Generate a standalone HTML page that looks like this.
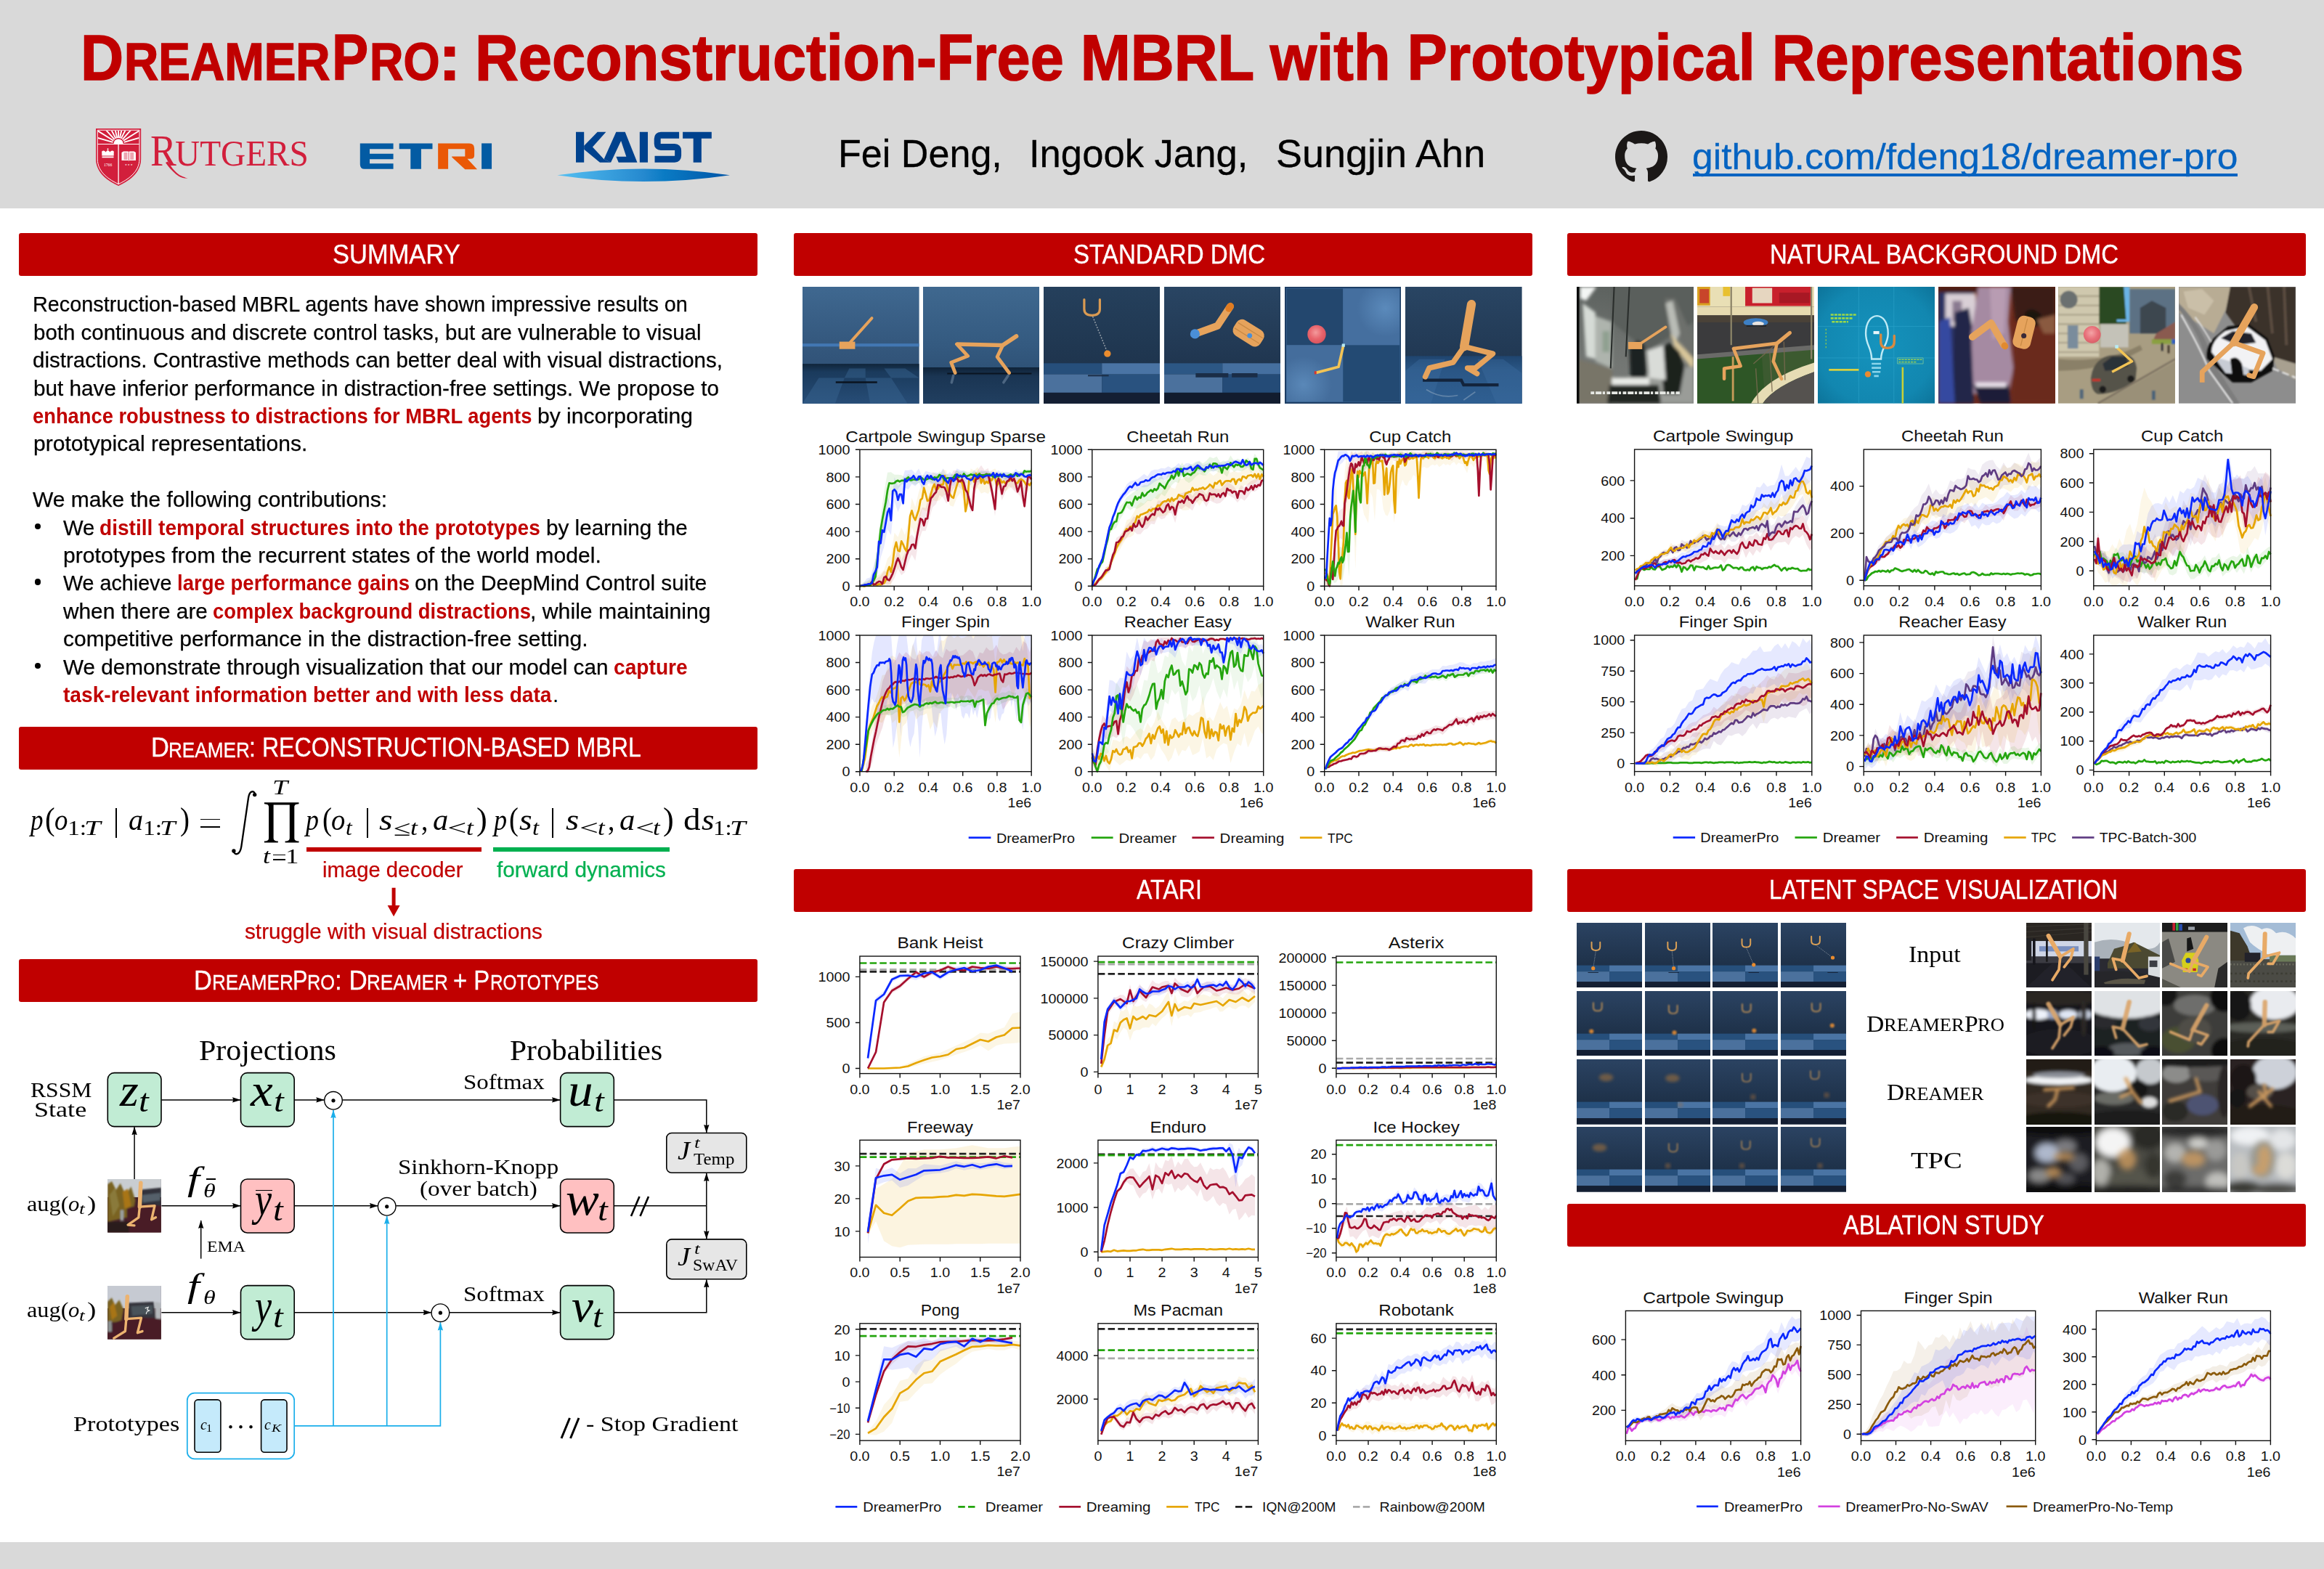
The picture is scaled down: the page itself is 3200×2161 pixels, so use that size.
<!DOCTYPE html>
<html><head><meta charset="utf-8"><title>DreamerPro poster</title><style>
html,body{margin:0;padding:0;background:#fff}
body{width:3200px;height:2161px;position:relative;overflow:hidden;font-family:"Liberation Sans",sans-serif;color:#000}
.t{position:absolute;white-space:pre;line-height:1;transform-origin:0 50%;margin:0;padding:0}
.bar{position:absolute;background:#c00000;border-radius:3px;height:59.2px;width:1017px}
.abs{position:absolute}
svg{position:absolute;overflow:visible}
svg text{font-family:"Liberation Sans",sans-serif}
.ser{font-family:"Liberation Serif",serif}
svg polyline{vector-effect:non-scaling-stroke;fill:none;stroke-linejoin:round}
</style></head><body>
<div class="abs" style="left:0;top:0;width:3200px;height:287px;background:#d9d9d9"></div>
<div class="abs" style="left:0;top:2124px;width:3200px;height:37px;background:#d9d9d9"></div>
<div class="t" style="left:111.22px;top:35.92px;font-size:88.20px;font-weight:700;color:#c00000;transform:scaleX(0.9281);-webkit-text-stroke:1.5px #c00000;">D</div>
<div class="t" style="left:171.22px;top:49.39px;font-size:72.30px;font-weight:700;color:#c00000;transform:scaleX(0.9052);-webkit-text-stroke:1.5px #c00000;">REAMER</div>
<div class="t" style="left:457.18px;top:35.92px;font-size:88.20px;font-weight:700;color:#c00000;transform:scaleX(0.8515);-webkit-text-stroke:1.5px #c00000;">P</div>
<div class="t" style="left:509.00px;top:49.39px;font-size:72.30px;font-weight:700;color:#c00000;transform:scaleX(0.8899);-webkit-text-stroke:1.5px #c00000;">RO</div>
<div class="t" style="left:604.44px;top:35.92px;font-size:88.20px;font-weight:700;color:#c00000;transform:scaleX(1.0319);-webkit-text-stroke:1.5px #c00000;">:</div>
<div class="t" style="left:654.15px;top:35.92px;font-size:88.20px;font-weight:700;color:#c00000;transform:scaleX(0.9401);-webkit-text-stroke:1.5px #c00000;">Reconstruction-Free MBRL with Prototypical Representations</div>
<div class="t" style="left:1154.33px;top:185.33px;font-size:54.30px;transform:scaleX(0.9594);-webkit-text-stroke:0.3px #000;">Fei Deng,</div>
<div class="t" style="left:1417.44px;top:185.33px;font-size:54.30px;transform:scaleX(0.9689);-webkit-text-stroke:0.3px #000;">Ingook Jang,</div>
<div class="t" style="left:1757.15px;top:185.33px;font-size:54.30px;transform:scaleX(0.9942);-webkit-text-stroke:0.3px #000;">Sungjin Ahn</div>
<svg style="left:2223.8px;top:179.5px" width="72" height="72" viewBox="0 0 16 16"><path fill="#1b1817" d="M8 0C3.58 0 0 3.58 0 8c0 3.54 2.29 6.53 5.47 7.59.4.07.55-.17.55-.38 0-.19-.01-.82-.01-1.49-2.01.37-2.53-.49-2.69-.94-.09-.23-.48-.94-.82-1.13-.28-.15-.68-.52-.01-.53.63-.01 1.08.58 1.23.82.72 1.21 1.87.87 2.33.66.07-.52.28-.87.51-1.07-1.78-.2-3.64-.89-3.64-3.95 0-.87.31-1.59.82-2.15-.08-.2-.36-1.02.08-2.12 0 0 .67-.21 2.2.82.64-.18 1.32-.27 2-.27.68 0 1.36.09 2 .27 1.53-1.04 2.2-.82 2.2-.82.44 1.1.16 1.92.08 2.12.51.56.82 1.27.82 2.15 0 3.07-1.87 3.75-3.65 3.95.29.25.54.73.54 1.48 0 1.07-.01 1.93-.01 2.2 0 .21.15.46.55.38A8.013 8.013 0 0016 8c0-4.42-3.58-8-8-8z"/></svg>
<div class="t" style="left:2330.43px;top:191.29px;font-size:49.50px;color:#0563c1;transform:scaleX(1.0423);-webkit-text-stroke:0.3px #0563c1;">github.com/fdeng18/dreamer-pro</div>
<div class="abs" style="left:2331px;top:239px;width:750px;height:3.5px;background:#0563c1"></div>
<svg style="left:480px;top:170px" width="540" height="90" viewBox="0 0 2324 387.3"><g fill="#035ba3"><path d="M68,118H265V152H125V180H265V212H125V238H265V270H95Q68,270 68,243Z"/><path d="M300,118H497V152H430V270H367V152H300Z"/><rect x="788" y="118" width="60" height="152"/></g><g fill="#ea5806"><path d="M530,118H715Q745,118 745,148V190Q745,210 722,210H704L762,272H690L612,200V196H690V152H590V270H530Z"/></g></svg>
<svg style="left:760px;top:170px" width="260" height="90" viewBox="0 0 2324 804.4"><defs><linearGradient id="kg" x1="0" x2="1" y1="0" y2="0"><stop offset="0" stop-color="#55c0f2"/><stop offset="0.5" stop-color="#2589cf"/><stop offset="0.62" stop-color="#0a7bc4"/><stop offset="1" stop-color="#0054a6"/></linearGradient></defs><g fill="#00428e"><rect x="295" y="105" width="100" height="375"/><path d="M395,275L560,105H665L500,290L640,440L725,480H590L395,320Z"/><path d="M790,105H900L1050,480H820L790,410H915L850,215L725,480L640,440Z"/><rect x="1080" y="105" width="100" height="375"/><path d="M1610,105H1965V185H1840V480H1740V185H1610Z"/></g><path d="M1565,145H1340Q1298,145 1298,190V250Q1298,290 1340,290H1510Q1552,290 1552,335V395Q1552,440 1510,440H1265" fill="none" stroke="#00428e" stroke-width="80"/><path d="M65,637Q1130,480 2190,637Q1130,795 65,637Z" fill="url(#kg)"/></svg>
<svg style="left:132px;top:177px" width="62.2" height="79" viewBox="0 0 62.2 79"><path d="M0,0H62.2V42C62.2,62 44,73 31.1,79C18,73 0,62 0,42Z" fill="#d21f3c"/><path d="M2.2,2.2H60V42C60,60.5 43,70.8 31.1,76.6C19,70.8 2.2,60.5 2.2,42Z" fill="none" stroke="#fff" stroke-width="1"/><path d="M2.5,21.5H59.7" stroke="#fff" stroke-width="1.2"/><path d="M31.1,21V77" stroke="#fff" stroke-width="1.3"/><path d="M24.5,21A6.6,6.6 0 0 1 37.7,21Z" fill="#fff"/><clipPath id="rc"><rect x="3" y="3" width="56.2" height="18"/></clipPath><path d="M23.4,18.8L-7.4,10.0M24.3,16.8L-2.8,-0.2M25.7,15.1L4.3,-8.7M27.5,13.9L12.9,-14.6M29.3,13.2L22.1,-18.0M31.1,13.0L31.1,-19.0M32.9,13.2L40.1,-18.0M34.7,13.9L49.3,-14.6M36.5,15.1L57.9,-8.7M37.9,16.8L65.0,-0.2M38.8,18.8L69.6,10.0" stroke="#fff" stroke-width="1.9" clip-path="url(#rc)"/><path d="M8.3,37.5V33.5Q7.5,31 10,30.5Q12.5,30.3 13.5,32.5Q15,30 16.5,30Q18,30 19.5,32.5Q20.5,30.3 23,30.5Q25.5,31 24.7,33.5V37.5ZM8.5,38.6H24.5V40.2H8.5Z" fill="#fff"/><path d="M16.5,27.2V30M15.3,28.3H17.7" stroke="#fff" stroke-width="0.8"/><path d="M35.5,33L38,31.5H44.5L45.3,32.2L46.1,31.5H52.6L55,33V44H46.3L45.3,44.8L44.3,44H35.5Z" fill="#fff"/><path d="M45.3,32.5V44M38.5,34H43.5M38.5,36H43.5M38.5,38H43.5M38.5,40H43.5M38.5,42H43.5M47.2,34H52.2M47.2,36H52.2M47.2,38H52.2M47.2,40H52.2M47.2,42H52.2" stroke="#d21f3c" stroke-width="0.8"/><text x="16.6" y="52.5" font-size="5.6" fill="#fff" text-anchor="middle" class="ser">1766</text><text x="45.3" y="53.5" font-size="6" fill="#fff" text-anchor="middle">* * *</text></svg>
<div class="t" style="left:207.25px;top:177.18px;font-size:61.40px;font-family:'Liberation Serif',serif;color:#d21f3c;transform:scaleX(0.8748);">R</div>
<div class="t" style="left:240.51px;top:186.39px;font-size:50.40px;font-family:'Liberation Serif',serif;color:#d21f3c;transform:scaleX(0.9383);">UTGERS</div>
<svg style="left:228px;top:222px" width="40" height="30" viewBox="0 0 40 30"><path d="M3,0.5C9,9 15,20.5 30.5,23.3C24,24.8 13.5,21 0,2Z" fill="#d21f3c"/></svg>
<div class="bar" style="left:26px;top:321px"></div>
<div class="t" style="left:457.77px;top:331.92px;font-size:37.42px;color:#fff;transform:scaleX(0.9219);-webkit-text-stroke:0.35px #fff;">SUMMARY</div>
<div class="bar" style="left:1092.5px;top:321px"></div>
<div class="t" style="left:1478.33px;top:331.92px;font-size:37.42px;color:#fff;transform:scaleX(0.8852);-webkit-text-stroke:0.35px #fff;">STANDARD DMC</div>
<div class="bar" style="left:2158px;top:321px"></div>
<div class="t" style="left:2436.68px;top:331.92px;font-size:37.42px;color:#fff;transform:scaleX(0.8817);-webkit-text-stroke:0.35px #fff;">NATURAL BACKGROUND DMC</div>
<div class="bar" style="left:26px;top:1000.5px"></div>
<div class="t" style="left:207.82px;top:1011.42px;font-size:37.42px;color:#fff;transform:scaleX(0.9186);-webkit-text-stroke:0.35px #fff;">D</div>
<div class="t" style="left:232.46px;top:1017.58px;font-size:30.15px;color:#fff;transform:scaleX(0.8667);-webkit-text-stroke:0.35px #fff;">REAMER</div>
<div class="t" style="left:343.32px;top:1011.42px;font-size:37.42px;color:#fff;transform:scaleX(0.8602);-webkit-text-stroke:0.35px #fff;">: RECONSTRUCTION-BASED MBRL</div>
<div class="bar" style="left:26px;top:1321px"></div>
<div class="t" style="left:266.87px;top:1331.92px;font-size:37.42px;color:#fff;transform:scaleX(0.9186);-webkit-text-stroke:0.35px #fff;">D</div>
<div class="t" style="left:291.52px;top:1338.08px;font-size:30.15px;color:#fff;transform:scaleX(0.8667);-webkit-text-stroke:0.35px #fff;">REAMER</div>
<div class="t" style="left:402.87px;top:1331.92px;font-size:37.42px;color:#fff;transform:scaleX(0.8223);-webkit-text-stroke:0.35px #fff;">P</div>
<div class="t" style="left:423.22px;top:1338.08px;font-size:30.15px;color:#fff;transform:scaleX(0.8406);-webkit-text-stroke:0.35px #fff;">RO</div>
<div class="t" style="left:460.71px;top:1331.92px;font-size:37.42px;color:#fff;transform:scaleX(0.9348);-webkit-text-stroke:0.35px #fff;">: D</div>
<div class="t" style="left:505.20px;top:1338.08px;font-size:30.15px;color:#fff;transform:scaleX(0.8667);-webkit-text-stroke:0.35px #fff;">REAMER</div>
<div class="t" style="left:624.47px;top:1331.92px;font-size:37.42px;color:#fff;transform:scaleX(0.8801);-webkit-text-stroke:0.35px #fff;">+ P</div>
<div class="t" style="left:674.62px;top:1338.08px;font-size:30.15px;color:#fff;transform:scaleX(0.8057);-webkit-text-stroke:0.35px #fff;">ROTOTYPES</div>
<div class="bar" style="left:1092.5px;top:1196.5px"></div>
<div class="t" style="left:1565.38px;top:1207.42px;font-size:37.42px;color:#fff;transform:scaleX(0.8607);-webkit-text-stroke:0.35px #fff;">ATARI</div>
<div class="bar" style="left:2158px;top:1196.5px"></div>
<div class="t" style="left:2436.25px;top:1207.42px;font-size:37.42px;color:#fff;transform:scaleX(0.8533);-webkit-text-stroke:0.35px #fff;">LATENT SPACE VISUALIZATION</div>
<div class="bar" style="left:2158px;top:1658px"></div>
<div class="t" style="left:2538.36px;top:1668.92px;font-size:37.42px;color:#fff;transform:scaleX(0.8672);-webkit-text-stroke:0.35px #fff;">ABLATION STUDY</div>
<div class="t" style="left:45.34px;top:404.49px;font-size:29.31px;transform:scaleX(0.9831);-webkit-text-stroke:0.25px #000;">Reconstruction-based MBRL agents have shown impressive results on</div>
<div class="t" style="left:45.75px;top:442.89px;font-size:29.31px;transform:scaleX(1.0064);-webkit-text-stroke:0.25px #000;">both continuous and discrete control tasks, but are vulnerable to visual</div>
<div class="t" style="left:45.32px;top:481.29px;font-size:29.31px;transform:scaleX(1.0076);-webkit-text-stroke:0.25px #000;">distractions. Contrastive methods can better deal with visual distractions,</div>
<div class="t" style="left:45.74px;top:519.69px;font-size:29.31px;transform:scaleX(1.0140);-webkit-text-stroke:0.25px #000;">but have inferior performance in distraction-free settings. We propose to</div>
<div class="t" style="left:45.32px;top:558.09px;font-size:29.31px;font-weight:700;color:#c00000;transform:scaleX(0.9328);">enhance robustness to distractions for MBRL agents</div>
<div class="t" style="left:740.16px;top:558.09px;font-size:29.31px;transform:scaleX(1.0263);-webkit-text-stroke:0.25px #000;">by incorporating</div>
<div class="t" style="left:45.67px;top:596.49px;font-size:29.31px;transform:scaleX(1.0250);-webkit-text-stroke:0.25px #000;">prototypical representations.</div>
<div class="t" style="left:45.46px;top:673.29px;font-size:29.31px;transform:scaleX(1.0242);-webkit-text-stroke:0.25px #000;">We make the following contributions:</div>
<div class="t" style="left:87.06px;top:711.69px;font-size:29.31px;transform:scaleX(0.9979);-webkit-text-stroke:0.25px #000;">We</div>
<div class="t" style="left:137.33px;top:711.69px;font-size:29.31px;font-weight:700;color:#c00000;transform:scaleX(0.9583);">distill temporal structures into the prototypes</div>
<div class="t" style="left:751.59px;top:711.69px;font-size:29.31px;transform:scaleX(1.0135);-webkit-text-stroke:0.25px #000;">by learning the</div>
<div class="t" style="left:87.26px;top:750.09px;font-size:29.31px;transform:scaleX(1.0294);-webkit-text-stroke:0.25px #000;">prototypes from the recurrent states of the world model.</div>
<div class="t" style="left:87.06px;top:788.49px;font-size:29.31px;transform:scaleX(0.9797);-webkit-text-stroke:0.25px #000;">We achieve</div>
<div class="t" style="left:243.71px;top:788.49px;font-size:29.31px;font-weight:700;color:#c00000;transform:scaleX(0.9408);">large performance gains</div>
<div class="t" style="left:570.80px;top:788.49px;font-size:29.31px;transform:scaleX(1.0164);-webkit-text-stroke:0.25px #000;">on the DeepMind Control suite</div>
<div class="t" style="left:87.37px;top:826.89px;font-size:29.31px;transform:scaleX(1.0177);-webkit-text-stroke:0.25px #000;">when there are</div>
<div class="t" style="left:293.20px;top:826.89px;font-size:29.31px;font-weight:700;color:#c00000;transform:scaleX(0.9340);">complex background distractions</div>
<div class="t" style="left:730.44px;top:826.89px;font-size:29.31px;transform:scaleX(1.0314);-webkit-text-stroke:0.25px #000;">, while maintaining</div>
<div class="t" style="left:86.80px;top:865.29px;font-size:29.31px;transform:scaleX(1.0248);-webkit-text-stroke:0.25px #000;">competitive performance in the distraction-free setting.</div>
<div class="t" style="left:87.06px;top:903.69px;font-size:29.31px;transform:scaleX(1.0136);-webkit-text-stroke:0.25px #000;">We demonstrate through visualization that our model can</div>
<div class="t" style="left:844.83px;top:903.69px;font-size:29.31px;font-weight:700;color:#c00000;transform:scaleX(0.9613);">capture</div>
<div class="t" style="left:86.95px;top:942.09px;font-size:29.31px;font-weight:700;color:#c00000;transform:scaleX(0.9607);">task-relevant information better and with less data</div>
<div class="t" style="left:760.98px;top:942.09px;font-size:29.31px;">.</div>
<div class="abs" style="left:47.5px;top:720.5px;width:8.6px;height:8.6px;border-radius:50%;background:#000"></div>
<div class="abs" style="left:47.5px;top:797.3px;width:8.6px;height:8.6px;border-radius:50%;background:#000"></div>
<div class="abs" style="left:47.5px;top:912.5px;width:8.6px;height:8.6px;border-radius:50%;background:#000"></div>
<svg style="left:0;top:0" width="3200" height="2161" viewBox="0 0 3200 2161"><polygon transform="translate(1183.9,619.3) scale(2.3869,0.5)" points="0,374 2,369 4,365 6,359 8,352 10,347 12,342 14,331 16,300 18,289 20,229 22,241 24,214 26,235 28,203 30,133 32,158 34,117 36,89 38,87 40,103 42,61 44,67 46,74 48,54 50,58 52,93 54,103 56,67 58,63 60,76 62,123 64,52 66,58 68,48 70,69 72,66 74,68 76,57 78,52 80,65 82,71 84,78 86,69 88,64 90,73 92,66 94,67 96,82 98,80 99,71 99,107 98,111 96,116 94,100 92,97 90,112 88,102 86,108 84,115 82,111 80,112 78,95 76,109 74,122 72,117 70,121 68,106 66,112 64,103 62,171 60,141 58,119 56,132 54,157 52,154 50,122 48,127 46,140 44,142 42,139 40,174 38,169 36,164 34,204 32,238 30,214 28,271 26,313 24,298 22,333 20,309 18,376 16,369 14,376 12,376 10,376 8,376 6,376 4,376 2,376 0,376" fill="#e6a500" fill-opacity="0.1"/><polygon transform="translate(1183.9,619.3) scale(2.3869,0.5)" points="0,374 2,370 4,368 6,362 8,359 10,354 12,348 14,334 16,338 18,333 20,304 22,272 24,303 26,284 28,243 30,234 32,245 34,181 36,159 38,161 40,121 42,105 44,84 46,69 48,80 50,97 52,78 54,57 56,58 58,67 60,67 62,96 64,136 66,82 68,57 70,43 72,57 74,51 76,83 78,139 80,60 82,98 84,75 86,69 88,65 90,77 92,81 94,106 96,90 98,58 99,61 99,97 98,89 96,132 94,145 92,125 90,119 88,108 86,100 84,117 82,140 80,104 78,183 76,129 74,91 72,96 70,90 68,99 66,126 64,176 62,139 60,114 58,107 56,98 54,108 52,126 50,149 48,132 46,125 44,150 42,159 40,193 38,224 36,224 34,252 32,306 30,289 28,310 26,338 24,346 22,328 20,354 18,369 16,374 14,367 12,376 10,376 8,376 6,376 4,376 2,376 0,376" fill="#a50f2d" fill-opacity="0.1"/><polygon transform="translate(1183.9,619.3) scale(2.3869,0.5)" points="0,374 2,366 4,363 6,356 8,331 10,269 12,186 14,116 16,63 18,62 20,69 22,69 24,70 26,76 28,67 30,74 32,73 34,71 36,70 38,72 40,67 42,73 44,69 46,60 48,67 50,68 52,68 54,69 56,57 58,61 60,58 62,61 64,61 66,61 68,61 70,61 72,60 74,61 76,65 78,63 80,65 82,60 84,64 86,64 88,63 90,61 92,59 94,61 96,54 98,53 99,51 99,68 98,69 96,69 94,75 92,75 90,76 88,81 86,78 84,81 82,78 80,80 78,78 76,81 74,78 72,80 70,79 68,80 66,79 64,78 62,80 60,75 58,79 56,78 54,89 52,91 50,88 48,87 46,78 44,89 42,93 40,88 38,92 36,89 34,92 32,97 30,93 28,88 26,96 24,96 22,109 20,123 18,125 16,154 14,214 12,260 10,345 8,376 6,376 4,376 2,376 0,376" fill="#23a50d" fill-opacity="0.1"/><polygon transform="translate(1183.9,619.3) scale(2.3869,0.5)" points="0,374 2,368 4,355 6,352 8,320 10,287 12,222 14,188 16,128 18,154 20,76 22,100 24,91 26,57 28,57 30,55 32,66 34,52 36,74 38,59 40,62 42,64 44,63 46,68 48,52 50,69 52,62 54,70 56,52 58,57 60,58 62,65 64,69 66,56 68,66 70,57 72,59 74,59 76,60 78,63 80,57 82,64 84,61 86,62 88,66 90,53 92,63 94,58 96,65 98,61 99,63 99,81 98,81 96,86 94,80 92,83 90,75 88,87 86,89 84,86 82,87 80,82 78,89 76,81 74,85 72,88 70,85 68,91 66,82 64,98 62,93 60,85 58,90 56,84 54,100 52,97 50,103 48,88 46,98 44,98 42,95 40,93 38,99 36,108 34,90 32,101 30,95 28,110 26,105 24,149 22,172 20,143 18,235 16,219 14,268 12,298 10,350 8,365 6,376 4,376 2,376 0,376" fill="#0a28ff" fill-opacity="0.1"/><g><polyline transform="translate(1183.9,619.3) scale(2.3869,0.5)" points="0,376 1,375 2,376 3,376 4,375 5,373 6,374 7,370 8,371 9,371 10,374 11,370 12,372 13,369 14,368 15,359 16,336 17,323 18,337 19,312 20,273 21,255 22,278 23,280 24,252 25,261 26,273 27,280 28,237 29,183 30,168 31,185 32,194 33,180 34,166 35,139 36,134 37,105 38,122 39,141 40,140 41,123 42,105 43,95 44,111 45,108 46,101 47,96 48,96 49,72 50,95 51,113 52,123 53,130 54,133 55,114 56,98 57,84 58,88 59,91 60,112 61,170 62,147 63,85 64,80 65,78 66,89 67,66 68,76 69,66 70,92 71,78 72,94 73,88 74,92 75,79 76,85 77,77 78,75 79,100 80,92 81,82 82,91 83,87 84,93 85,88 86,87 87,83 88,84 89,82 90,92 91,92 92,84 93,81 94,84 95,89 96,97 97,94 98,98 99,90" stroke="#e6a500" stroke-width="2.7"/><polyline transform="translate(1183.9,619.3) scale(2.3869,0.5)" points="0,376 1,375 2,374 3,375 4,374 5,371 6,370 7,364 8,372 9,371 10,366 11,363 12,364 13,370 14,352 15,349 16,358 17,360 18,351 19,341 20,327 21,311 22,299 23,309 24,324 25,331 26,311 27,291 28,278 29,274 30,262 31,261 32,272 33,239 34,214 35,190 36,193 37,209 38,190 39,190 40,158 41,134 42,129 43,122 44,117 45,97 46,98 47,103 48,103 49,105 50,117 51,141 52,100 53,79 54,78 55,82 56,78 57,88 58,87 59,82 60,91 61,111 62,118 63,136 64,156 65,167 66,107 67,81 68,80 69,74 70,70 71,72 72,74 73,67 74,69 75,87 76,109 77,135 78,164 79,90 80,79 81,96 82,122 83,102 84,100 85,87 86,84 87,76 88,86 89,80 90,95 91,116 92,103 93,87 94,127 95,156 96,113 97,75 98,75 99,82" stroke="#a50f2d" stroke-width="2.7"/><polyline transform="translate(1183.9,619.3) scale(2.3869,0.5)" points="0,376 1,375 2,375 3,375 4,373 5,374 6,373 7,366 8,360 9,350 10,308 11,267 12,221 13,193 14,168 15,144 16,112 17,92 18,93 19,93 20,92 21,87 22,85 23,88 24,85 25,85 26,85 27,80 28,76 29,84 30,84 31,82 32,83 33,83 34,82 35,77 36,79 37,83 38,83 39,81 40,78 41,80 42,82 43,76 44,78 45,76 46,69 47,72 48,77 49,85 50,79 51,78 52,80 53,79 54,77 55,70 56,68 57,76 58,71 59,76 60,66 61,72 62,73 63,71 64,68 65,70 66,69 67,73 68,70 69,67 70,71 71,70 72,70 73,68 74,69 75,68 76,71 77,75 78,70 79,74 80,73 81,71 82,69 83,72 84,72 85,73 86,71 87,68 88,73 89,69 90,68 91,73 92,69 93,67 94,68 95,58 96,61 97,60 98,60 99,59" stroke="#23a50d" stroke-width="2.7"/><polyline transform="translate(1183.9,619.3) scale(2.3869,0.5)" points="0,376 1,375 2,374 3,372 4,372 5,370 6,370 7,368 8,344 9,335 10,324 11,253 12,258 13,222 14,227 15,201 16,173 17,162 18,195 19,114 20,110 21,116 22,139 23,123 24,123 25,148 26,81 27,88 28,83 29,80 30,78 31,72 32,80 33,83 34,74 35,74 36,89 37,95 38,78 39,71 40,79 41,72 42,79 43,83 44,80 45,87 46,83 47,73 48,72 49,79 50,87 51,92 52,78 53,79 54,87 55,82 56,68 57,72 58,72 59,75 60,72 61,74 62,80 63,81 64,84 65,81 66,70 67,74 68,77 69,71 70,73 71,77 72,73 73,72 74,71 75,72 76,70 77,64 78,77 79,66 80,72 81,68 82,75 83,67 84,73 85,74 86,76 87,71 88,75 89,72 90,64 91,67 92,72 93,67 94,69 95,74 96,75 97,71 98,70 99,71" stroke="#0a28ff" stroke-width="2.7"/></g><rect x="1183.9" y="619.3" width="236.3" height="188.0" fill="none" stroke="#111" stroke-width="1.4"/><path d="M1183.9,807.3v6M1231.2,807.3v6M1278.4,807.3v6M1325.7,807.3v6M1372.9,807.3v6M1420.2,807.3v6M1183.9,807.3h-6M1183.9,769.7h-6M1183.9,732.1h-6M1183.9,694.5h-6M1183.9,656.9h-6M1183.9,619.3h-6" stroke="#111" stroke-width="1.4" fill="none"/><g fill="#111"><text x="1183.9" y="835.2" font-size="17.7" text-anchor="middle" textLength="27.4" lengthAdjust="spacingAndGlyphs">0.0</text><text x="1231.2" y="835.2" font-size="17.7" text-anchor="middle" textLength="27.4" lengthAdjust="spacingAndGlyphs">0.2</text><text x="1278.4" y="835.2" font-size="17.7" text-anchor="middle" textLength="27.4" lengthAdjust="spacingAndGlyphs">0.4</text><text x="1325.7" y="835.2" font-size="17.7" text-anchor="middle" textLength="27.4" lengthAdjust="spacingAndGlyphs">0.6</text><text x="1372.9" y="835.2" font-size="17.7" text-anchor="middle" textLength="27.4" lengthAdjust="spacingAndGlyphs">0.8</text><text x="1420.2" y="835.2" font-size="17.7" text-anchor="middle" textLength="27.4" lengthAdjust="spacingAndGlyphs">1.0</text><text x="1170.5" y="814.0" font-size="17.7" text-anchor="end" textLength="11.0" lengthAdjust="spacingAndGlyphs">0</text><text x="1170.5" y="776.4" font-size="17.7" text-anchor="end" textLength="32.9" lengthAdjust="spacingAndGlyphs">200</text><text x="1170.5" y="738.8" font-size="17.7" text-anchor="end" textLength="32.9" lengthAdjust="spacingAndGlyphs">400</text><text x="1170.5" y="701.2" font-size="17.7" text-anchor="end" textLength="32.9" lengthAdjust="spacingAndGlyphs">600</text><text x="1170.5" y="663.6" font-size="17.7" text-anchor="end" textLength="32.9" lengthAdjust="spacingAndGlyphs">800</text><text x="1170.5" y="626.0" font-size="17.7" text-anchor="end" textLength="43.9" lengthAdjust="spacingAndGlyphs">1000</text><text x="1302.1" y="608.5" font-size="22.4" text-anchor="middle" textLength="275.7" lengthAdjust="spacingAndGlyphs">Cartpole Swingup Sparse</text></g><polygon transform="translate(1503.8,619.3) scale(2.3828,0.5)" points="0,374 2,362 4,352 6,343 8,325 10,311 12,284 14,260 16,241 18,223 20,194 22,190 24,174 26,155 28,145 30,149 32,138 34,140 36,134 38,123 40,120 42,101 44,94 46,105 48,108 50,81 52,81 54,75 56,78 58,56 60,59 62,67 64,58 66,71 68,63 70,72 72,65 74,48 76,56 78,55 80,64 82,59 84,63 86,62 88,43 90,52 92,47 94,46 96,48 98,50 99,59 99,88 98,89 96,83 94,93 92,96 90,96 88,98 86,114 84,108 82,114 80,116 78,113 76,124 74,118 72,122 70,142 68,130 66,145 64,141 62,155 60,142 58,142 56,166 54,167 52,167 50,156 48,173 46,162 44,181 42,181 40,184 38,183 36,197 34,197 32,206 30,209 28,206 26,204 24,235 22,241 20,243 18,258 16,276 14,288 12,312 10,336 8,348 6,361 4,366 2,373 0,376" fill="#e6a500" fill-opacity="0.1"/><polygon transform="translate(1503.8,619.3) scale(2.3828,0.5)" points="0,374 2,366 4,352 6,341 8,323 10,321 12,280 14,243 16,237 18,223 20,209 22,199 24,184 26,188 28,189 30,185 32,177 34,155 36,163 38,140 40,141 42,144 44,134 46,133 48,158 50,121 52,120 54,115 56,114 58,128 60,112 62,105 64,111 66,124 68,102 70,107 72,108 74,109 76,100 78,88 80,94 82,102 84,116 86,98 88,105 90,94 92,86 94,82 96,80 98,67 99,66 99,97 98,98 96,109 94,116 92,115 90,130 88,141 86,134 84,146 82,134 80,129 78,123 76,138 74,147 72,149 70,145 68,140 66,158 64,142 62,138 60,147 58,168 56,161 54,155 52,163 50,164 48,202 46,176 44,173 42,189 40,192 38,185 36,206 34,204 32,218 30,221 28,233 26,233 24,224 22,229 20,243 18,250 16,266 14,270 12,301 10,339 8,342 6,356 4,363 2,376 0,376" fill="#a50f2d" fill-opacity="0.1"/><polygon transform="translate(1503.8,619.3) scale(2.3828,0.5)" points="0,370 2,340 4,318 6,302 8,256 10,211 12,195 14,187 16,157 18,147 20,131 22,124 24,117 26,111 28,104 30,97 32,98 34,86 36,77 38,83 40,69 42,88 44,66 46,52 48,47 50,51 52,36 54,50 56,41 58,39 60,33 62,31 64,38 66,31 68,20 70,24 72,19 74,35 76,30 78,35 80,16 82,31 84,25 86,29 88,26 90,22 92,35 94,11 96,26 98,37 99,40 99,68 98,70 96,53 94,37 92,65 90,50 88,56 86,60 84,57 82,61 80,52 78,75 76,66 74,65 72,60 70,58 68,61 66,71 64,71 62,67 60,74 58,85 56,92 54,86 52,72 50,92 48,89 46,98 44,113 42,129 40,122 38,137 36,133 34,142 32,141 30,151 28,158 26,163 24,160 22,167 20,159 18,178 16,193 14,215 12,222 10,230 8,276 6,317 4,331 2,352 0,376" fill="#23a50d" fill-opacity="0.1"/><polygon transform="translate(1503.8,619.3) scale(2.3828,0.5)" points="0,371 2,347 4,315 6,293 8,250 10,205 12,176 14,152 16,126 18,114 20,96 22,87 24,85 26,82 28,75 30,67 32,74 34,59 36,55 38,55 40,51 42,52 44,46 46,51 48,46 50,37 52,48 54,38 56,37 58,44 60,36 62,33 64,43 66,39 68,35 70,40 72,35 74,36 76,36 78,30 80,34 82,28 84,29 86,31 88,30 90,34 92,37 94,31 96,34 98,33 99,37 99,49 98,45 96,46 94,44 92,48 90,50 88,47 86,46 84,43 82,44 80,50 78,48 76,55 74,53 72,56 70,61 68,56 66,59 64,63 62,59 60,59 58,70 56,62 54,64 52,72 50,69 48,72 46,76 44,75 42,84 40,81 38,84 36,89 34,96 32,102 30,104 28,103 26,113 24,112 22,116 20,126 18,134 16,151 14,172 12,194 10,221 8,266 6,308 4,326 2,357 0,376" fill="#0a28ff" fill-opacity="0.1"/><g><polyline transform="translate(1503.8,619.3) scale(2.3828,0.5)" points="0,376 1,374 2,369 3,362 4,359 5,356 6,350 7,344 8,338 9,329 10,325 11,310 12,298 13,286 14,272 15,262 16,255 17,248 18,238 19,226 20,218 21,222 22,212 23,213 24,205 25,199 26,183 27,187 28,179 29,178 30,176 31,174 32,172 33,165 34,169 35,163 36,163 37,161 38,153 39,155 40,149 41,144 42,142 43,142 44,137 45,143 46,133 47,141 48,136 49,135 50,124 51,127 52,128 53,133 54,121 55,119 56,116 57,116 58,105 59,112 60,109 61,111 62,107 63,107 64,104 65,109 66,106 67,102 68,96 69,100 70,105 71,91 72,94 73,88 74,85 75,98 76,92 77,87 78,86 79,86 80,88 81,81 82,81 83,95 84,84 85,81 86,86 87,74 88,75 89,79 90,72 91,71 92,70 93,75 94,67 95,78 96,67 97,81 98,68 99,74" stroke="#e6a500" stroke-width="2.7"/><polyline transform="translate(1503.8,619.3) scale(2.3828,0.5)" points="0,376 1,373 2,372 3,365 4,357 5,353 6,347 7,339 8,332 9,332 10,329 11,308 12,290 13,281 14,256 15,255 16,250 17,241 18,238 19,226 20,224 21,221 22,215 23,223 24,204 25,213 26,210 27,195 28,207 29,213 30,204 31,185 32,194 33,188 34,181 35,177 36,180 37,162 38,166 39,161 40,167 41,173 42,169 43,155 44,150 45,165 46,157 47,160 48,179 49,156 50,143 51,145 52,140 53,147 54,136 55,128 56,138 57,139 58,147 59,139 60,132 61,130 62,122 63,124 64,126 65,138 66,141 67,138 68,120 69,124 70,123 71,123 72,129 73,122 74,131 75,122 76,119 77,128 78,107 79,112 80,112 81,119 82,115 83,116 84,133 85,114 86,114 87,115 88,122 89,105 90,112 91,109 92,100 93,110 94,98 95,103 96,97 97,99 98,86 99,84" stroke="#a50f2d" stroke-width="2.7"/><polyline transform="translate(1503.8,619.3) scale(2.3828,0.5)" points="0,374 1,361 2,346 3,329 4,325 5,314 6,309 7,287 8,264 9,247 10,221 11,219 12,206 13,199 14,198 15,176 16,175 17,173 18,165 19,154 20,145 21,146 22,145 23,154 24,140 25,129 26,138 27,131 28,133 29,119 30,128 31,125 32,118 33,115 34,111 35,116 36,108 37,112 38,107 39,93 40,98 41,101 42,107 43,96 44,87 45,82 46,71 47,80 48,72 49,56 50,72 51,53 52,54 53,73 54,69 55,66 56,68 57,70 58,65 59,63 60,56 61,47 62,52 63,51 64,54 65,60 66,51 67,50 68,41 69,50 70,38 71,38 72,40 73,48 74,49 75,64 76,45 77,50 78,54 79,46 80,36 81,43 82,48 83,41 84,43 85,41 86,47 87,47 88,42 89,30 90,34 91,35 92,52 93,55 94,25 95,25 96,41 97,50 98,53 99,56" stroke="#23a50d" stroke-width="2.7"/><polyline transform="translate(1503.8,619.3) scale(2.3828,0.5)" points="0,375 1,361 2,352 3,338 4,321 5,311 6,300 7,279 8,259 9,236 10,214 11,203 12,186 13,175 14,160 15,147 16,138 17,131 18,124 19,119 20,112 21,105 22,101 23,104 24,97 25,91 26,98 27,97 28,90 29,89 30,88 31,84 32,86 33,85 34,79 35,76 36,75 37,71 38,68 39,68 40,69 41,65 42,67 43,64 44,63 45,63 46,63 47,59 48,61 49,53 50,53 51,59 52,61 53,52 54,53 55,53 56,50 57,47 58,57 59,52 60,47 61,43 62,46 63,52 64,55 65,56 66,48 67,50 68,44 69,46 70,50 71,45 72,47 73,44 74,45 75,44 76,44 77,43 78,40 79,40 80,43 81,39 82,35 83,33 84,35 85,37 86,39 87,28 88,39 89,43 90,41 91,33 92,42 93,39 94,37 95,37 96,40 97,35 98,39 99,43" stroke="#0a28ff" stroke-width="2.7"/></g><rect x="1503.8" y="619.3" width="235.9" height="188.0" fill="none" stroke="#111" stroke-width="1.4"/><path d="M1503.8,807.3v6M1551.0,807.3v6M1598.2,807.3v6M1645.3,807.3v6M1692.5,807.3v6M1739.7,807.3v6M1503.8,807.3h-6M1503.8,769.7h-6M1503.8,732.1h-6M1503.8,694.5h-6M1503.8,656.9h-6M1503.8,619.3h-6" stroke="#111" stroke-width="1.4" fill="none"/><g fill="#111"><text x="1503.8" y="835.2" font-size="17.7" text-anchor="middle" textLength="27.4" lengthAdjust="spacingAndGlyphs">0.0</text><text x="1551.0" y="835.2" font-size="17.7" text-anchor="middle" textLength="27.4" lengthAdjust="spacingAndGlyphs">0.2</text><text x="1598.2" y="835.2" font-size="17.7" text-anchor="middle" textLength="27.4" lengthAdjust="spacingAndGlyphs">0.4</text><text x="1645.3" y="835.2" font-size="17.7" text-anchor="middle" textLength="27.4" lengthAdjust="spacingAndGlyphs">0.6</text><text x="1692.5" y="835.2" font-size="17.7" text-anchor="middle" textLength="27.4" lengthAdjust="spacingAndGlyphs">0.8</text><text x="1739.7" y="835.2" font-size="17.7" text-anchor="middle" textLength="27.4" lengthAdjust="spacingAndGlyphs">1.0</text><text x="1490.4" y="814.0" font-size="17.7" text-anchor="end" textLength="11.0" lengthAdjust="spacingAndGlyphs">0</text><text x="1490.4" y="776.4" font-size="17.7" text-anchor="end" textLength="32.9" lengthAdjust="spacingAndGlyphs">200</text><text x="1490.4" y="738.8" font-size="17.7" text-anchor="end" textLength="32.9" lengthAdjust="spacingAndGlyphs">400</text><text x="1490.4" y="701.2" font-size="17.7" text-anchor="end" textLength="32.9" lengthAdjust="spacingAndGlyphs">600</text><text x="1490.4" y="663.6" font-size="17.7" text-anchor="end" textLength="32.9" lengthAdjust="spacingAndGlyphs">800</text><text x="1490.4" y="626.0" font-size="17.7" text-anchor="end" textLength="43.9" lengthAdjust="spacingAndGlyphs">1000</text><text x="1621.8" y="608.5" font-size="22.4" text-anchor="middle" textLength="141.0" lengthAdjust="spacingAndGlyphs">Cheetah Run</text></g><polygon transform="translate(1824.9,619.3) scale(1.4787,0.5)" points="0,297 2,297 4,328 6,187 8,113 10,93 12,201 14,287 16,221 18,63 20,10 22,72 24,4 26,4 28,151 30,4 32,4 34,4 36,4 38,4 40,4 42,4 44,4 46,4 48,4 50,4 52,4 54,4 56,4 58,55 60,29 62,4 64,72 66,4 68,4 70,4 72,4 74,4 76,4 78,4 80,4 82,4 84,4 86,31 88,33 90,4 92,4 94,4 96,4 98,4 100,4 102,5 104,4 106,4 108,4 110,4 112,4 114,4 116,4 118,4 120,4 122,5 124,4 126,4 128,4 130,16 132,22 134,6 136,4 138,13 140,9 142,4 144,4 146,4 148,4 150,4 152,41 154,12 156,13 158,9 159,5 159,35 158,39 156,42 154,46 152,71 150,37 148,28 146,33 144,35 142,40 140,38 138,49 136,39 134,42 132,65 130,53 128,40 126,39 124,36 122,43 120,34 118,37 116,44 114,40 112,43 110,38 108,44 106,48 104,40 102,44 100,41 98,44 96,50 94,51 92,47 90,52 88,111 86,98 84,75 82,69 80,83 78,86 76,100 74,97 72,83 70,100 68,130 66,158 64,202 62,138 60,169 58,183 56,180 54,164 52,117 50,110 48,109 46,196 44,132 42,117 40,203 38,190 36,179 34,150 32,134 30,172 28,331 26,185 24,161 22,197 20,167 18,218 16,374 14,376 12,301 10,208 8,219 6,286 4,376 2,376 0,376" fill="#e6a500" fill-opacity="0.09"/><polygon transform="translate(1824.9,619.3) scale(1.4787,0.5)" points="0,336 2,338 4,354 6,303 8,285 10,191 12,172 14,166 16,162 18,112 20,63 22,24 24,4 26,11 28,4 30,11 32,9 34,4 36,17 38,4 40,4 42,14 44,9 46,12 48,17 50,17 52,6 54,11 56,20 58,19 60,5 62,5 64,7 66,10 68,4 70,6 72,4 74,26 76,4 78,11 80,4 82,7 84,8 86,6 88,7 90,6 92,5 94,4 96,5 98,4 100,4 102,11 104,6 106,8 108,7 110,6 112,4 114,4 116,9 118,9 120,5 122,6 124,7 126,4 128,5 130,4 132,4 134,7 136,5 138,4 140,5 142,49 144,50 146,4 148,4 150,4 152,7 154,99 156,9 158,6 159,7 159,28 158,25 156,25 154,120 152,24 150,23 148,19 146,22 144,66 142,65 140,27 138,26 136,24 134,26 132,25 130,26 128,27 126,22 124,26 122,24 120,23 118,31 116,27 114,26 112,24 110,27 108,26 106,27 104,25 102,32 100,23 98,24 96,28 94,21 92,29 90,29 88,24 86,27 84,25 82,27 80,27 78,30 76,27 74,47 72,28 70,29 68,24 66,32 64,31 62,26 60,29 58,40 56,43 54,33 52,30 50,40 48,40 46,39 44,41 42,57 40,46 38,49 36,59 34,46 32,70 30,76 28,77 26,108 24,84 22,115 20,150 18,192 16,248 14,244 12,248 10,253 8,333 6,353 4,376 2,376 0,376" fill="#a50f2d" fill-opacity="0.1"/><polygon transform="translate(1824.9,619.3) scale(1.4787,0.5)" points="0,300 2,329 4,337 6,305 8,295 10,285 12,272 14,267 16,272 18,226 20,175 22,237 24,103 26,74 28,177 30,30 32,97 34,42 36,8 38,4 40,20 42,24 44,6 46,15 48,11 50,12 52,11 54,10 56,5 58,11 60,10 62,11 64,11 66,12 68,10 70,5 72,8 74,9 76,10 78,10 80,6 82,10 84,9 86,12 88,9 90,10 92,12 94,8 96,5 98,6 100,6 102,12 104,4 106,10 108,9 110,9 112,8 114,8 116,10 118,8 120,4 122,9 124,12 126,9 128,8 130,10 132,9 134,9 136,8 138,6 140,8 142,8 144,10 146,11 148,11 150,8 152,8 154,10 156,5 158,7 159,6 159,15 158,15 156,14 154,19 152,16 150,16 148,18 146,20 144,19 142,17 140,18 138,15 136,16 134,19 132,20 130,22 128,17 126,21 124,22 122,18 120,15 118,18 116,19 114,19 112,17 110,18 108,18 106,21 104,14 102,22 100,18 98,18 96,18 94,21 92,25 90,22 88,22 86,23 84,21 82,23 80,18 78,22 76,26 74,22 72,22 70,21 68,24 66,25 64,24 62,24 60,21 58,26 56,19 54,21 52,25 50,24 48,28 46,34 44,34 42,55 40,60 38,51 36,75 34,115 32,166 30,110 28,270 26,161 24,224 22,350 20,277 18,326 16,361 14,338 12,356 10,366 8,367 6,357 4,376 2,374 0,356" fill="#23a50d" fill-opacity="0.1"/><polygon transform="translate(1824.9,619.3) scale(1.4787,0.5)" points="0,334 2,268 4,169 6,164 8,66 10,37 12,4 14,4 16,4 18,4 20,4 22,16 24,20 26,12 28,10 30,12 32,15 34,13 36,12 38,14 40,12 42,12 44,17 46,13 48,12 50,12 52,9 54,8 56,15 58,13 60,13 62,10 64,9 66,12 68,12 70,12 72,11 74,11 76,10 78,9 80,13 82,12 84,10 86,13 88,11 90,12 92,12 94,9 96,11 98,12 100,14 102,10 104,10 106,11 108,9 110,11 112,9 114,12 116,10 118,9 120,8 122,5 124,10 126,8 128,12 130,14 132,14 134,9 136,12 138,13 140,9 142,11 144,11 146,10 148,12 150,10 152,8 154,9 156,10 158,10 159,9 159,15 158,16 156,17 154,15 152,15 150,17 148,17 146,16 144,18 142,17 140,16 138,21 136,19 134,17 132,21 130,22 128,19 126,15 124,17 122,13 120,14 118,17 116,18 114,19 112,17 110,20 108,19 106,19 104,18 102,18 100,20 98,22 96,21 94,17 92,20 90,22 88,20 86,21 84,19 82,21 80,22 78,19 76,18 74,21 72,21 70,22 68,20 66,21 64,18 62,19 60,24 58,24 56,25 54,20 52,21 50,21 48,22 46,24 44,26 42,23 40,24 38,25 36,21 34,24 32,25 30,23 28,22 26,24 24,30 22,29 20,28 18,27 16,36 14,40 12,51 10,73 8,103 6,209 4,212 2,303 0,374" fill="#0a28ff" fill-opacity="0.1"/><g><polyline transform="translate(1824.9,619.3) scale(1.4787,0.5)" points="0,343 1,338 2,347 3,355 4,370 5,298 6,242 7,178 8,170 9,159 10,154 11,183 12,248 13,337 14,356 15,303 16,289 17,252 18,141 19,92 20,85 21,126 22,134 23,99 24,69 25,53 26,100 27,149 28,233 29,112 30,60 31,76 32,58 33,65 34,64 35,72 36,66 37,62 38,94 39,148 40,90 41,43 42,31 43,38 44,27 45,93 46,92 47,41 48,32 49,37 50,32 51,31 52,32 53,30 54,60 55,124 56,78 57,51 58,122 59,116 60,94 61,63 62,51 63,44 64,141 65,174 66,73 67,33 68,48 69,26 70,39 71,31 72,26 73,24 74,44 75,41 76,23 77,25 78,26 79,25 80,19 81,24 82,24 83,21 84,21 85,16 86,64 87,133 88,73 89,25 90,19 91,24 92,21 93,16 94,20 95,17 96,23 97,14 98,18 99,16 100,20 101,23 102,24 103,21 104,16 105,18 106,22 107,21 108,22 109,24 110,21 111,21 112,17 113,23 114,19 115,25 116,23 117,20 118,18 119,16 120,14 121,14 122,19 123,13 124,19 125,24 126,20 127,16 128,17 129,29 130,37 131,34 132,43 133,31 134,22 135,18 136,17 137,23 138,29 139,22 140,22 141,16 142,20 143,17 144,19 145,16 146,16 147,15 148,16 149,16 150,17 151,14 152,57 153,67 154,28 155,20 156,25 157,20 158,22 159,21" stroke="#e6a500" stroke-width="2.7"/><polyline transform="translate(1824.9,619.3) scale(1.4787,0.5)" points="0,356 1,360 2,357 3,371 4,376 5,345 6,325 7,357 8,310 9,257 10,223 11,219 12,212 13,210 14,205 15,197 16,208 17,210 18,149 19,132 20,111 21,90 22,68 23,49 24,38 25,41 26,58 27,64 28,39 29,48 30,43 31,34 32,44 33,33 34,19 35,29 36,37 37,36 38,26 39,40 40,23 41,22 42,35 43,30 44,24 45,29 46,23 47,21 48,26 49,24 50,28 51,19 52,18 53,15 54,22 55,21 56,34 57,41 58,31 59,27 60,18 61,19 62,17 63,17 64,20 65,19 66,19 67,18 68,15 69,14 70,18 71,15 72,16 73,17 74,34 75,29 76,17 77,22 78,19 79,14 80,14 81,18 82,16 83,16 84,17 85,19 86,16 87,15 88,15 89,18 90,18 91,16 92,18 93,16 94,11 95,15 96,15 97,13 98,14 99,14 100,14 101,16 102,19 103,16 104,15 105,21 106,18 107,16 108,15 109,16 110,17 111,14 112,15 113,17 114,15 115,17 116,18 117,19 118,18 119,15 120,13 121,16 122,16 123,16 124,15 125,14 126,15 127,14 128,16 129,15 130,14 131,16 132,14 133,15 134,16 135,15 136,13 137,17 138,14 139,16 140,15 141,14 142,57 143,127 144,58 145,15 146,13 147,14 148,11 149,14 150,13 151,13 152,15 153,42 154,110 155,68 156,17 157,16 158,15 159,17" stroke="#a50f2d" stroke-width="2.7"/><polyline transform="translate(1824.9,619.3) scale(1.4787,0.5)" points="0,328 1,337 2,353 3,366 4,371 5,353 6,330 7,308 8,330 9,348 10,328 11,322 12,311 13,314 14,302 15,296 16,311 17,304 18,282 19,260 20,229 21,281 22,281 23,196 24,159 25,139 26,113 27,157 28,227 29,114 30,71 31,105 32,136 33,146 34,73 35,45 36,44 37,21 38,28 39,42 40,43 41,50 42,38 43,25 44,19 45,21 46,24 47,21 48,20 49,19 50,18 51,14 52,17 53,15 54,16 55,15 56,13 57,17 58,17 59,18 60,16 61,15 62,17 63,19 64,19 65,14 66,18 67,18 68,17 69,19 70,13 71,18 72,16 73,17 74,17 75,20 76,18 77,15 78,16 79,10 80,12 81,18 82,16 83,15 84,14 85,17 86,18 87,16 88,15 89,15 90,17 91,16 92,18 93,19 94,13 95,14 96,12 97,16 98,11 99,15 100,13 101,14 102,16 103,13 104,9 105,11 106,15 107,15 108,14 109,18 110,14 111,12 112,13 113,13 114,13 115,13 116,14 117,17 118,13 119,13 120,9 121,13 122,14 123,12 124,16 125,15 126,15 127,15 128,13 129,13 130,16 131,15 132,15 133,13 134,15 135,14 136,12 137,11 138,11 139,14 140,13 141,13 142,13 143,14 144,15 145,14 146,15 147,9 148,14 149,14 150,12 151,13 152,12 153,12 154,14 155,14 156,10 157,11 158,12 159,10" stroke="#23a50d" stroke-width="2.7"/><polyline transform="translate(1824.9,619.3) scale(1.4787,0.5)" points="0,356 1,344 2,285 3,235 4,189 5,209 6,189 7,112 8,82 9,63 10,54 11,42 12,30 13,27 14,23 15,19 16,17 17,18 18,15 19,14 20,16 21,18 22,22 23,31 24,25 25,17 26,18 27,18 28,17 29,15 30,18 31,20 32,19 33,18 34,18 35,19 36,17 37,20 38,20 39,16 40,18 41,19 42,17 43,18 44,22 45,20 46,18 47,16 48,16 49,15 50,17 51,16 52,15 53,16 54,15 55,16 56,19 57,16 58,19 59,17 60,19 61,16 62,15 63,15 64,14 65,15 66,16 67,14 68,16 69,16 70,17 71,20 72,16 73,19 74,15 75,12 76,14 77,16 78,14 79,17 80,18 81,15 82,17 83,17 84,14 85,15 86,16 87,19 88,15 89,15 90,17 91,16 92,16 93,16 94,14 95,15 96,16 97,14 98,17 99,15 100,17 101,15 102,14 103,14 104,13 105,15 106,14 107,16 108,14 109,16 110,16 111,15 112,13 113,16 114,16 115,16 116,14 117,14 118,13 119,15 120,11 121,12 122,9 123,12 124,13 125,12 126,11 127,14 128,16 129,15 130,18 131,16 132,17 133,14 134,12 135,15 136,15 137,13 138,17 139,15 140,12 141,14 142,15 143,11 144,14 145,15 146,12 147,13 148,15 149,14 150,13 151,13 152,12 153,12 154,12 155,14 156,13 157,12 158,13 159,12" stroke="#0a28ff" stroke-width="2.7"/></g><rect x="1823.7" y="619.3" width="236.3" height="188.0" fill="none" stroke="#111" stroke-width="1.4"/><path d="M1823.7,807.3v6M1871.0,807.3v6M1918.2,807.3v6M1965.5,807.3v6M2012.7,807.3v6M2060.0,807.3v6M1823.7,807.3h-6M1823.7,769.7h-6M1823.7,732.1h-6M1823.7,694.5h-6M1823.7,656.9h-6M1823.7,619.3h-6" stroke="#111" stroke-width="1.4" fill="none"/><g fill="#111"><text x="1823.7" y="835.2" font-size="17.7" text-anchor="middle" textLength="27.4" lengthAdjust="spacingAndGlyphs">0.0</text><text x="1871.0" y="835.2" font-size="17.7" text-anchor="middle" textLength="27.4" lengthAdjust="spacingAndGlyphs">0.2</text><text x="1918.2" y="835.2" font-size="17.7" text-anchor="middle" textLength="27.4" lengthAdjust="spacingAndGlyphs">0.4</text><text x="1965.5" y="835.2" font-size="17.7" text-anchor="middle" textLength="27.4" lengthAdjust="spacingAndGlyphs">0.6</text><text x="2012.7" y="835.2" font-size="17.7" text-anchor="middle" textLength="27.4" lengthAdjust="spacingAndGlyphs">0.8</text><text x="2060.0" y="835.2" font-size="17.7" text-anchor="middle" textLength="27.4" lengthAdjust="spacingAndGlyphs">1.0</text><text x="1810.3" y="814.0" font-size="17.7" text-anchor="end" textLength="11.0" lengthAdjust="spacingAndGlyphs">0</text><text x="1810.3" y="776.4" font-size="17.7" text-anchor="end" textLength="32.9" lengthAdjust="spacingAndGlyphs">200</text><text x="1810.3" y="738.8" font-size="17.7" text-anchor="end" textLength="32.9" lengthAdjust="spacingAndGlyphs">400</text><text x="1810.3" y="701.2" font-size="17.7" text-anchor="end" textLength="32.9" lengthAdjust="spacingAndGlyphs">600</text><text x="1810.3" y="663.6" font-size="17.7" text-anchor="end" textLength="32.9" lengthAdjust="spacingAndGlyphs">800</text><text x="1810.3" y="626.0" font-size="17.7" text-anchor="end" textLength="43.9" lengthAdjust="spacingAndGlyphs">1000</text><text x="1941.8" y="608.5" font-size="22.4" text-anchor="middle" textLength="113.3" lengthAdjust="spacingAndGlyphs">Cup Catch</text></g><polygon transform="translate(1186.3,875) scale(2.3630,0.5)" points="0,369 2,324 4,235 6,196 8,178 10,149 12,110 14,108 16,61 18,56 20,62 22,163 24,99 26,64 28,64 30,23 32,56 34,52 36,55 38,63 40,78 42,62 44,56 46,14 48,15 50,0 52,0 54,8 56,0 58,8 60,6 62,0 64,0 66,0 68,0 70,0 72,0 74,4 76,0 78,78 80,5 82,1 84,1 86,0 88,0 90,0 92,0 94,0 96,19 98,109 99,95 99,235 98,257 96,169 94,151 92,140 90,144 88,172 86,135 84,144 82,143 80,164 78,240 76,177 74,152 72,154 70,149 68,150 66,173 64,159 62,145 60,167 58,181 56,160 54,177 52,158 50,166 48,202 46,210 44,256 42,238 40,260 38,215 36,220 34,221 32,232 30,207 28,213 26,241 24,251 22,337 20,232 18,242 16,211 14,225 12,241 10,238 8,246 6,268 4,291 2,354 0,375" fill="#e6a500" fill-opacity="0.12"/><polygon transform="translate(1192.2,875) scale(2.3033,0.5)" points="0,355 2,338 4,283 6,223 8,177 10,127 12,103 14,90 16,65 18,69 20,47 22,57 24,46 26,55 28,64 30,67 32,41 34,51 36,44 38,45 40,59 42,40 44,56 46,63 48,37 50,45 52,42 54,38 56,56 58,55 60,47 62,39 64,45 66,69 68,47 70,50 72,33 74,42 76,41 78,26 80,46 82,53 84,51 86,45 88,50 90,32 92,45 94,16 96,23 98,47 99,29 99,189 98,180 96,167 94,170 92,182 90,162 88,178 86,179 84,192 82,205 80,173 78,181 76,185 74,188 72,193 70,179 68,176 66,183 64,185 62,183 60,169 58,187 56,171 54,202 52,172 50,198 48,195 46,183 44,190 42,197 40,189 38,191 36,180 34,185 32,175 30,178 28,174 26,173 24,188 22,189 20,198 18,188 16,191 14,220 12,217 10,253 8,278 6,303 4,348 2,375 0,375" fill="#a50f2d" fill-opacity="0.13"/><polygon transform="translate(1186.3,875) scale(2.3630,0.5)" points="0,371 2,316 4,256 6,231 8,215 10,205 12,194 14,193 16,190 18,188 20,178 22,182 24,200 26,188 28,184 30,177 32,174 34,184 36,177 38,172 40,169 42,168 44,170 46,168 48,170 50,172 52,172 54,172 56,173 58,166 60,169 62,165 64,168 66,184 68,168 70,165 72,237 74,188 76,176 78,165 80,162 82,157 84,158 86,152 88,158 90,158 92,222 94,177 96,145 98,151 99,154 99,184 98,177 96,176 94,203 92,247 90,184 88,179 86,180 84,183 82,187 80,193 78,192 76,200 74,219 72,262 70,190 68,194 66,208 64,193 62,192 60,199 58,194 56,198 54,203 52,196 50,200 48,201 46,202 44,201 42,197 40,202 38,202 36,206 34,210 32,202 30,208 28,208 26,222 24,226 22,212 20,212 18,219 16,221 14,219 12,219 10,222 8,233 6,249 4,268 2,327 0,375" fill="#23a50d" fill-opacity="0.1"/><polygon transform="translate(1185.1,875) scale(1.3135,0.5)" points="0,369 2,342 4,287 6,227 8,150 10,97 12,47 14,19 16,0 18,0 20,0 22,0 24,0 26,0 28,0 30,0 32,2 34,78 36,70 38,28 40,0 42,0 44,0 46,0 48,0 50,45 52,74 54,31 56,19 58,0 60,58 62,84 64,13 66,0 68,0 70,0 72,0 74,0 76,0 78,44 80,43 82,0 84,0 86,49 88,31 90,9 92,0 94,0 96,0 98,0 100,0 102,0 104,0 106,0 108,0 110,0 112,0 114,0 116,0 118,10 120,0 122,0 124,0 126,0 128,0 130,0 132,0 134,0 136,0 138,0 140,0 142,0 144,0 146,0 148,0 150,0 152,0 154,0 156,0 158,0 160,0 162,0 164,1 166,0 168,0 170,45 172,0 174,0 176,0 178,0 179,0 179,181 178,185 176,195 174,181 172,193 170,261 168,227 166,184 164,238 162,208 160,173 158,198 156,159 154,178 152,189 150,214 148,218 146,237 144,228 142,179 140,175 138,194 136,228 134,235 132,178 130,180 128,198 126,169 124,201 122,228 120,205 118,220 116,197 114,230 112,216 110,214 108,230 106,222 104,188 102,182 100,207 98,174 96,160 94,183 92,193 90,273 88,301 86,267 84,214 82,215 80,259 78,279 76,239 74,190 72,180 70,201 68,175 66,200 64,255 62,338 60,250 58,208 56,271 54,284 52,308 50,281 48,207 46,174 44,171 42,279 40,189 38,248 36,285 34,310 32,235 30,176 28,177 26,211 24,191 22,228 20,185 18,231 16,183 14,185 12,174 10,191 8,242 6,291 4,341 2,375 0,375" fill="#0a28ff" fill-opacity="0.11"/><g><polyline transform="translate(1186.3,875) scale(2.3630,0.5)" points="0,375 1,358 2,338 3,302 4,263 5,247 6,236 7,225 8,210 9,195 10,187 11,177 12,170 13,175 14,171 15,169 16,153 17,158 18,148 19,146 20,144 21,135 22,239 23,173 24,169 25,180 26,172 27,159 28,145 29,133 30,130 31,128 32,130 33,123 34,135 35,138 36,135 37,136 38,141 39,137 40,155 41,126 42,141 43,145 44,145 45,130 46,126 47,119 48,109 49,101 50,90 51,83 52,79 53,92 54,81 55,82 56,81 57,82 58,81 59,77 60,79 61,73 62,79 63,74 64,75 65,78 66,74 67,73 68,77 69,82 70,77 71,87 72,80 73,79 74,75 75,89 76,85 77,95 78,157 79,74 80,73 81,66 82,75 83,67 84,75 85,76 86,69 87,78 88,79 89,74 90,77 91,75 92,78 93,81 94,83 95,64 96,80 97,82 98,173 99,167" stroke="#e6a500" stroke-width="2.7"/><polyline transform="translate(1192.2,875) scale(2.3033,0.5)" points="0,375 1,375 2,363 3,334 4,310 5,286 6,266 7,243 8,222 9,202 10,184 11,169 12,158 13,149 14,145 15,138 16,136 17,130 18,128 19,131 20,127 21,127 22,125 23,126 24,123 25,122 26,123 27,122 28,120 29,119 30,120 31,124 32,121 33,122 34,120 35,122 36,119 37,119 38,120 39,119 40,118 41,117 42,114 43,117 44,117 45,119 46,120 47,117 48,116 49,115 50,117 51,115 52,116 53,113 54,114 55,110 56,112 57,114 58,113 59,111 60,112 61,109 62,110 63,110 64,121 65,138 66,129 67,116 68,112 69,109 70,112 71,109 72,112 73,108 74,107 75,110 76,111 77,108 78,108 79,106 80,105 81,123 82,129 83,107 84,108 85,106 86,104 87,106 88,105 89,103 90,103 91,104 92,104 93,106 94,106 95,107 96,106 97,107 98,107 99,103" stroke="#a50f2d" stroke-width="2.7"/><polyline transform="translate(1186.3,875) scale(2.3630,0.5)" points="0,375 1,348 2,320 3,292 4,262 5,251 6,241 7,232 8,225 9,218 10,214 11,213 12,208 13,206 14,206 15,202 16,205 17,202 18,203 19,200 20,196 21,193 22,197 23,197 24,212 25,210 26,204 27,199 28,197 29,194 30,192 31,190 32,191 33,192 34,197 35,193 36,193 37,189 38,187 39,189 40,186 41,188 42,185 43,183 44,187 45,187 46,185 47,185 48,187 49,185 50,185 51,185 52,184 53,184 54,186 55,184 56,184 57,184 58,181 59,182 60,182 61,182 62,181 63,183 64,180 65,179 66,197 67,182 68,183 69,181 70,179 71,177 72,248 73,215 74,205 75,196 76,188 77,187 78,178 79,174 80,177 81,175 82,173 83,172 84,172 85,170 86,167 87,169 88,169 89,172 90,172 91,168 92,234 93,240 94,192 95,176 96,161 97,159 98,164 99,170" stroke="#23a50d" stroke-width="2.7"/><polyline transform="translate(1185.1,875) scale(1.3135,0.5)" points="0,375 1,368 2,360 3,344 4,315 5,286 6,253 7,224 8,195 9,168 10,141 11,123 12,107 13,105 14,100 15,92 16,88 17,83 18,82 19,83 20,75 21,75 22,76 23,75 24,75 25,77 26,73 27,72 28,71 29,71 30,65 31,70 32,103 33,169 34,183 35,186 36,192 37,182 38,146 39,117 40,82 41,89 42,131 43,109 44,69 45,61 46,68 47,63 48,82 49,137 50,168 51,175 52,182 53,184 54,178 55,168 56,138 57,110 58,80 59,93 60,152 61,178 62,193 63,157 64,127 65,89 66,70 67,76 68,70 69,60 70,64 71,68 72,64 73,69 74,67 75,79 76,120 77,136 78,143 79,151 80,155 81,134 82,114 83,91 84,82 85,127 86,152 87,164 88,176 89,188 90,138 91,87 92,81 93,77 94,69 95,70 96,64 97,57 98,61 99,57 100,61 101,59 102,63 103,61 104,67 105,80 106,84 107,100 108,105 109,114 110,105 111,82 112,77 113,75 114,86 115,97 116,105 117,107 118,108 119,93 120,96 121,79 122,81 123,71 124,68 125,72 126,76 127,80 128,79 129,79 130,74 131,78 132,80 133,81 134,93 135,95 136,101 137,92 138,78 139,76 140,75 141,76 142,86 143,83 144,95 145,86 146,92 147,94 148,87 149,83 150,80 151,80 152,79 153,73 154,79 155,77 156,65 157,70 158,62 159,62 160,72 161,89 162,80 163,87 164,139 165,146 166,83 167,74 168,97 169,121 170,144 171,118 172,105 173,74 174,69 175,78 176,78 177,81 178,77 179,77" stroke="#0a28ff" stroke-width="2.7"/></g><rect x="1183.9" y="875" width="236.3" height="187.7" fill="none" stroke="#111" stroke-width="1.4"/><path d="M1183.9,1062.7v6M1231.2,1062.7v6M1278.4,1062.7v6M1325.7,1062.7v6M1372.9,1062.7v6M1420.2,1062.7v6M1183.9,1062.7h-6M1183.9,1025.2h-6M1183.9,987.6h-6M1183.9,950.1h-6M1183.9,912.5h-6M1183.9,875.0h-6" stroke="#111" stroke-width="1.4" fill="none"/><g fill="#111"><text x="1183.9" y="1090.6" font-size="17.7" text-anchor="middle" textLength="27.4" lengthAdjust="spacingAndGlyphs">0.0</text><text x="1231.2" y="1090.6" font-size="17.7" text-anchor="middle" textLength="27.4" lengthAdjust="spacingAndGlyphs">0.2</text><text x="1278.4" y="1090.6" font-size="17.7" text-anchor="middle" textLength="27.4" lengthAdjust="spacingAndGlyphs">0.4</text><text x="1325.7" y="1090.6" font-size="17.7" text-anchor="middle" textLength="27.4" lengthAdjust="spacingAndGlyphs">0.6</text><text x="1372.9" y="1090.6" font-size="17.7" text-anchor="middle" textLength="27.4" lengthAdjust="spacingAndGlyphs">0.8</text><text x="1420.2" y="1090.6" font-size="17.7" text-anchor="middle" textLength="27.4" lengthAdjust="spacingAndGlyphs">1.0</text><text x="1170.5" y="1069.4" font-size="17.7" text-anchor="end" textLength="11.0" lengthAdjust="spacingAndGlyphs">0</text><text x="1170.5" y="1031.9" font-size="17.7" text-anchor="end" textLength="32.9" lengthAdjust="spacingAndGlyphs">200</text><text x="1170.5" y="994.3" font-size="17.7" text-anchor="end" textLength="32.9" lengthAdjust="spacingAndGlyphs">400</text><text x="1170.5" y="956.8" font-size="17.7" text-anchor="end" textLength="32.9" lengthAdjust="spacingAndGlyphs">600</text><text x="1170.5" y="919.2" font-size="17.7" text-anchor="end" textLength="32.9" lengthAdjust="spacingAndGlyphs">800</text><text x="1170.5" y="881.7" font-size="17.7" text-anchor="end" textLength="43.9" lengthAdjust="spacingAndGlyphs">1000</text><text x="1302.1" y="864.2" font-size="22.4" text-anchor="middle" textLength="122.1" lengthAdjust="spacingAndGlyphs">Finger Spin</text><text x="1420.2" y="1112.0" font-size="17.7" text-anchor="end" textLength="32.6" lengthAdjust="spacingAndGlyphs">1e6</text></g><polygon transform="translate(1503.8,875) scale(2.3828,0.5)" points="0,309 2,327 4,318 6,306 8,306 10,323 12,288 14,289 16,294 18,282 20,278 22,286 24,274 26,262 28,256 30,265 32,241 34,256 36,239 38,209 40,231 42,247 44,263 46,232 48,226 50,239 52,233 54,230 56,217 58,222 60,214 62,210 64,167 66,231 68,225 70,237 72,211 74,184 76,204 78,194 80,232 82,201 84,206 86,190 88,151 90,178 92,153 94,155 96,137 98,131 99,120 99,270 98,271 96,251 94,263 92,290 90,309 88,269 86,305 84,298 82,322 80,352 78,301 76,297 74,304 72,314 70,344 68,332 66,339 64,283 62,320 60,326 58,330 56,303 54,319 52,316 50,334 48,309 46,337 44,349 42,329 40,315 38,295 36,332 34,344 32,325 30,326 28,341 26,334 24,342 22,347 20,343 18,351 16,358 14,349 12,340 10,375 8,359 6,347 4,371 2,368 0,355" fill="#e6a500" fill-opacity="0.1"/><polygon transform="translate(1503.8,875) scale(2.3828,0.5)" points="0,323 2,335 4,270 6,220 8,232 10,222 12,209 14,198 16,194 18,133 20,85 22,96 24,74 26,66 28,45 30,14 32,19 34,10 36,15 38,6 40,6 42,6 44,6 46,6 48,6 50,6 52,6 54,6 56,6 58,8 60,6 62,6 64,8 66,7 68,6 70,6 72,8 74,6 76,7 78,6 80,6 82,6 84,6 86,6 88,7 90,9 92,6 94,6 96,7 98,6 99,6 99,13 98,11 96,12 94,12 92,12 90,15 88,14 86,12 84,14 82,13 80,13 78,12 76,14 74,14 72,16 70,14 68,14 66,18 64,23 62,20 60,22 58,30 56,28 54,35 52,33 50,31 48,31 46,28 44,35 42,34 40,53 38,35 36,72 34,68 32,82 30,82 28,110 26,134 24,163 22,182 20,172 18,230 16,274 14,283 12,278 10,284 8,286 6,270 4,304 2,375 0,349" fill="#a50f2d" fill-opacity="0.12"/><polygon transform="translate(1503.8,875) scale(2.3828,0.5)" points="0,327 2,342 4,330 6,296 8,268 10,227 12,191 14,129 16,145 18,176 20,131 22,125 24,150 26,135 28,168 30,123 32,125 34,71 36,61 38,105 40,97 42,55 44,61 46,0 48,51 50,28 52,70 54,86 56,27 58,46 60,0 62,0 64,51 66,26 68,0 70,0 72,26 74,14 76,17 78,45 80,0 82,22 84,0 86,18 88,0 90,7 92,0 94,0 96,23 98,57 99,46 99,159 98,174 96,142 94,81 92,116 90,129 88,103 86,176 84,123 82,150 80,99 78,172 76,148 74,177 72,155 70,118 68,147 66,163 64,194 62,138 60,170 58,182 56,149 54,252 52,207 50,152 48,164 46,149 44,190 42,182 40,228 38,236 36,187 34,221 32,230 30,250 28,292 26,277 24,259 22,247 20,245 18,304 16,246 14,228 12,272 10,320 8,328 6,355 4,375 2,375 0,355" fill="#23a50d" fill-opacity="0.075"/><polygon transform="translate(1503.8,875) scale(2.3828,0.5)" points="0,309 2,327 4,266 6,264 8,216 10,123 12,125 14,134 16,117 18,118 20,45 22,66 24,55 26,6 28,49 30,6 32,20 34,15 36,9 38,19 40,8 42,17 44,13 46,10 48,19 50,6 52,6 54,6 56,6 58,6 60,6 62,6 64,6 66,6 68,9 70,12 72,18 74,27 76,55 78,6 80,6 82,6 84,11 86,15 88,6 90,6 92,20 94,19 96,27 98,24 99,33 99,65 98,54 96,62 94,51 92,55 90,37 88,27 86,51 84,43 82,26 80,23 78,25 76,91 74,61 72,50 70,48 68,45 66,32 64,25 62,28 60,27 58,29 56,21 54,37 52,28 50,33 48,62 46,52 44,45 42,48 40,49 38,55 36,60 34,61 32,78 30,74 28,111 26,83 24,135 22,162 20,158 18,198 16,203 14,220 12,214 10,207 8,288 6,325 4,319 2,366 0,337" fill="#0a28ff" fill-opacity="0.1"/><g><polyline transform="translate(1503.8,875) scale(2.3828,0.5)" points="0,332 1,335 2,349 3,331 4,341 5,326 6,328 7,346 8,332 9,348 10,353 11,341 12,318 13,322 14,314 15,325 16,329 17,327 18,314 19,313 20,308 21,322 22,316 23,339 24,308 25,307 26,305 27,297 28,297 29,305 30,297 31,285 32,280 33,271 34,298 35,274 36,285 37,269 38,256 39,251 40,269 41,259 42,296 43,264 44,302 45,275 46,283 47,279 48,261 49,270 50,280 51,271 52,273 53,241 54,270 55,256 56,254 57,268 58,276 59,264 60,274 61,278 62,259 63,227 64,230 65,266 66,282 67,237 68,284 69,259 70,278 71,266 72,268 73,290 74,245 75,257 76,249 77,277 78,256 79,250 80,288 81,256 82,266 83,216 84,250 85,233 86,240 87,226 88,197 89,206 90,236 91,222 92,217 93,213 94,214 95,211 96,196 97,202 98,199 99,194" stroke="#e6a500" stroke-width="2.7"/><polyline transform="translate(1503.8,875) scale(2.3828,0.5)" points="0,336 1,351 2,357 3,315 4,287 5,264 6,249 7,243 8,254 9,251 10,250 11,250 12,247 13,238 14,236 15,272 16,235 17,218 18,189 19,148 20,129 21,157 22,141 23,110 24,110 25,98 26,98 27,62 28,75 29,57 30,52 31,59 32,50 33,46 34,43 35,41 36,43 37,19 38,13 39,24 40,25 41,30 42,17 43,24 44,14 45,18 46,8 47,14 48,13 49,17 50,18 51,9 52,19 53,19 54,19 55,22 56,13 57,9 58,17 59,18 60,15 61,13 62,11 63,11 64,16 65,14 66,14 67,13 68,10 69,9 70,10 71,14 72,12 73,14 74,10 75,10 76,10 77,12 78,9 79,10 80,9 81,9 82,9 83,9 84,10 85,10 86,9 87,8 88,10 89,10 90,12 91,11 92,9 93,9 94,8 95,10 96,9 97,10 98,8 99,10" stroke="#a50f2d" stroke-width="2.7"/><polyline transform="translate(1503.8,875) scale(2.3828,0.5)" points="0,338 1,347 2,362 3,375 4,357 5,348 6,330 7,301 8,296 9,298 10,276 11,260 12,227 13,214 14,168 15,165 16,200 17,205 18,239 19,209 20,189 21,199 22,197 23,204 24,208 25,204 26,214 27,211 28,239 29,203 30,193 31,190 32,179 33,165 34,147 35,134 36,133 37,203 38,182 39,173 40,150 41,175 42,126 43,109 44,116 45,95 46,83 47,109 48,106 49,98 50,96 51,139 52,127 53,144 54,163 55,154 56,93 57,95 58,103 59,82 60,85 61,94 62,76 63,82 64,107 65,117 66,105 67,107 68,70 69,73 70,63 71,91 72,83 73,87 74,91 75,121 76,84 77,90 78,105 79,73 80,48 81,43 82,87 83,81 84,48 85,86 86,97 87,99 88,54 89,57 90,57 91,29 92,51 93,66 94,30 95,37 96,78 97,95 98,111 99,112" stroke="#23a50d" stroke-width="2.7"/><polyline transform="translate(1503.8,875) scale(2.3828,0.5)" points="0,325 1,346 2,348 3,328 4,294 5,295 6,300 7,254 8,258 9,212 10,168 11,192 12,171 13,184 14,182 15,216 16,161 17,203 18,160 19,132 20,101 21,108 22,110 23,110 24,103 25,68 26,44 27,60 28,83 29,79 30,40 31,70 32,46 33,34 34,35 35,43 36,33 37,53 38,38 39,30 40,29 41,37 42,32 43,31 44,31 45,16 46,31 47,12 48,40 49,27 50,17 51,14 52,10 53,13 54,23 55,16 56,8 57,6 58,13 59,10 60,11 61,10 62,10 63,27 64,10 65,12 66,16 67,29 68,26 69,48 70,28 71,39 72,36 73,25 74,47 75,47 76,75 77,50 78,7 79,17 80,7 81,13 82,6 83,10 84,27 85,6 86,33 87,13 88,9 89,15 90,18 91,35 92,37 93,28 94,36 95,41 96,44 97,44 98,41 99,50" stroke="#0a28ff" stroke-width="2.7"/></g><rect x="1503.8" y="875" width="235.9" height="187.7" fill="none" stroke="#111" stroke-width="1.4"/><path d="M1503.8,1062.7v6M1551.0,1062.7v6M1598.2,1062.7v6M1645.3,1062.7v6M1692.5,1062.7v6M1739.7,1062.7v6M1503.8,1062.7h-6M1503.8,1025.2h-6M1503.8,987.6h-6M1503.8,950.1h-6M1503.8,912.5h-6M1503.8,875.0h-6" stroke="#111" stroke-width="1.4" fill="none"/><g fill="#111"><text x="1503.8" y="1090.6" font-size="17.7" text-anchor="middle" textLength="27.4" lengthAdjust="spacingAndGlyphs">0.0</text><text x="1551.0" y="1090.6" font-size="17.7" text-anchor="middle" textLength="27.4" lengthAdjust="spacingAndGlyphs">0.2</text><text x="1598.2" y="1090.6" font-size="17.7" text-anchor="middle" textLength="27.4" lengthAdjust="spacingAndGlyphs">0.4</text><text x="1645.3" y="1090.6" font-size="17.7" text-anchor="middle" textLength="27.4" lengthAdjust="spacingAndGlyphs">0.6</text><text x="1692.5" y="1090.6" font-size="17.7" text-anchor="middle" textLength="27.4" lengthAdjust="spacingAndGlyphs">0.8</text><text x="1739.7" y="1090.6" font-size="17.7" text-anchor="middle" textLength="27.4" lengthAdjust="spacingAndGlyphs">1.0</text><text x="1490.4" y="1069.4" font-size="17.7" text-anchor="end" textLength="11.0" lengthAdjust="spacingAndGlyphs">0</text><text x="1490.4" y="1031.9" font-size="17.7" text-anchor="end" textLength="32.9" lengthAdjust="spacingAndGlyphs">200</text><text x="1490.4" y="994.3" font-size="17.7" text-anchor="end" textLength="32.9" lengthAdjust="spacingAndGlyphs">400</text><text x="1490.4" y="956.8" font-size="17.7" text-anchor="end" textLength="32.9" lengthAdjust="spacingAndGlyphs">600</text><text x="1490.4" y="919.2" font-size="17.7" text-anchor="end" textLength="32.9" lengthAdjust="spacingAndGlyphs">800</text><text x="1490.4" y="881.7" font-size="17.7" text-anchor="end" textLength="43.9" lengthAdjust="spacingAndGlyphs">1000</text><text x="1621.8" y="864.2" font-size="22.4" text-anchor="middle" textLength="148.1" lengthAdjust="spacingAndGlyphs">Reacher Easy</text><text x="1739.7" y="1112.0" font-size="17.7" text-anchor="end" textLength="32.6" lengthAdjust="spacingAndGlyphs">1e6</text></g><polygon transform="translate(1824.9,875) scale(2.3749,0.5)" points="0,363 2,355 4,345 6,342 8,336 10,331 12,328 14,324 16,321 18,319 20,315 22,314 24,312 26,311 28,313 30,310 32,310 34,309 36,311 38,311 40,307 42,304 44,304 46,302 48,303 50,298 52,299 54,299 56,298 58,299 60,300 62,297 64,297 66,297 68,297 70,297 72,293 74,296 76,295 78,290 80,296 82,294 84,293 86,292 88,295 90,295 92,293 94,289 96,285 98,287 99,290 99,301 98,297 96,297 94,300 92,303 90,305 88,306 86,303 84,302 82,304 80,307 78,299 76,303 74,306 72,302 70,305 68,306 66,306 64,306 62,307 60,307 58,308 56,306 54,307 52,306 50,304 48,310 46,309 44,311 42,312 40,314 38,317 36,317 34,317 32,316 30,316 28,320 26,318 24,319 22,320 20,321 18,324 16,326 14,329 12,333 10,335 8,341 6,347 4,350 2,358 0,367" fill="#e6a500" fill-opacity="0.1"/><polygon transform="translate(1824.9,875) scale(2.3749,0.5)" points="0,364 2,361 4,354 6,350 8,344 10,341 12,339 14,336 16,329 18,331 20,321 22,322 24,317 26,312 28,310 30,309 32,305 34,305 36,305 38,306 40,298 42,291 44,282 46,282 48,275 50,275 52,274 54,270 56,262 58,259 60,258 62,253 64,248 66,250 68,252 70,246 72,235 74,232 76,223 78,227 80,226 82,232 84,221 86,226 88,211 90,212 92,208 94,209 96,210 98,207 99,209 99,236 98,231 96,231 94,234 92,232 90,235 88,233 86,249 84,240 82,252 80,243 78,250 76,242 74,253 72,254 70,265 68,274 66,268 64,273 62,275 60,278 58,280 56,281 54,286 52,294 50,293 48,293 46,300 44,299 42,306 40,313 38,319 36,321 34,320 32,319 30,323 28,322 26,324 24,328 22,333 20,331 18,341 16,339 14,344 12,347 10,349 8,349 6,356 4,360 2,365 0,368" fill="#a50f2d" fill-opacity="0.12"/><polygon transform="translate(1824.9,875) scale(2.3749,0.5)" points="0,367 2,351 4,342 6,335 8,325 10,316 12,306 14,298 16,288 18,274 20,257 22,245 24,229 26,207 28,194 30,185 32,173 34,165 36,158 38,148 40,144 42,134 44,128 46,127 48,127 50,114 52,115 54,111 56,110 58,100 60,103 62,105 64,102 66,107 68,103 70,109 72,104 74,96 76,101 78,99 80,102 82,97 84,98 86,97 88,86 90,88 92,86 94,85 96,86 98,87 99,91 99,106 98,105 96,102 94,105 92,106 90,106 88,106 86,116 84,114 82,115 80,118 78,117 76,121 74,116 72,119 70,127 68,120 66,126 64,122 62,125 60,122 58,120 56,130 54,133 52,136 50,133 48,143 46,141 44,149 42,153 40,159 38,162 36,172 34,177 32,188 30,198 28,207 26,218 24,243 22,256 20,269 18,283 16,296 14,305 12,314 10,323 8,332 6,341 4,346 2,355 0,371" fill="#23a50d" fill-opacity="0.1"/><polygon transform="translate(1824.9,875) scale(2.3749,0.5)" points="0,367 2,341 4,328 6,321 8,310 10,306 12,293 14,282 16,274 18,261 20,248 22,235 24,220 26,211 28,202 30,191 32,178 34,159 36,157 38,144 40,140 42,135 44,130 46,122 48,127 50,110 52,108 54,104 56,101 58,106 60,98 62,94 64,94 66,94 68,84 70,85 72,82 74,81 76,78 78,74 80,75 82,80 84,82 86,76 88,77 90,72 92,73 94,70 96,69 98,64 99,63 99,94 98,94 96,97 94,102 92,100 90,105 88,109 86,108 84,108 82,107 80,105 78,102 76,109 74,111 72,114 70,114 68,113 66,120 64,116 62,117 60,122 58,133 56,133 54,131 52,137 50,138 48,154 46,148 44,152 42,160 40,165 38,166 36,177 34,180 32,195 30,205 28,219 26,229 24,236 22,247 20,262 18,272 16,286 14,293 12,302 10,314 8,318 6,327 4,333 2,346 0,371" fill="#0a28ff" fill-opacity="0.1"/><g><polyline transform="translate(1824.9,875) scale(2.3749,0.5)" points="0,366 1,360 2,357 3,351 4,348 5,345 6,345 7,342 8,339 9,335 10,333 11,333 12,330 13,328 14,326 15,325 16,323 17,324 18,322 19,320 20,318 21,318 22,317 23,316 24,315 25,314 26,315 27,316 28,317 29,316 30,313 31,314 32,313 33,312 34,313 35,314 36,314 37,314 38,314 39,313 40,311 41,312 42,309 43,311 44,308 45,307 46,306 47,306 48,307 49,303 50,301 51,305 52,302 53,301 54,303 55,301 56,302 57,300 58,304 59,302 60,303 61,304 62,302 63,302 64,301 65,302 66,301 67,301 68,302 69,301 70,302 71,300 72,298 73,298 74,301 75,301 76,299 77,298 78,295 79,298 80,302 81,298 82,299 83,297 84,298 85,299 86,299 87,301 88,299 89,296 90,299 91,298 92,297 93,296 94,294 95,292 96,291 97,293 98,293 99,297" stroke="#e6a500" stroke-width="2.7"/><polyline transform="translate(1824.9,875) scale(2.3749,0.5)" points="0,366 1,364 2,363 3,359 4,357 5,354 6,353 7,350 8,347 9,347 10,345 11,344 12,343 13,342 14,340 15,341 16,334 17,333 18,335 19,333 20,327 21,326 22,326 23,325 24,322 25,318 26,319 27,319 28,318 29,318 30,315 31,311 32,311 33,313 34,313 35,312 36,313 37,316 38,313 39,309 40,306 41,308 42,298 43,297 44,290 45,289 46,292 47,283 48,285 49,287 50,285 51,287 52,285 53,285 54,277 55,281 56,272 57,277 58,270 59,266 60,270 61,270 62,263 63,259 64,261 65,258 66,259 67,260 68,262 69,256 70,254 71,250 72,246 73,247 74,244 75,237 76,231 77,244 78,239 79,241 80,235 81,240 82,240 83,232 84,231 85,228 86,237 87,228 88,223 89,231 90,223 91,226 92,221 93,224 94,221 95,217 96,222 97,216 98,220 99,223" stroke="#a50f2d" stroke-width="2.7"/><polyline transform="translate(1824.9,875) scale(2.3749,0.5)" points="0,369 1,362 2,353 3,346 4,344 5,342 6,337 7,333 8,329 9,323 10,320 11,314 12,310 13,306 14,301 15,296 16,291 17,286 18,278 19,270 20,263 21,261 22,250 23,246 24,236 25,228 26,213 27,211 28,201 29,196 30,191 31,186 32,181 33,172 34,171 35,165 36,164 37,161 38,155 39,156 40,151 41,146 42,144 43,143 44,139 45,142 46,134 47,138 48,134 49,132 50,125 51,127 52,127 53,130 54,122 55,121 56,119 57,118 58,111 59,116 60,114 61,116 62,114 63,115 64,113 65,117 66,116 67,114 68,111 69,114 70,117 71,109 72,111 73,108 74,106 75,115 76,112 77,109 78,109 79,109 80,109 81,105 82,104 83,112 84,105 85,103 86,105 87,98 88,98 89,100 90,96 91,96 92,95 93,98 94,94 95,100 96,94 97,103 98,95 99,99" stroke="#23a50d" stroke-width="2.7"/><polyline transform="translate(1824.9,875) scale(2.3749,0.5)" points="0,369 1,355 2,344 3,335 4,331 5,327 6,323 7,318 8,314 9,312 10,309 11,303 12,298 13,295 14,288 15,286 16,280 17,273 18,267 19,259 20,254 21,248 22,242 23,239 24,228 25,226 26,220 27,210 28,209 29,206 30,198 31,187 32,185 33,178 34,170 35,166 36,165 37,157 38,157 39,153 40,153 41,153 42,149 43,142 44,139 45,141 46,137 47,136 48,139 49,130 50,124 51,124 52,122 53,123 54,119 55,115 56,117 57,117 58,118 59,115 60,112 61,110 62,106 63,105 64,105 65,107 66,107 67,105 68,98 69,98 70,97 71,97 72,98 73,96 74,98 75,95 76,94 77,96 78,89 79,91 80,90 81,92 82,91 83,91 84,96 85,90 86,90 87,90 88,92 89,87 90,89 91,88 92,86 93,89 94,85 95,87 96,85 97,86 98,82 99,81" stroke="#0a28ff" stroke-width="2.7"/></g><rect x="1823.7" y="875" width="236.3" height="187.7" fill="none" stroke="#111" stroke-width="1.4"/><path d="M1823.7,1062.7v6M1871.0,1062.7v6M1918.2,1062.7v6M1965.5,1062.7v6M2012.7,1062.7v6M2060.0,1062.7v6M1823.7,1062.7h-6M1823.7,1025.2h-6M1823.7,987.6h-6M1823.7,950.1h-6M1823.7,912.5h-6M1823.7,875.0h-6" stroke="#111" stroke-width="1.4" fill="none"/><g fill="#111"><text x="1823.7" y="1090.6" font-size="17.7" text-anchor="middle" textLength="27.4" lengthAdjust="spacingAndGlyphs">0.0</text><text x="1871.0" y="1090.6" font-size="17.7" text-anchor="middle" textLength="27.4" lengthAdjust="spacingAndGlyphs">0.2</text><text x="1918.2" y="1090.6" font-size="17.7" text-anchor="middle" textLength="27.4" lengthAdjust="spacingAndGlyphs">0.4</text><text x="1965.5" y="1090.6" font-size="17.7" text-anchor="middle" textLength="27.4" lengthAdjust="spacingAndGlyphs">0.6</text><text x="2012.7" y="1090.6" font-size="17.7" text-anchor="middle" textLength="27.4" lengthAdjust="spacingAndGlyphs">0.8</text><text x="2060.0" y="1090.6" font-size="17.7" text-anchor="middle" textLength="27.4" lengthAdjust="spacingAndGlyphs">1.0</text><text x="1810.3" y="1069.4" font-size="17.7" text-anchor="end" textLength="11.0" lengthAdjust="spacingAndGlyphs">0</text><text x="1810.3" y="1031.9" font-size="17.7" text-anchor="end" textLength="32.9" lengthAdjust="spacingAndGlyphs">200</text><text x="1810.3" y="994.3" font-size="17.7" text-anchor="end" textLength="32.9" lengthAdjust="spacingAndGlyphs">400</text><text x="1810.3" y="956.8" font-size="17.7" text-anchor="end" textLength="32.9" lengthAdjust="spacingAndGlyphs">600</text><text x="1810.3" y="919.2" font-size="17.7" text-anchor="end" textLength="32.9" lengthAdjust="spacingAndGlyphs">800</text><text x="1810.3" y="881.7" font-size="17.7" text-anchor="end" textLength="43.9" lengthAdjust="spacingAndGlyphs">1000</text><text x="1941.8" y="864.2" font-size="22.4" text-anchor="middle" textLength="123.1" lengthAdjust="spacingAndGlyphs">Walker Run</text><text x="2060.0" y="1112.0" font-size="17.7" text-anchor="end" textLength="32.6" lengthAdjust="spacingAndGlyphs">1e6</text></g><path d="M1333.7,1153.7H1364.4" stroke="#0a28ff" stroke-width="2.7" fill="none"/><g fill="#111"><text x="1371.9" y="1160.5" font-size="18.5" text-anchor="start" textLength="108.1" lengthAdjust="spacingAndGlyphs">DreamerPro</text></g><path d="M1502.7,1153.7H1532.6" stroke="#23a50d" stroke-width="2.7" fill="none"/><g fill="#111"><text x="1540.6" y="1160.5" font-size="18.5" text-anchor="start" textLength="79.4" lengthAdjust="spacingAndGlyphs">Dreamer</text></g><path d="M1641.4,1153.7H1671.9" stroke="#a50f2d" stroke-width="2.7" fill="none"/><g fill="#111"><text x="1679.6" y="1160.5" font-size="18.5" text-anchor="start" textLength="88.8" lengthAdjust="spacingAndGlyphs">Dreaming</text></g><path d="M1789.9,1153.7H1820.4" stroke="#e6a500" stroke-width="2.7" fill="none"/><g fill="#111"><text x="1828.1" y="1160.5" font-size="18.5" text-anchor="start" textLength="34.6" lengthAdjust="spacingAndGlyphs">TPC</text></g></svg>
<svg style="left:0;top:0" width="3200" height="2161" viewBox="0 0 3200 2161"><polygon transform="translate(2251.8,619) scale(2.4543,0.5)" points="0,350 2,333 4,324 6,326 8,327 10,325 12,319 14,320 16,326 18,317 20,319 22,315 24,313 26,332 28,322 30,323 32,316 34,317 36,319 38,320 40,327 42,325 44,321 46,323 48,316 50,325 52,313 54,319 56,321 58,326 60,320 62,328 64,328 66,320 68,319 70,321 72,322 74,322 76,320 78,315 80,316 82,329 84,322 86,324 88,321 90,325 92,329 94,329 96,329 98,327 99,327 99,335 98,337 96,338 94,337 92,336 90,332 88,330 86,333 84,330 82,338 80,325 78,322 76,330 74,330 72,331 70,329 68,326 66,329 64,338 62,337 60,331 58,335 56,330 54,327 52,323 50,335 48,323 46,329 44,331 42,334 40,334 38,328 36,328 34,327 32,325 30,330 28,330 26,341 24,321 22,323 20,327 18,326 16,335 14,329 12,328 10,335 8,334 6,334 4,333 2,340 0,358" fill="#23a50d" fill-opacity="0.1"/><polygon transform="translate(2251.8,619) scale(2.4543,0.5)" points="0,355 2,333 4,318 6,318 8,316 10,307 12,310 14,309 16,301 18,303 20,300 22,294 24,302 26,299 28,299 30,293 32,293 34,284 36,279 38,274 40,274 42,255 44,262 46,265 48,259 50,274 52,260 54,267 56,263 58,256 60,229 62,252 64,238 66,239 68,228 70,241 72,223 74,209 76,230 78,213 80,199 82,204 84,193 86,216 88,189 90,188 92,188 94,180 96,201 98,224 99,209 99,269 98,279 96,262 94,235 92,244 90,238 88,246 86,264 84,254 82,256 80,256 78,262 76,279 74,259 72,264 70,285 68,276 66,293 64,280 62,299 60,273 58,303 56,303 54,302 52,300 50,314 48,304 46,304 44,304 42,295 40,305 38,309 36,315 34,311 32,323 30,321 28,325 26,327 24,327 22,318 20,321 18,322 16,321 14,328 12,327 10,322 8,331 6,333 4,330 2,344 0,365" fill="#a50f2d" fill-opacity="0.11"/><polygon transform="translate(2251.8,619) scale(2.4543,0.5)" points="0,334 2,327 4,314 6,314 8,305 10,304 12,306 14,285 16,278 18,277 20,266 22,262 24,268 26,249 28,254 30,252 32,249 34,244 36,238 38,226 40,239 42,225 44,233 46,215 48,232 50,233 52,220 54,215 56,219 58,209 60,209 62,200 64,199 66,192 68,189 70,187 72,192 74,173 76,210 78,205 80,182 82,190 84,180 86,175 88,176 90,155 92,140 94,127 96,158 98,133 99,123 99,168 98,178 96,203 94,176 92,191 90,196 88,225 86,224 84,220 82,229 80,225 78,251 76,255 74,216 72,229 70,229 68,226 66,233 64,236 62,233 60,243 58,245 56,254 54,254 52,245 50,263 48,261 46,244 44,264 42,254 40,261 38,252 36,260 34,267 32,270 30,275 28,280 26,274 24,286 22,281 20,285 18,294 16,291 14,303 12,319 10,318 8,322 6,328 4,327 2,339 0,347" fill="#5f3c82" fill-opacity="0.11"/><polygon transform="translate(2251.8,619) scale(2.4543,0.5)" points="0,328 2,323 4,313 6,305 8,304 10,293 12,290 14,282 16,276 18,275 20,257 22,268 24,260 26,259 28,255 30,255 32,249 34,240 36,230 38,222 40,225 42,227 44,217 46,201 48,217 50,222 52,218 54,199 56,191 58,197 60,167 62,180 64,176 66,169 68,166 70,172 72,147 74,158 76,140 78,152 80,140 82,131 84,125 86,111 88,101 90,83 92,75 94,63 96,80 98,89 99,109 99,164 98,150 96,153 94,123 92,127 90,142 88,158 86,170 84,184 82,184 80,182 78,193 76,186 74,197 72,200 70,212 68,204 66,219 64,227 62,221 60,216 58,240 56,232 54,245 52,247 50,251 48,252 46,236 44,246 42,263 40,254 38,259 36,264 34,270 32,272 30,285 28,282 26,281 24,284 22,289 20,278 18,295 16,297 14,300 12,306 10,311 8,321 6,320 4,326 2,335 0,339" fill="#e6a500" fill-opacity="0.11"/><polygon transform="translate(2251.8,619) scale(2.4543,0.5)" points="0,336 2,326 4,318 6,317 8,310 10,312 12,311 14,307 16,305 18,301 20,300 22,301 24,293 26,284 28,285 30,278 32,273 34,267 36,264 38,254 40,251 42,241 44,231 46,206 48,209 50,212 52,210 54,178 56,180 58,176 60,152 62,156 64,148 66,133 68,103 70,105 72,91 74,103 76,99 78,98 80,78 82,41 84,73 86,73 88,61 90,48 92,62 94,43 96,20 98,25 99,8 99,83 98,89 96,98 94,101 92,119 90,110 88,129 86,149 84,155 82,121 80,155 78,164 76,165 74,164 72,158 70,166 68,171 66,188 64,196 62,205 60,203 58,217 56,222 54,219 52,240 50,251 48,250 46,235 44,266 42,273 40,285 38,283 36,289 34,299 32,297 30,306 28,308 26,312 24,318 22,324 20,320 18,324 16,322 14,325 12,328 10,329 8,326 6,331 4,331 2,339 0,347" fill="#0a28ff" fill-opacity="0.1"/><g><polyline transform="translate(2251.8,619) scale(2.4543,0.5)" points="0,353 1,356 2,336 3,329 4,329 5,332 6,329 7,330 8,330 9,324 10,330 11,331 12,324 13,316 14,325 15,332 16,330 17,328 18,321 19,325 20,322 21,324 22,318 23,325 24,318 25,322 26,337 27,324 28,326 29,332 30,327 31,319 32,320 33,333 34,322 35,323 36,324 37,325 38,324 39,328 40,330 41,321 42,329 43,328 44,326 45,325 46,326 47,325 48,319 49,333 50,330 51,320 52,318 53,319 54,323 55,327 56,326 57,326 58,330 59,325 60,325 61,332 62,333 63,331 64,333 65,326 66,324 67,333 68,323 69,326 70,326 71,330 72,327 73,326 74,327 75,323 76,325 77,321 78,318 79,322 80,322 81,328 82,334 83,328 84,326 85,333 86,328 87,329 88,326 89,328 90,329 91,328 92,333 93,335 94,334 95,334 96,334 97,329 98,332 99,331" stroke="#23a50d" stroke-width="2.7"/><polyline transform="translate(2251.8,619) scale(2.4543,0.5)" points="0,360 1,348 2,338 3,329 4,325 5,329 6,326 7,323 8,324 9,322 10,315 11,313 12,319 13,322 14,318 15,317 16,312 17,310 18,312 19,307 20,311 21,305 22,304 23,312 24,313 25,311 26,315 27,314 28,313 29,307 30,305 31,309 32,305 33,303 34,299 35,301 36,298 37,289 38,290 39,285 40,290 41,293 42,273 43,281 44,285 45,280 46,285 47,287 48,279 49,284 50,291 51,284 52,279 53,278 54,285 55,277 56,283 57,288 58,280 59,262 60,256 61,267 62,272 63,270 64,255 65,263 66,265 67,250 68,252 69,261 70,262 71,263 72,244 73,247 74,233 75,249 76,249 77,247 78,240 79,234 80,225 81,226 82,233 83,234 84,224 85,222 86,240 87,216 88,220 89,213 90,210 91,212 92,218 93,218 94,205 95,224 96,228 97,235 98,248 99,233" stroke="#a50f2d" stroke-width="2.7"/><polyline transform="translate(2251.8,619) scale(2.4543,0.5)" points="0,341 1,335 2,333 3,325 4,322 5,321 6,320 7,312 8,313 9,313 10,311 11,299 12,313 13,299 14,295 15,287 16,284 17,285 18,285 19,278 20,275 21,284 22,271 23,269 24,278 25,277 26,261 27,265 28,266 29,271 30,266 31,252 32,258 33,258 34,253 35,254 36,249 37,246 38,238 39,241 40,249 41,246 42,243 43,236 44,247 45,234 46,232 47,243 48,248 49,244 50,248 51,235 52,233 53,239 54,233 55,228 56,236 57,239 58,230 59,236 60,228 61,219 62,218 63,222 64,217 65,216 66,214 67,218 68,211 69,222 70,210 71,205 72,209 73,214 74,197 75,238 76,231 77,228 78,230 79,214 80,206 81,205 82,213 83,206 84,198 85,203 86,201 87,197 88,200 89,171 90,172 91,172 92,165 93,159 94,154 95,162 96,179 97,175 98,154 99,142" stroke="#5f3c82" stroke-width="2.7"/><polyline transform="translate(2251.8,619) scale(2.4543,0.5)" points="0,333 1,329 2,328 3,321 4,321 5,317 6,312 7,313 8,314 9,305 10,302 11,297 12,298 13,296 14,290 15,288 16,288 17,285 18,284 19,276 20,270 21,278 22,280 23,274 24,273 25,271 26,272 27,271 28,267 29,261 30,270 31,261 32,260 33,250 34,254 35,250 36,246 37,243 38,241 39,236 40,238 41,240 42,243 43,230 44,233 45,228 46,219 47,231 48,234 49,239 50,237 51,232 52,233 53,221 54,221 55,221 56,215 57,214 58,215 59,210 60,192 61,205 62,200 63,201 64,202 65,193 66,195 67,191 68,185 69,187 70,193 71,185 72,174 73,174 74,178 75,171 76,161 77,179 78,173 79,170 80,162 81,152 82,154 83,146 84,151 85,148 86,138 87,128 88,133 89,133 90,115 91,113 92,98 93,88 94,88 95,98 96,118 97,122 98,114 99,133" stroke="#e6a500" stroke-width="2.7"/><polyline transform="translate(2251.8,619) scale(2.4543,0.5)" points="0,342 1,336 2,332 3,328 4,325 5,322 6,324 7,322 8,319 9,318 10,320 11,326 12,320 13,318 14,317 15,317 16,314 17,316 18,313 19,308 20,309 21,306 22,312 23,308 24,307 25,302 26,298 27,295 28,296 29,293 30,292 31,290 32,287 33,282 34,282 35,281 36,277 37,276 38,266 39,268 40,268 41,257 42,260 43,245 44,247 45,237 46,221 47,221 48,229 49,243 50,231 51,224 52,225 53,209 54,195 55,200 56,201 57,193 58,198 59,185 60,179 61,188 62,176 63,172 64,170 65,154 66,160 67,154 68,135 69,139 70,140 71,125 72,130 73,127 74,128 75,126 76,131 77,120 78,131 79,119 80,113 81,92 82,86 83,89 84,113 85,98 86,107 87,85 88,99 89,81 90,79 91,86 92,89 93,82 94,73 95,58 96,59 97,57 98,55 99,45" stroke="#0a28ff" stroke-width="2.7"/></g><rect x="2250.6" y="619" width="244.2" height="187.8" fill="none" stroke="#111" stroke-width="1.4"/><path d="M2250.6,806.8v6M2299.4,806.8v6M2348.3,806.8v6M2397.1,806.8v6M2446.0,806.8v6M2494.8,806.8v6M2250.6,765.4h-6M2250.6,713.7h-6M2250.6,661.9h-6" stroke="#111" stroke-width="1.4" fill="none"/><g fill="#111"><text x="2250.6" y="834.7" font-size="17.7" text-anchor="middle" textLength="27.4" lengthAdjust="spacingAndGlyphs">0.0</text><text x="2299.4" y="834.7" font-size="17.7" text-anchor="middle" textLength="27.4" lengthAdjust="spacingAndGlyphs">0.2</text><text x="2348.3" y="834.7" font-size="17.7" text-anchor="middle" textLength="27.4" lengthAdjust="spacingAndGlyphs">0.4</text><text x="2397.1" y="834.7" font-size="17.7" text-anchor="middle" textLength="27.4" lengthAdjust="spacingAndGlyphs">0.6</text><text x="2446.0" y="834.7" font-size="17.7" text-anchor="middle" textLength="27.4" lengthAdjust="spacingAndGlyphs">0.8</text><text x="2494.8" y="834.7" font-size="17.7" text-anchor="middle" textLength="27.4" lengthAdjust="spacingAndGlyphs">1.0</text><text x="2237.2" y="772.1" font-size="17.7" text-anchor="end" textLength="32.9" lengthAdjust="spacingAndGlyphs">200</text><text x="2237.2" y="720.4" font-size="17.7" text-anchor="end" textLength="32.9" lengthAdjust="spacingAndGlyphs">400</text><text x="2237.2" y="668.6" font-size="17.7" text-anchor="end" textLength="32.9" lengthAdjust="spacingAndGlyphs">600</text><text x="2372.7" y="608.2" font-size="22.4" text-anchor="middle" textLength="193.6" lengthAdjust="spacingAndGlyphs">Cartpole Swingup</text></g><polygon transform="translate(2567.5,619) scale(2.4533,0.5)" points="0,358 2,346 4,337 6,333 8,331 10,329 12,333 14,333 16,328 18,325 20,331 22,330 24,327 26,331 28,327 30,327 32,336 34,330 36,338 38,337 40,333 42,334 44,334 46,337 48,341 50,337 52,339 54,339 56,337 58,340 60,334 62,337 64,343 66,337 68,342 70,342 72,340 74,338 76,339 78,339 80,338 82,341 84,340 86,337 88,337 90,341 92,340 94,342 96,340 98,339 99,340 99,348 98,345 96,346 94,349 92,348 90,349 88,344 86,344 84,346 82,350 80,347 78,345 76,347 74,347 72,348 70,351 68,350 66,346 64,352 62,345 60,343 58,348 56,345 54,348 52,347 50,346 48,349 46,346 44,342 42,342 40,341 38,345 36,345 34,337 32,344 30,335 28,335 26,338 24,336 22,339 20,338 18,333 16,337 14,342 12,341 10,337 8,338 6,341 4,346 2,353 0,364" fill="#23a50d" fill-opacity="0.1"/><polygon transform="translate(2567.5,619) scale(2.4533,0.5)" points="0,353 2,326 4,316 6,308 8,297 10,291 12,282 14,274 16,264 18,262 20,264 22,241 24,242 26,236 28,235 30,229 32,225 34,216 36,210 38,210 40,202 42,193 44,183 46,191 48,175 50,176 52,175 54,161 56,168 58,157 60,156 62,166 64,167 66,165 68,152 70,160 72,155 74,152 76,151 78,156 80,143 82,126 84,135 86,131 88,122 90,142 92,130 94,139 96,127 98,133 99,121 99,157 98,159 96,164 94,165 92,160 90,174 88,157 86,169 84,169 82,162 80,171 78,196 76,182 74,182 72,184 70,186 68,189 66,194 64,196 62,191 60,187 58,191 56,203 54,196 52,207 50,210 48,211 46,224 44,217 42,223 40,233 38,236 36,233 34,238 32,246 30,249 28,259 26,259 24,260 22,260 20,281 18,276 16,280 14,286 12,298 10,302 8,309 6,319 4,326 2,335 0,362" fill="#a50f2d" fill-opacity="0.11"/><polygon transform="translate(2567.5,619) scale(2.4533,0.5)" points="0,352 2,325 4,308 6,293 8,283 10,260 12,242 14,235 16,227 18,209 20,201 22,190 24,188 26,180 28,189 30,180 32,159 34,160 36,153 38,131 40,138 42,141 44,130 46,128 48,118 50,103 52,115 54,108 56,95 58,90 60,78 62,90 64,84 66,71 68,73 70,81 72,84 74,68 76,60 78,42 80,51 82,51 84,38 86,39 88,44 90,52 92,43 94,32 96,37 98,34 99,49 99,102 98,95 96,105 94,95 92,111 90,113 88,97 86,106 84,106 82,117 80,112 78,107 76,109 74,130 72,146 70,138 68,131 66,136 64,140 62,158 60,146 58,153 56,146 54,167 52,174 50,173 48,187 46,189 44,184 42,185 40,190 38,179 36,203 34,208 32,201 30,223 28,232 26,216 24,228 22,219 20,234 18,237 16,255 14,258 12,266 10,279 8,301 6,309 4,322 2,339 0,363" fill="#e6a500" fill-opacity="0.1"/><polygon transform="translate(2567.5,619) scale(2.4533,0.5)" points="0,359 2,301 4,301 6,285 8,264 10,256 12,242 14,233 16,224 18,217 20,211 22,203 24,190 26,173 28,161 30,153 32,126 34,114 36,94 38,124 40,110 42,123 44,124 46,112 48,85 50,90 52,81 54,82 56,78 58,50 60,55 62,56 64,70 66,42 68,34 70,30 72,29 74,46 76,55 78,36 80,52 82,48 84,36 86,42 88,50 90,31 92,9 94,37 96,36 98,25 99,21 99,74 98,76 96,81 94,81 92,65 90,76 88,99 86,92 84,89 82,95 80,98 78,98 76,112 74,94 72,81 70,89 68,96 66,105 64,116 62,111 60,113 58,95 56,138 54,141 52,137 50,150 48,137 46,181 44,188 42,186 40,179 38,184 36,163 34,191 32,199 30,222 28,243 26,239 24,257 22,254 20,270 18,273 16,272 14,276 12,282 10,284 8,295 6,308 4,321 2,317 0,368" fill="#5f3c82" fill-opacity="0.1"/><polygon transform="translate(2567.5,619) scale(2.4533,0.5)" points="0,355 2,319 4,304 6,298 8,295 10,280 12,266 14,267 16,266 18,241 20,238 22,249 24,220 26,239 28,220 30,233 32,232 34,210 36,203 38,196 40,198 42,206 44,178 46,183 48,173 50,178 52,159 54,156 56,153 58,148 60,161 62,147 64,161 66,147 68,152 70,150 72,150 74,145 76,135 78,129 80,117 82,126 84,126 86,123 88,112 90,121 92,99 94,102 96,100 98,111 99,99 99,166 98,174 96,165 94,163 92,172 90,185 88,177 86,188 84,191 82,184 80,175 78,188 76,201 74,205 72,199 70,208 68,209 66,203 64,220 62,208 60,213 58,193 56,195 54,201 52,220 50,228 48,232 46,230 44,228 42,243 40,246 38,239 36,243 34,256 32,264 30,270 28,251 26,275 24,252 22,274 20,265 18,269 16,291 14,292 12,285 10,298 8,311 6,314 4,316 2,334 0,365" fill="#0a28ff" fill-opacity="0.1"/><g><polyline transform="translate(2567.5,619) scale(2.4533,0.5)" points="0,361 1,359 2,350 3,346 4,341 5,339 6,336 7,337 8,334 9,337 10,334 11,335 12,337 13,333 14,338 15,333 16,333 17,327 18,329 19,331 20,334 21,336 22,334 23,333 24,331 25,330 26,334 27,337 28,332 29,337 30,332 31,337 32,340 33,340 34,334 35,336 36,342 37,344 38,341 39,346 40,337 41,340 42,338 43,337 44,337 45,342 46,342 47,344 48,344 49,342 50,341 51,344 52,342 53,346 54,344 55,342 56,341 57,345 58,344 59,344 60,339 61,338 62,340 63,343 64,347 65,346 66,342 67,345 68,346 69,345 70,346 71,341 72,344 73,342 74,342 75,342 76,343 77,344 78,342 79,344 80,342 81,343 82,345 83,343 84,343 85,342 86,341 87,342 88,341 89,342 90,345 91,343 92,344 93,347 94,346 95,343 96,343 97,342 98,342 99,344" stroke="#23a50d" stroke-width="2.7"/><polyline transform="translate(2567.5,619) scale(2.4533,0.5)" points="0,358 1,345 2,332 3,324 4,321 5,318 6,314 7,303 8,304 9,293 10,296 11,296 12,291 13,288 14,280 15,272 16,272 17,264 18,269 19,263 20,271 21,267 22,249 23,248 24,250 25,251 26,247 27,247 28,246 29,239 30,239 31,238 32,236 33,223 34,227 35,214 36,220 37,223 38,226 39,217 40,217 41,215 42,211 43,207 44,201 45,217 46,210 47,194 48,195 49,194 50,194 51,186 52,194 53,184 54,177 55,180 56,186 57,185 58,171 59,169 60,170 61,180 62,178 63,185 64,182 65,180 66,179 67,171 68,171 69,169 70,173 71,167 72,170 73,167 74,165 75,164 76,169 77,166 78,176 79,167 80,155 81,152 82,143 83,158 84,154 85,151 86,152 87,152 88,141 89,148 90,155 91,138 92,147 93,155 94,152 95,152 96,147 97,145 98,145 99,140" stroke="#a50f2d" stroke-width="2.7"/><polyline transform="translate(2567.5,619) scale(2.4533,0.5)" points="0,356 1,342 2,331 3,318 4,314 5,308 6,300 7,302 8,292 9,279 10,270 11,262 12,254 13,255 14,249 15,248 16,238 17,245 18,222 19,210 20,217 21,209 22,206 23,210 24,207 25,216 26,198 27,196 28,209 29,195 30,203 31,189 32,180 33,181 34,184 35,186 36,176 37,154 38,154 39,169 40,163 41,169 42,163 43,158 44,158 45,155 46,157 47,158 48,152 49,161 50,140 51,147 52,139 53,143 54,137 55,129 56,120 57,111 58,120 59,115 60,115 61,129 62,126 63,108 64,116 65,97 66,100 67,99 68,104 69,103 70,108 71,106 72,111 73,103 74,101 75,98 76,84 77,85 78,74 79,77 80,80 81,88 82,84 83,91 84,78 85,85 86,69 87,71 88,69 89,72 90,79 91,91 92,72 93,70 94,67 95,83 96,74 97,74 98,68 99,77" stroke="#e6a500" stroke-width="2.7"/><polyline transform="translate(2567.5,619) scale(2.4533,0.5)" points="0,363 1,296 2,308 3,311 4,311 5,300 6,296 7,289 8,278 9,274 10,270 11,267 12,258 13,256 14,256 15,255 16,245 17,246 18,245 19,256 20,236 21,229 22,230 23,229 24,226 25,218 26,203 27,208 28,204 29,181 30,184 31,180 32,168 33,151 34,151 35,146 36,130 37,138 38,154 39,150 40,140 41,141 42,152 43,140 44,149 45,133 46,142 47,123 48,112 49,113 50,115 51,100 52,105 53,107 54,110 55,108 56,105 57,99 58,73 59,82 60,82 61,80 62,83 63,83 64,90 65,87 66,74 67,71 68,65 69,75 70,57 71,69 72,58 73,57 74,69 75,83 76,81 77,71 78,67 79,63 80,73 81,67 82,68 83,60 84,58 85,61 86,64 87,66 88,74 89,70 90,55 91,53 92,38 93,42 94,60 95,52 96,57 97,57 98,53 99,46" stroke="#5f3c82" stroke-width="2.7"/><polyline transform="translate(2567.5,619) scale(2.4533,0.5)" points="0,361 1,342 2,327 3,313 4,309 5,317 6,305 7,302 8,302 9,292 10,290 11,277 12,276 13,277 14,279 15,273 16,279 17,270 18,257 19,258 20,254 21,257 22,262 23,251 24,234 25,246 26,257 27,239 28,236 29,239 30,253 31,237 32,248 33,233 34,232 35,231 36,222 37,224 38,222 39,235 40,226 41,228 42,225 43,197 44,204 45,206 46,203 47,208 48,202 49,205 50,204 51,194 52,190 53,176 54,180 55,173 56,175 57,177 58,171 59,174 60,182 61,182 62,178 63,181 64,189 65,189 66,173 67,181 68,178 69,184 70,175 71,170 72,176 73,180 74,174 75,173 76,166 77,171 78,165 79,158 80,151 81,152 82,152 83,162 84,160 85,143 86,152 87,155 88,145 89,138 90,152 91,160 92,134 93,139 94,137 95,141 96,133 97,148 98,147 99,133" stroke="#0a28ff" stroke-width="2.7"/></g><rect x="2566.3" y="619" width="244.1" height="187.8" fill="none" stroke="#111" stroke-width="1.4"/><path d="M2566.3,806.8v6M2615.1,806.8v6M2663.9,806.8v6M2712.8,806.8v6M2761.6,806.8v6M2810.4,806.8v6M2566.3,799.3h-6M2566.3,734.5h-6M2566.3,669.6h-6" stroke="#111" stroke-width="1.4" fill="none"/><g fill="#111"><text x="2566.3" y="834.7" font-size="17.7" text-anchor="middle" textLength="27.4" lengthAdjust="spacingAndGlyphs">0.0</text><text x="2615.1" y="834.7" font-size="17.7" text-anchor="middle" textLength="27.4" lengthAdjust="spacingAndGlyphs">0.2</text><text x="2663.9" y="834.7" font-size="17.7" text-anchor="middle" textLength="27.4" lengthAdjust="spacingAndGlyphs">0.4</text><text x="2712.8" y="834.7" font-size="17.7" text-anchor="middle" textLength="27.4" lengthAdjust="spacingAndGlyphs">0.6</text><text x="2761.6" y="834.7" font-size="17.7" text-anchor="middle" textLength="27.4" lengthAdjust="spacingAndGlyphs">0.8</text><text x="2810.4" y="834.7" font-size="17.7" text-anchor="middle" textLength="27.4" lengthAdjust="spacingAndGlyphs">1.0</text><text x="2552.9" y="806.0" font-size="17.7" text-anchor="end" textLength="11.0" lengthAdjust="spacingAndGlyphs">0</text><text x="2552.9" y="741.2" font-size="17.7" text-anchor="end" textLength="32.9" lengthAdjust="spacingAndGlyphs">200</text><text x="2552.9" y="676.3" font-size="17.7" text-anchor="end" textLength="32.9" lengthAdjust="spacingAndGlyphs">400</text><text x="2688.4" y="608.2" font-size="22.4" text-anchor="middle" textLength="141.0" lengthAdjust="spacingAndGlyphs">Cheetah Run</text></g><polygon transform="translate(2884.0,619) scale(2.4503,0.5)" points="0,274 2,263 4,287 6,281 8,304 10,294 12,270 14,285 16,283 18,296 20,297 22,270 24,287 26,298 28,293 30,297 32,303 34,287 36,295 38,282 40,284 42,304 44,311 46,304 48,260 50,280 52,298 54,316 56,320 58,311 60,306 62,292 64,317 66,298 68,297 70,285 72,314 74,303 76,297 78,293 80,297 82,286 84,305 86,269 88,303 90,285 92,295 94,284 96,276 98,268 99,269 99,311 98,300 96,310 94,321 92,329 90,320 88,339 86,314 84,343 82,326 80,340 78,327 76,338 74,340 72,350 70,323 68,335 66,339 64,353 62,332 60,346 58,348 56,357 54,357 52,341 50,314 48,304 46,341 44,347 42,344 40,319 38,327 36,334 34,329 32,347 30,341 28,339 26,338 24,327 22,311 20,337 18,336 16,318 14,322 12,316 10,333 8,346 6,327 4,322 2,305 0,316" fill="#23a50d" fill-opacity="0.1"/><polygon transform="translate(2884.0,619) scale(2.4503,0.5)" points="0,250 2,266 4,280 6,281 8,318 10,283 12,301 14,309 16,316 18,284 20,296 22,275 24,286 26,253 28,273 30,263 32,256 34,232 36,260 38,231 40,198 42,181 44,182 46,194 48,184 50,140 52,158 54,184 56,138 58,121 60,95 62,68 64,92 66,109 68,139 70,105 72,123 74,94 76,110 78,75 80,80 82,79 84,81 86,60 88,59 90,46 92,66 94,66 96,66 98,75 99,67 99,154 98,163 96,168 94,145 92,153 90,135 88,152 86,153 84,174 82,159 80,171 78,171 76,181 74,186 72,220 70,207 68,233 66,198 64,187 62,164 60,193 58,221 56,236 54,266 52,242 50,235 48,283 46,296 44,291 42,279 40,275 38,314 36,335 34,312 32,348 30,328 28,344 26,337 24,356 22,355 20,365 18,339 16,369 14,357 12,353 10,340 8,369 6,325 4,327 2,317 0,290" fill="#5f3c82" fill-opacity="0.1"/><polygon transform="translate(2884.0,619) scale(2.4503,0.5)" points="0,274 2,291 4,276 6,281 8,280 10,261 12,276 14,245 16,266 18,222 20,205 22,237 24,206 26,143 28,105 30,131 32,145 34,166 36,183 38,177 40,145 42,167 44,161 46,156 48,172 50,155 52,153 54,120 56,122 58,136 60,83 62,115 64,77 66,135 68,137 70,94 72,108 74,81 76,93 78,90 80,115 82,173 84,174 86,154 88,174 90,152 92,138 94,105 96,77 98,118 99,143 99,232 98,208 96,177 94,220 92,250 90,244 88,261 86,275 84,289 82,283 80,227 78,192 76,202 74,202 72,243 70,208 68,253 66,238 64,208 62,240 60,202 58,245 56,240 54,227 52,244 50,281 48,286 46,267 44,273 42,301 40,325 38,331 36,349 34,366 32,336 30,337 28,299 26,357 24,376 22,363 20,348 18,376 16,376 14,367 12,376 10,376 8,364 6,367 4,350 2,339 0,310" fill="#e6a500" fill-opacity="0.09"/><polygon transform="translate(2884.0,619) scale(2.4503,0.5)" points="0,283 2,228 4,286 6,286 8,310 10,295 12,297 14,308 16,317 18,311 20,312 22,294 24,291 26,274 28,265 30,278 32,286 34,279 36,257 38,223 40,244 42,200 44,199 46,207 48,186 50,212 52,189 54,170 56,173 58,172 60,174 62,147 64,132 66,142 68,156 70,157 72,129 74,107 76,86 78,83 80,82 82,71 84,116 86,129 88,91 90,111 92,76 94,84 96,62 98,70 99,91 99,185 98,175 96,174 94,195 92,192 90,214 88,208 86,216 84,221 82,169 80,175 78,167 76,190 74,212 72,233 70,243 68,243 66,238 64,227 62,255 60,263 58,253 56,262 54,242 52,274 50,297 48,280 46,275 44,295 42,281 40,308 38,292 36,321 34,353 32,353 30,343 28,327 26,328 24,356 22,343 20,366 18,364 16,360 14,353 12,348 10,336 8,349 6,325 4,325 2,262 0,315" fill="#a50f2d" fill-opacity="0.11"/><polygon transform="translate(2884.0,619) scale(2.4503,0.5)" points="0,261 2,278 4,277 6,292 8,296 10,309 12,293 14,271 16,262 18,262 20,261 22,264 24,225 26,232 28,227 30,177 32,156 34,149 36,148 38,152 40,129 42,147 44,126 46,149 48,114 50,121 52,107 54,110 56,103 58,78 60,83 62,88 64,102 66,118 68,119 70,96 72,92 74,35 76,21 78,83 80,69 82,80 84,81 86,73 88,87 90,115 92,91 94,74 96,138 98,86 99,71 99,151 98,186 96,237 94,160 92,173 90,203 88,181 86,165 84,177 82,169 80,171 78,169 76,114 74,124 72,183 70,180 68,213 66,201 64,209 62,178 60,198 58,184 56,206 54,205 52,214 50,213 48,205 46,263 44,240 42,258 40,237 38,239 36,239 34,243 32,262 30,254 28,307 26,313 24,299 22,332 20,331 18,335 16,331 14,337 12,347 10,356 8,333 6,338 4,324 2,318 0,300" fill="#0a28ff" fill-opacity="0.1"/><g><polyline transform="translate(2884.0,619) scale(2.4503,0.5)" points="0,293 1,284 2,281 3,281 4,305 5,300 6,304 7,308 8,327 9,306 10,316 11,289 12,291 13,287 14,302 15,306 16,303 17,308 18,315 19,323 20,318 21,305 22,294 23,295 24,309 25,306 26,322 27,309 28,315 29,326 30,317 31,329 32,323 33,312 34,307 35,319 36,312 37,318 38,305 39,304 40,300 41,317 42,322 43,328 44,326 45,307 46,320 47,300 48,282 49,292 50,297 51,310 52,320 53,321 54,335 55,334 56,334 57,318 58,326 59,339 60,326 61,321 62,308 63,318 64,332 65,336 66,321 67,322 68,315 69,317 70,305 71,324 72,333 73,316 74,320 75,331 76,318 77,308 78,310 79,326 80,318 81,315 82,307 83,302 84,321 85,320 86,292 87,301 88,324 89,311 90,298 91,290 92,312 93,314 94,299 95,300 96,293 97,301 98,282 99,289" stroke="#23a50d" stroke-width="2.7"/><polyline transform="translate(2884.0,619) scale(2.4503,0.5)" points="0,266 1,284 2,291 3,306 4,300 5,305 6,307 7,329 8,340 9,316 10,313 11,299 12,323 13,337 14,333 15,332 16,338 17,331 18,315 19,316 20,335 21,318 22,315 23,324 24,320 25,336 26,294 27,303 28,313 29,311 30,296 31,299 32,303 33,293 34,280 35,302 36,291 37,260 38,278 39,265 40,241 41,226 42,225 43,240 44,235 45,243 46,249 47,245 48,229 49,215 50,197 51,202 52,202 53,203 54,220 55,190 56,186 57,178 58,167 59,173 60,135 61,107 62,117 63,125 64,144 65,175 66,158 67,165 68,176 69,178 70,154 71,146 72,169 73,138 74,143 75,148 76,145 77,139 78,127 79,124 80,135 81,143 82,123 83,132 84,135 85,98 86,115 87,116 88,106 89,107 90,92 91,111 92,104 93,122 94,102 95,138 96,121 97,121 98,128 99,105" stroke="#5f3c82" stroke-width="2.7"/><polyline transform="translate(2884.0,619) scale(2.4503,0.5)" points="0,292 1,297 2,315 3,303 4,312 5,331 6,328 7,320 8,316 9,328 10,321 11,340 12,342 13,316 14,305 15,328 16,316 17,315 18,301 19,308 20,281 21,292 22,299 23,300 24,297 25,290 26,253 27,242 28,213 29,234 30,227 31,257 32,253 33,266 34,268 35,284 36,258 37,249 38,262 39,227 40,229 41,227 42,236 43,218 44,219 45,207 46,212 47,216 48,234 49,209 50,220 51,207 52,198 53,186 54,165 55,184 56,186 57,183 58,201 59,162 60,149 61,138 62,168 63,165 64,143 65,173 66,179 67,187 68,197 69,181 70,162 71,150 72,173 73,123 74,133 75,129 76,146 77,152 78,146 79,157 80,170 81,210 82,226 83,243 84,230 85,225 86,211 87,208 88,217 89,216 90,201 91,181 92,195 93,192 94,160 95,147 96,120 97,138 98,161 99,184" stroke="#e6a500" stroke-width="2.7"/><polyline transform="translate(2884.0,619) scale(2.4503,0.5)" points="0,302 1,314 2,245 3,299 4,307 5,304 6,308 7,328 8,333 9,330 10,315 11,298 12,325 13,317 14,332 15,328 16,337 17,317 18,334 19,326 20,336 21,347 22,319 23,318 24,325 25,321 26,298 27,305 28,301 29,304 30,307 31,309 32,314 33,312 34,309 35,284 36,291 37,292 38,254 39,269 40,274 41,258 42,242 43,243 44,249 45,247 46,239 47,240 48,227 49,245 50,253 51,240 52,231 53,196 54,208 55,198 56,212 57,220 58,210 59,212 60,223 61,198 62,204 63,186 64,185 65,156 66,185 67,153 68,196 69,181 70,199 71,200 72,185 73,170 74,157 75,173 76,144 77,172 78,127 79,136 80,129 81,134 82,130 83,172 84,177 85,212 86,167 87,124 88,150 89,159 90,152 91,155 92,132 93,126 94,131 95,124 96,119 97,137 98,118 99,145" stroke="#a50f2d" stroke-width="2.7"/><polyline transform="translate(2884.0,619) scale(2.4503,0.5)" points="0,280 1,290 2,297 3,313 4,300 5,324 6,314 7,319 8,314 9,331 10,329 11,312 12,325 13,311 14,307 15,301 16,297 17,313 18,304 19,322 20,301 21,302 22,296 23,257 24,261 25,259 26,281 27,261 28,261 29,234 30,214 31,223 32,206 33,197 34,197 35,190 36,194 37,195 38,193 39,168 40,181 41,195 42,193 43,194 44,190 45,177 46,199 47,171 48,162 49,176 50,168 51,186 52,162 53,189 54,166 55,132 56,144 57,139 58,134 59,143 60,139 61,167 62,132 63,144 64,159 65,164 66,165 67,166 68,168 69,162 70,139 71,139 72,138 73,125 74,83 75,28 76,65 77,109 78,123 79,119 80,119 81,120 82,132 83,155 84,122 85,114 86,118 87,125 88,143 89,142 90,159 91,144 92,128 93,105 94,111 95,171 96,190 97,167 98,141 99,115" stroke="#0a28ff" stroke-width="2.7"/></g><rect x="2882.8" y="619" width="243.8" height="187.8" fill="none" stroke="#111" stroke-width="1.4"/><path d="M2882.8,806.8v6M2931.6,806.8v6M2980.3,806.8v6M3029.1,806.8v6M3077.8,806.8v6M3126.6,806.8v6M2882.8,786.2h-6M2882.8,745.8h-6M2882.8,705.4h-6M2882.8,665.0h-6M2882.8,624.7h-6" stroke="#111" stroke-width="1.4" fill="none"/><g fill="#111"><text x="2882.8" y="834.7" font-size="17.7" text-anchor="middle" textLength="27.4" lengthAdjust="spacingAndGlyphs">0.0</text><text x="2931.6" y="834.7" font-size="17.7" text-anchor="middle" textLength="27.4" lengthAdjust="spacingAndGlyphs">0.2</text><text x="2980.3" y="834.7" font-size="17.7" text-anchor="middle" textLength="27.4" lengthAdjust="spacingAndGlyphs">0.4</text><text x="3029.1" y="834.7" font-size="17.7" text-anchor="middle" textLength="27.4" lengthAdjust="spacingAndGlyphs">0.6</text><text x="3077.8" y="834.7" font-size="17.7" text-anchor="middle" textLength="27.4" lengthAdjust="spacingAndGlyphs">0.8</text><text x="3126.6" y="834.7" font-size="17.7" text-anchor="middle" textLength="27.4" lengthAdjust="spacingAndGlyphs">1.0</text><text x="2869.4" y="792.9" font-size="17.7" text-anchor="end" textLength="11.0" lengthAdjust="spacingAndGlyphs">0</text><text x="2869.4" y="752.5" font-size="17.7" text-anchor="end" textLength="32.9" lengthAdjust="spacingAndGlyphs">200</text><text x="2869.4" y="712.1" font-size="17.7" text-anchor="end" textLength="32.9" lengthAdjust="spacingAndGlyphs">400</text><text x="2869.4" y="671.7" font-size="17.7" text-anchor="end" textLength="32.9" lengthAdjust="spacingAndGlyphs">600</text><text x="2869.4" y="631.4" font-size="17.7" text-anchor="end" textLength="32.9" lengthAdjust="spacingAndGlyphs">800</text><text x="3004.7" y="608.2" font-size="22.4" text-anchor="middle" textLength="113.3" lengthAdjust="spacingAndGlyphs">Cup Catch</text></g><polygon transform="translate(2251.8,874.9) scale(2.4543,0.5)" points="0,352 2,352 4,352 6,351 8,352 10,352 12,351 14,351 16,351 18,350 20,350 22,351 24,351 26,350 28,350 30,350 32,351 34,350 36,350 38,350 40,349 42,349 44,351 46,350 48,350 50,350 52,349 54,348 56,351 58,350 60,350 62,349 64,348 66,349 68,350 70,350 72,349 74,349 76,348 78,348 80,350 82,350 84,348 86,350 88,349 90,350 92,349 94,348 96,349 98,350 99,349 99,351 98,352 96,351 94,350 92,351 90,352 88,351 86,352 84,350 82,352 80,352 78,350 76,350 74,351 72,351 70,352 68,351 66,351 64,351 62,351 60,352 58,352 56,353 54,351 52,351 50,352 48,351 46,352 44,353 42,351 40,351 38,352 36,352 34,352 32,353 30,353 28,352 26,352 24,353 22,353 20,352 18,353 16,353 14,353 12,353 10,354 8,354 6,353 4,354 2,354 0,354" fill="#23a50d" fill-opacity="0.1"/><polygon transform="translate(2251.8,874.9) scale(2.4543,0.5)" points="0,352 2,349 4,348 6,345 8,343 10,328 12,328 14,334 16,324 18,320 20,321 22,308 24,302 26,289 28,292 30,289 32,271 34,267 36,268 38,270 40,256 42,249 44,236 46,233 48,239 50,230 52,224 54,218 56,195 58,210 60,206 62,187 64,196 66,181 68,181 70,184 72,164 74,166 76,160 78,164 80,167 82,160 84,161 86,157 88,151 90,154 92,153 94,140 96,142 98,145 99,154 99,210 98,218 96,201 94,206 92,212 90,228 88,226 86,224 84,229 82,224 80,232 78,227 76,231 74,243 72,242 70,242 68,258 66,243 64,253 62,269 60,278 58,270 56,272 54,277 52,275 50,290 48,303 46,300 44,291 42,313 40,312 38,314 36,319 34,323 32,322 30,332 28,329 26,337 24,335 22,342 20,349 18,356 16,352 14,357 12,348 10,348 8,355 6,358 4,357 2,355 0,355" fill="#5f3c82" fill-opacity="0.12"/><polygon transform="translate(2251.8,874.9) scale(2.4543,0.5)" points="0,352 2,347 4,350 6,345 8,346 10,341 12,343 14,333 16,337 18,325 20,311 22,314 24,296 26,304 28,298 30,301 32,287 34,282 36,261 38,253 40,247 42,233 44,211 46,204 48,195 50,183 52,182 54,175 56,160 58,162 60,167 62,159 64,156 66,133 68,146 70,132 72,164 74,127 76,115 78,112 80,117 82,103 84,93 86,90 88,94 90,81 92,82 94,87 96,73 98,90 99,95 99,171 98,177 96,160 94,164 92,158 90,173 88,177 86,184 84,171 82,179 80,198 78,199 76,195 74,205 72,241 70,209 68,230 66,218 64,223 62,235 60,232 58,234 56,245 54,239 52,242 50,255 48,258 46,262 44,270 42,290 40,306 38,299 36,316 34,329 32,331 30,344 28,341 26,340 24,326 22,338 20,341 18,352 16,358 14,355 12,361 10,357 8,358 6,355 4,358 2,352 0,354" fill="#e6a500" fill-opacity="0.11"/><polygon transform="translate(2251.8,874.9) scale(2.4543,0.5)" points="0,352 2,348 4,338 6,326 8,328 10,322 12,309 14,301 16,293 18,283 20,280 22,279 24,263 26,260 28,257 30,245 32,240 34,238 36,230 38,220 40,217 42,212 44,197 46,205 48,195 50,189 52,175 54,165 56,168 58,149 60,140 62,140 64,147 66,142 68,141 70,132 72,123 74,110 76,119 78,122 80,104 82,108 84,121 86,103 88,104 90,105 92,103 94,98 96,97 98,93 99,98 99,172 98,172 96,191 94,195 92,190 90,180 88,191 86,181 84,190 82,181 80,195 78,189 76,201 74,198 72,212 70,202 68,216 66,219 64,210 62,206 60,216 58,224 56,228 54,237 52,232 50,237 48,250 46,249 44,255 42,257 40,256 38,264 36,271 34,282 32,278 30,286 28,289 26,290 24,294 22,308 20,301 18,307 16,314 14,319 12,323 10,336 8,338 6,335 4,346 2,352 0,354" fill="#a50f2d" fill-opacity="0.11"/><polygon transform="translate(2251.8,874.9) scale(2.4543,0.5)" points="0,351 2,348 4,345 6,337 8,318 10,312 12,301 14,286 16,280 18,256 20,254 22,243 24,221 26,203 28,200 30,184 32,179 34,152 36,149 38,147 40,132 42,120 44,124 46,128 48,107 50,93 52,86 54,74 56,78 58,81 60,62 62,65 64,55 66,42 68,42 70,30 72,46 74,45 76,44 78,30 80,23 82,36 84,22 86,37 88,16 90,22 92,33 94,8 96,21 98,11 99,33 99,116 98,130 96,127 94,114 92,135 90,149 88,125 86,140 84,141 82,130 80,145 78,134 76,139 74,145 72,142 70,145 68,142 66,161 64,159 62,172 60,183 58,173 56,196 54,194 52,190 50,206 48,212 46,208 44,220 42,220 40,223 38,228 36,234 34,249 32,250 30,263 28,258 26,275 24,280 22,293 20,301 18,310 16,323 14,322 12,333 10,339 8,343 6,357 4,358 2,357 0,355" fill="#0a28ff" fill-opacity="0.1"/><g><polyline transform="translate(2251.8,874.9) scale(2.4543,0.5)" points="0,354 1,353 2,353 3,353 4,353 5,353 6,353 7,353 8,353 9,352 10,353 11,352 12,352 13,352 14,352 15,352 16,352 17,352 18,351 19,351 20,351 21,352 22,352 23,352 24,352 25,351 26,351 27,351 28,351 29,351 30,352 31,352 32,352 33,351 34,351 35,351 36,351 37,352 38,351 39,350 40,350 41,351 42,350 43,351 44,352 45,351 46,351 47,350 48,350 49,350 50,351 51,350 52,350 53,350 54,350 55,350 56,352 57,350 58,352 59,351 60,351 61,350 62,350 63,350 64,349 65,350 66,350 67,349 68,350 69,350 70,351 71,352 72,350 73,351 74,350 75,348 76,349 77,350 78,349 79,351 80,351 81,349 82,351 83,351 84,349 85,350 86,351 87,352 88,350 89,350 90,351 91,350 92,350 93,351 94,349 95,350 96,350 97,349 98,351 99,350" stroke="#23a50d" stroke-width="2.7"/><polyline transform="translate(2251.8,874.9) scale(2.4543,0.5)" points="0,353 1,353 2,353 3,352 4,352 5,352 6,351 7,353 8,348 9,341 10,339 11,341 12,340 13,342 14,345 15,342 16,341 17,338 18,338 19,333 20,335 21,330 22,327 23,325 24,321 25,320 26,315 27,310 28,311 29,307 30,308 31,300 32,301 33,300 34,297 35,296 36,292 37,296 38,292 39,284 40,287 41,284 42,278 43,278 44,269 45,272 46,269 47,265 48,267 49,261 50,260 51,255 52,251 53,246 54,242 55,245 56,234 57,234 58,241 59,240 60,239 61,234 62,229 63,223 64,224 65,227 66,214 67,222 68,217 69,215 70,212 71,208 72,204 73,206 74,207 75,199 76,195 77,195 78,195 79,200 80,196 81,198 82,191 83,193 84,191 85,194 86,191 87,187 88,187 89,187 90,188 91,188 92,187 93,183 94,175 95,177 96,169 97,180 98,181 99,183" stroke="#5f3c82" stroke-width="2.7"/><polyline transform="translate(2251.8,874.9) scale(2.4543,0.5)" points="0,353 1,352 2,350 3,352 4,353 5,352 6,351 7,351 8,352 9,350 10,351 11,353 12,351 13,347 14,343 15,344 16,347 17,342 18,338 19,331 20,328 21,332 22,326 23,321 24,313 25,314 26,322 27,317 28,322 29,322 30,320 31,316 32,314 33,311 34,304 35,294 36,287 37,279 38,272 39,272 40,273 41,262 42,259 43,250 44,238 45,232 46,232 47,233 48,222 49,215 50,217 51,211 52,212 53,216 54,210 55,212 56,203 57,205 58,199 59,198 60,195 61,191 62,194 63,192 64,191 65,183 66,180 67,184 68,183 69,179 70,178 71,177 72,197 73,170 74,159 75,158 76,155 77,156 78,153 79,153 80,150 81,147 82,140 83,140 84,141 85,140 86,138 87,131 88,134 89,131 90,129 91,129 92,124 93,122 94,119 95,125 96,123 97,120 98,126 99,133" stroke="#e6a500" stroke-width="2.7"/><polyline transform="translate(2251.8,874.9) scale(2.4543,0.5)" points="0,353 1,351 2,350 3,347 4,342 5,337 6,331 7,329 8,333 9,332 10,328 11,324 12,317 13,312 14,308 15,305 16,303 17,300 18,295 19,292 20,290 21,290 22,292 23,287 24,278 25,276 26,277 27,277 28,273 29,264 30,266 31,266 32,261 33,259 34,260 35,256 36,248 37,249 38,243 39,241 40,238 41,236 42,234 43,226 44,225 45,223 46,226 47,225 48,217 49,218 50,210 51,211 52,205 53,203 54,200 55,202 56,193 57,189 58,188 59,189 60,181 61,185 62,177 63,181 64,181 65,183 66,186 67,181 68,182 69,179 70,171 71,167 72,168 73,163 74,154 75,153 76,155 77,154 78,155 79,148 80,149 81,151 82,148 83,149 84,155 85,150 86,148 87,146 88,147 89,149 90,141 91,140 92,141 93,143 94,145 95,142 96,138 97,135 98,134 99,136" stroke="#a50f2d" stroke-width="2.7"/><polyline transform="translate(2251.8,874.9) scale(2.4543,0.5)" points="0,353 1,353 2,353 3,353 4,353 5,353 6,347 7,335 8,329 9,330 10,328 11,321 12,320 13,310 14,307 15,303 16,305 17,294 18,286 19,283 20,281 21,274 22,271 23,261 24,254 25,254 26,243 27,236 28,231 29,224 30,216 31,217 32,215 33,207 34,200 35,198 36,195 37,192 38,191 39,175 40,172 41,173 42,171 43,166 44,163 45,164 46,168 47,167 48,165 49,158 50,156 51,153 52,145 53,140 54,133 55,130 56,132 57,126 58,124 59,125 60,118 61,113 62,112 63,107 64,107 65,106 66,106 67,103 68,99 69,96 70,95 71,92 72,95 73,96 74,95 75,95 76,94 77,92 78,87 79,97 80,88 81,87 82,85 83,86 84,81 85,83 86,79 87,88 88,80 89,83 90,85 91,82 92,81 93,80 94,72 95,72 96,63 97,68 98,75 99,73" stroke="#0a28ff" stroke-width="2.7"/></g><rect x="2250.6" y="874.9" width="244.2" height="187.7" fill="none" stroke="#111" stroke-width="1.4"/><path d="M2250.6,1062.6v6M2299.4,1062.6v6M2348.3,1062.6v6M2397.1,1062.6v6M2446.0,1062.6v6M2494.8,1062.6v6M2250.6,1051.6h-6M2250.6,1009.1h-6M2250.6,966.6h-6M2250.6,924.2h-6M2250.6,881.7h-6" stroke="#111" stroke-width="1.4" fill="none"/><g fill="#111"><text x="2250.6" y="1090.5" font-size="17.7" text-anchor="middle" textLength="27.4" lengthAdjust="spacingAndGlyphs">0.0</text><text x="2299.4" y="1090.5" font-size="17.7" text-anchor="middle" textLength="27.4" lengthAdjust="spacingAndGlyphs">0.2</text><text x="2348.3" y="1090.5" font-size="17.7" text-anchor="middle" textLength="27.4" lengthAdjust="spacingAndGlyphs">0.4</text><text x="2397.1" y="1090.5" font-size="17.7" text-anchor="middle" textLength="27.4" lengthAdjust="spacingAndGlyphs">0.6</text><text x="2446.0" y="1090.5" font-size="17.7" text-anchor="middle" textLength="27.4" lengthAdjust="spacingAndGlyphs">0.8</text><text x="2494.8" y="1090.5" font-size="17.7" text-anchor="middle" textLength="27.4" lengthAdjust="spacingAndGlyphs">1.0</text><text x="2237.2" y="1058.3" font-size="17.7" text-anchor="end" textLength="11.0" lengthAdjust="spacingAndGlyphs">0</text><text x="2237.2" y="1015.8" font-size="17.7" text-anchor="end" textLength="32.9" lengthAdjust="spacingAndGlyphs">250</text><text x="2237.2" y="973.3" font-size="17.7" text-anchor="end" textLength="32.9" lengthAdjust="spacingAndGlyphs">500</text><text x="2237.2" y="930.9" font-size="17.7" text-anchor="end" textLength="32.9" lengthAdjust="spacingAndGlyphs">750</text><text x="2237.2" y="888.4" font-size="17.7" text-anchor="end" textLength="43.9" lengthAdjust="spacingAndGlyphs">1000</text><text x="2372.7" y="864.1" font-size="22.4" text-anchor="middle" textLength="122.1" lengthAdjust="spacingAndGlyphs">Finger Spin</text><text x="2494.8" y="1111.9" font-size="17.7" text-anchor="end" textLength="32.6" lengthAdjust="spacingAndGlyphs">1e6</text></g><polygon transform="translate(2567.5,874.9) scale(2.4533,0.5)" points="0,332 2,324 4,333 6,325 8,320 10,323 12,315 14,311 16,318 18,305 20,307 22,301 24,300 26,305 28,298 30,295 32,310 34,299 36,295 38,301 40,312 42,309 44,297 46,315 48,307 50,310 52,311 54,319 56,314 58,319 60,318 62,325 64,304 66,315 68,326 70,314 72,318 74,337 76,311 78,324 80,327 82,308 84,305 86,314 88,310 90,311 92,309 94,328 96,310 98,296 99,302 99,335 98,329 96,343 94,357 92,334 90,344 88,341 86,342 84,339 82,343 80,354 78,354 76,341 74,363 72,351 70,342 68,351 66,344 64,333 62,358 60,347 58,346 56,343 54,346 52,342 50,338 48,338 46,349 44,320 42,338 40,338 38,332 36,325 34,323 32,337 30,321 28,323 26,333 24,328 22,331 20,338 18,334 16,350 14,339 12,346 10,345 8,345 6,348 4,357 2,355 0,359" fill="#23a50d" fill-opacity="0.1"/><polygon transform="translate(2567.5,874.9) scale(2.4533,0.5)" points="0,321 2,295 4,309 6,257 8,281 10,292 12,284 14,268 16,257 18,272 20,246 22,253 24,271 26,259 28,230 30,245 32,243 34,210 36,197 38,203 40,170 42,196 44,159 46,172 48,149 50,139 52,135 54,124 56,120 58,100 60,99 62,95 64,86 66,104 68,126 70,104 72,0 74,53 76,50 78,82 80,83 82,70 84,102 86,92 88,45 90,52 92,48 94,60 96,38 98,61 99,56 99,160 98,167 96,148 94,178 92,169 90,152 88,146 86,192 84,197 82,151 80,173 78,178 76,151 74,149 72,91 70,190 68,214 66,210 64,181 62,198 60,206 58,191 56,230 54,238 52,242 50,216 48,250 46,260 44,250 42,272 40,242 38,291 36,268 34,295 32,310 30,320 28,302 26,313 24,322 22,314 20,305 18,328 16,311 14,322 12,336 10,332 8,325 6,294 4,351 2,334 0,354" fill="#5f3c82" fill-opacity="0.1"/><polygon transform="translate(2567.5,874.9) scale(2.4533,0.5)" points="0,312 2,297 4,311 6,291 8,300 10,291 12,311 14,276 16,264 18,266 20,274 22,256 24,271 26,277 28,267 30,245 32,244 34,234 36,227 38,232 40,206 42,190 44,184 46,176 48,205 50,202 52,186 54,171 56,174 58,213 60,199 62,183 64,128 66,193 68,176 70,179 72,154 74,123 76,176 78,124 80,142 82,135 84,144 86,96 88,106 90,145 92,76 94,37 96,31 98,118 99,95 99,259 98,276 96,192 94,198 92,256 90,275 88,262 86,258 84,296 82,295 80,289 78,276 76,312 74,252 72,287 70,308 68,305 66,308 64,251 62,320 60,323 58,319 56,296 54,291 52,282 50,304 48,312 46,287 44,272 42,294 40,304 38,314 36,302 34,324 32,320 30,320 28,340 26,346 24,342 22,328 20,331 18,332 16,324 14,325 12,362 10,339 8,354 6,339 4,345 2,334 0,343" fill="#e6a500" fill-opacity="0.1"/><polygon transform="translate(2567.5,874.9) scale(2.4533,0.5)" points="0,310 2,304 4,299 6,309 8,293 10,282 12,289 14,247 16,262 18,267 20,258 22,256 24,272 26,261 28,242 30,253 32,238 34,234 36,230 38,245 40,235 42,230 44,211 46,217 48,201 50,205 52,213 54,212 56,187 58,176 60,189 62,152 64,175 66,145 68,167 70,156 72,205 74,177 76,173 78,164 80,137 82,144 84,150 86,166 88,150 90,114 92,92 94,128 96,113 98,112 99,67 99,265 98,307 96,279 94,293 92,263 90,291 88,314 86,329 84,323 82,312 80,270 78,330 76,302 74,324 72,357 70,302 68,310 66,264 64,318 62,277 60,304 58,302 56,331 54,318 52,320 50,291 48,302 46,338 44,326 42,334 40,317 38,338 36,323 34,317 32,331 30,332 28,306 26,332 24,332 22,322 20,323 18,334 16,332 14,304 12,330 10,324 8,341 6,348 4,334 2,345 0,346" fill="#a50f2d" fill-opacity="0.11"/><polygon transform="translate(2567.5,874.9) scale(2.4533,0.5)" points="0,332 2,312 4,322 6,304 8,285 10,283 12,271 14,282 16,277 18,258 20,212 22,248 24,220 26,231 28,240 30,209 32,179 34,183 36,174 38,168 40,135 42,154 44,169 46,136 48,142 50,126 52,120 54,118 56,133 58,121 60,116 62,108 64,60 66,82 68,104 70,73 72,25 74,62 76,25 78,63 80,49 82,76 84,59 86,81 88,69 90,27 92,44 94,43 96,0 98,31 99,52 99,155 98,139 96,102 94,142 92,138 90,123 88,153 86,168 84,160 82,192 80,149 78,156 76,111 74,148 72,140 70,169 68,204 66,181 64,149 62,212 60,239 58,222 56,222 54,233 52,243 50,214 48,234 46,226 44,263 42,257 40,259 38,297 36,282 34,285 32,286 30,298 28,323 26,304 24,300 22,313 20,282 18,326 16,340 14,346 12,330 10,332 8,340 6,358 4,366 2,359 0,370" fill="#0a28ff" fill-opacity="0.1"/><g><polyline transform="translate(2567.5,874.9) scale(2.4533,0.5)" points="0,344 1,341 2,340 3,324 4,347 5,337 6,334 7,331 8,335 9,330 10,335 11,317 12,332 13,340 14,323 15,326 16,333 17,328 18,320 19,320 20,322 21,306 22,316 23,312 24,312 25,328 26,320 27,319 28,312 29,308 30,306 31,306 32,321 33,336 34,312 35,317 36,312 37,310 38,315 39,322 40,325 41,318 42,322 43,303 44,309 45,324 46,331 47,307 48,322 49,331 50,322 51,324 52,325 53,336 54,335 55,346 56,328 57,324 58,332 59,332 60,335 61,348 62,342 63,332 64,322 65,320 66,327 67,336 68,339 69,338 70,328 71,324 72,336 73,344 74,349 75,342 76,328 77,341 78,336 79,324 80,340 81,329 82,325 83,325 84,323 85,330 86,327 87,332 88,327 89,324 90,327 91,342 92,321 93,325 94,342 95,325 96,329 97,322 98,314 99,320" stroke="#23a50d" stroke-width="2.7"/><polyline transform="translate(2567.5,874.9) scale(2.4533,0.5)" points="0,335 1,313 2,314 3,321 4,328 5,286 6,276 7,282 8,301 9,308 10,312 11,299 12,309 13,306 14,295 15,293 16,287 17,317 18,294 19,301 20,281 21,279 22,283 23,285 24,297 25,292 26,288 27,279 28,261 29,283 30,282 31,268 32,282 33,276 34,252 35,251 36,238 37,260 38,246 39,238 40,209 41,235 42,236 43,232 44,201 45,214 46,217 47,212 48,204 49,199 50,177 51,177 52,186 53,169 54,179 55,167 56,171 57,135 58,141 59,153 60,153 61,140 62,140 63,144 64,142 65,161 66,163 67,163 68,171 69,159 70,143 71,82 72,33 73,79 74,110 75,90 76,97 77,136 78,129 79,117 80,129 81,139 82,111 83,145 84,144 85,129 86,138 87,139 88,103 89,90 90,101 91,115 92,110 93,121 94,118 95,108 96,88 97,106 98,111 99,98" stroke="#5f3c82" stroke-width="2.7"/><polyline transform="translate(2567.5,874.9) scale(2.4533,0.5)" points="0,330 1,322 2,312 3,327 4,328 5,320 6,317 7,334 8,327 9,319 10,314 11,322 12,333 13,310 14,298 15,283 16,293 17,286 18,296 19,312 20,306 21,293 22,293 23,307 24,309 25,288 26,308 27,292 28,297 29,300 30,277 31,283 32,285 33,277 34,278 35,267 36,269 37,264 38,268 39,270 40,262 41,246 42,240 43,244 44,222 45,237 46,230 47,232 48,256 49,275 50,247 51,247 52,236 53,238 54,237 55,266 56,238 57,249 58,271 59,266 60,257 61,250 62,255 63,238 64,195 65,230 66,242 67,243 68,227 69,238 70,254 71,262 72,228 73,236 74,198 75,216 76,237 77,199 78,193 79,196 80,207 81,229 82,211 83,189 84,221 85,192 86,171 87,173 88,193 89,186 90,210 91,196 92,171 93,180 94,122 95,123 96,129 97,143 98,187 99,188" stroke="#e6a500" stroke-width="2.7"/><polyline transform="translate(2567.5,874.9) scale(2.4533,0.5)" points="0,325 1,321 2,328 3,337 4,318 5,322 6,328 7,311 8,312 9,310 10,301 11,313 12,310 13,284 14,281 15,293 16,299 17,311 18,295 19,305 20,292 21,285 22,286 23,301 24,304 25,279 26,290 27,285 28,276 29,280 30,287 31,273 32,285 33,306 34,285 35,262 36,273 37,273 38,288 39,279 40,273 41,277 42,278 43,272 44,269 45,273 46,278 47,263 48,259 49,255 50,249 51,259 52,270 53,267 54,269 55,274 56,259 57,247 58,230 59,249 60,245 61,211 62,227 63,227 64,247 65,227 66,210 67,227 68,236 69,244 70,230 71,239 72,272 73,259 74,247 75,244 76,236 77,250 78,246 79,231 80,211 81,209 82,221 83,241 84,232 85,234 86,251 87,223 88,219 89,229 90,193 91,217 92,168 93,197 94,204 95,202 96,197 97,208 98,207 99,159" stroke="#a50f2d" stroke-width="2.7"/><polyline transform="translate(2567.5,874.9) scale(2.4533,0.5)" points="0,348 1,334 2,335 3,347 4,348 5,333 6,332 7,323 8,310 9,309 10,311 11,315 12,306 13,308 14,310 15,300 16,303 17,279 18,298 19,287 20,251 21,267 22,280 23,260 24,255 25,253 26,265 27,291 28,284 29,284 30,244 31,261 32,238 33,234 34,239 35,251 36,237 37,208 38,235 39,225 40,203 41,173 42,209 43,185 44,218 45,188 46,183 47,179 48,194 49,180 50,170 51,170 52,184 53,156 54,169 55,165 56,177 57,164 58,175 59,193 60,179 61,148 62,150 63,158 64,110 65,130 66,125 67,136 68,149 69,160 70,130 71,97 72,84 73,104 74,107 75,117 76,70 77,75 78,115 79,113 80,109 81,115 82,132 83,80 84,119 85,124 86,125 87,83 88,117 89,87 90,75 91,96 92,102 93,88 94,88 95,86 96,49 97,50 98,86 99,105" stroke="#0a28ff" stroke-width="2.7"/></g><rect x="2566.3" y="874.9" width="244.1" height="187.7" fill="none" stroke="#111" stroke-width="1.4"/><path d="M2566.3,1062.6v6M2615.1,1062.6v6M2663.9,1062.6v6M2712.8,1062.6v6M2761.6,1062.6v6M2810.4,1062.6v6M2566.3,1055.6h-6M2566.3,1012.9h-6M2566.3,970.2h-6M2566.3,927.6h-6M2566.3,884.9h-6" stroke="#111" stroke-width="1.4" fill="none"/><g fill="#111"><text x="2566.3" y="1090.5" font-size="17.7" text-anchor="middle" textLength="27.4" lengthAdjust="spacingAndGlyphs">0.0</text><text x="2615.1" y="1090.5" font-size="17.7" text-anchor="middle" textLength="27.4" lengthAdjust="spacingAndGlyphs">0.2</text><text x="2663.9" y="1090.5" font-size="17.7" text-anchor="middle" textLength="27.4" lengthAdjust="spacingAndGlyphs">0.4</text><text x="2712.8" y="1090.5" font-size="17.7" text-anchor="middle" textLength="27.4" lengthAdjust="spacingAndGlyphs">0.6</text><text x="2761.6" y="1090.5" font-size="17.7" text-anchor="middle" textLength="27.4" lengthAdjust="spacingAndGlyphs">0.8</text><text x="2810.4" y="1090.5" font-size="17.7" text-anchor="middle" textLength="27.4" lengthAdjust="spacingAndGlyphs">1.0</text><text x="2552.9" y="1062.3" font-size="17.7" text-anchor="end" textLength="11.0" lengthAdjust="spacingAndGlyphs">0</text><text x="2552.9" y="1019.6" font-size="17.7" text-anchor="end" textLength="32.9" lengthAdjust="spacingAndGlyphs">200</text><text x="2552.9" y="976.9" font-size="17.7" text-anchor="end" textLength="32.9" lengthAdjust="spacingAndGlyphs">400</text><text x="2552.9" y="934.3" font-size="17.7" text-anchor="end" textLength="32.9" lengthAdjust="spacingAndGlyphs">600</text><text x="2552.9" y="891.6" font-size="17.7" text-anchor="end" textLength="32.9" lengthAdjust="spacingAndGlyphs">800</text><text x="2688.4" y="864.1" font-size="22.4" text-anchor="middle" textLength="148.1" lengthAdjust="spacingAndGlyphs">Reacher Easy</text><text x="2810.4" y="1111.9" font-size="17.7" text-anchor="end" textLength="32.6" lengthAdjust="spacingAndGlyphs">1e6</text></g><polygon transform="translate(2884.0,874.9) scale(2.4503,0.5)" points="0,350 2,352 4,344 6,344 8,346 10,347 12,352 14,347 16,349 18,349 20,347 22,348 24,348 26,345 28,341 30,345 32,346 34,345 36,347 38,347 40,343 42,347 44,346 46,346 48,347 50,346 52,344 54,345 56,347 58,349 60,350 62,347 64,347 66,348 68,345 70,346 72,349 74,347 76,345 78,350 80,342 82,344 84,339 86,346 88,346 90,343 92,341 94,337 96,343 98,339 99,344 99,348 98,344 96,347 94,343 92,346 90,348 88,352 86,351 84,344 82,349 80,347 78,355 76,349 74,352 72,352 70,350 68,350 66,353 64,352 62,351 60,354 58,353 56,353 54,350 52,348 50,350 48,352 46,351 44,351 42,351 40,349 38,351 36,353 34,350 32,351 30,350 28,345 26,350 24,353 22,353 20,352 18,353 16,353 14,352 12,357 10,352 8,351 6,349 4,349 2,357 0,355" fill="#23a50d" fill-opacity="0.1"/><polygon transform="translate(2884.0,874.9) scale(2.4503,0.5)" points="0,351 2,341 4,328 6,321 8,317 10,310 12,308 14,302 16,298 18,292 20,290 22,294 24,287 26,288 28,279 30,278 32,277 34,279 36,282 38,279 40,277 42,279 44,276 46,275 48,276 50,273 52,269 54,271 56,271 58,273 60,267 62,265 64,270 66,273 68,265 70,261 72,259 74,263 76,262 78,259 80,256 82,253 84,249 86,259 88,251 90,255 92,249 94,250 96,252 98,254 99,256 99,267 98,269 96,265 94,261 92,263 90,266 88,262 86,271 84,261 82,263 80,265 78,270 76,272 74,273 72,267 70,270 68,275 66,282 64,278 62,274 60,275 58,281 56,280 54,280 52,279 50,282 48,283 46,283 44,283 42,286 40,284 38,285 36,288 34,285 32,284 30,285 28,286 26,292 24,293 22,299 20,295 18,298 16,303 14,307 12,312 10,314 8,321 6,324 4,332 2,344 0,355" fill="#5f3c82" fill-opacity="0.12"/><polygon transform="translate(2884.0,874.9) scale(2.4503,0.5)" points="0,350 2,339 4,329 6,323 8,317 10,312 12,311 14,303 16,300 18,295 20,288 22,286 24,286 26,284 28,279 30,272 32,267 34,272 36,272 38,270 40,269 42,267 44,271 46,264 48,265 50,254 52,263 54,260 56,255 58,260 60,257 62,258 64,255 66,251 68,253 70,254 72,247 74,249 76,248 78,249 80,254 82,257 84,255 86,246 88,243 90,248 92,237 94,235 96,239 98,235 99,240 99,251 98,250 96,251 94,249 92,250 90,261 88,257 86,260 84,265 82,267 80,264 78,261 76,260 74,259 72,258 70,267 68,263 66,264 64,268 62,269 60,270 58,270 56,265 54,272 52,274 50,265 48,276 46,273 44,280 42,278 40,277 38,280 36,283 34,284 32,281 30,285 28,291 26,298 24,302 22,304 20,308 18,313 16,319 14,320 12,323 10,324 8,327 6,332 4,336 2,345 0,354" fill="#e6a500" fill-opacity="0.12"/><polygon transform="translate(2884.0,874.9) scale(2.4503,0.5)" points="0,352 2,338 4,324 6,315 8,307 10,301 12,298 14,291 16,287 18,288 20,280 22,273 24,276 26,277 28,269 30,266 32,266 34,274 36,268 38,268 40,255 42,249 44,246 46,249 48,247 50,243 52,229 54,229 56,231 58,235 60,238 62,239 64,233 66,230 68,223 70,218 72,219 74,217 76,214 78,207 80,207 82,214 84,208 86,202 88,210 90,205 92,202 94,195 96,200 98,200 99,183 99,198 98,214 96,217 94,212 92,214 90,220 88,223 86,219 84,222 82,226 80,221 78,220 76,225 74,232 72,232 70,232 68,234 66,241 64,244 62,250 60,250 58,248 56,240 54,238 52,242 50,254 48,255 46,258 44,256 42,258 40,264 38,276 36,277 34,280 32,272 30,272 28,276 26,283 24,283 22,279 20,285 18,294 16,292 14,296 12,304 10,306 8,311 6,319 4,328 2,341 0,355" fill="#a50f2d" fill-opacity="0.12"/><polygon transform="translate(2884.0,874.9) scale(2.4503,0.5)" points="0,352 2,339 4,319 6,307 8,290 10,282 12,268 14,249 16,240 18,226 20,224 22,204 24,208 26,195 28,183 30,166 32,159 34,152 36,142 38,123 40,119 42,102 44,93 46,89 48,95 50,85 52,79 54,83 56,67 58,47 60,49 62,49 64,59 66,51 68,44 70,47 72,38 74,50 76,41 78,28 80,36 82,31 84,34 86,18 88,25 90,37 92,19 94,20 96,8 98,25 99,25 99,91 98,85 96,78 94,87 92,89 90,93 88,94 86,84 84,102 82,94 80,100 78,96 76,97 74,111 72,107 70,119 68,108 66,121 64,124 62,120 60,124 58,124 56,123 54,152 52,135 50,145 48,153 46,150 44,150 42,150 40,169 38,183 36,183 34,196 32,204 30,214 28,226 26,240 24,239 22,237 20,256 18,256 16,266 14,271 12,290 10,301 8,307 6,321 4,330 2,345 0,356" fill="#0a28ff" fill-opacity="0.1"/><g><polyline transform="translate(2884.0,874.9) scale(2.4503,0.5)" points="0,353 1,356 2,354 3,352 4,346 5,347 6,346 7,346 8,349 9,351 10,350 11,351 12,354 13,350 14,349 15,350 16,351 17,348 18,351 19,347 20,350 21,351 22,350 23,353 24,350 25,346 26,348 27,348 28,343 29,348 30,348 31,349 32,349 33,349 34,347 35,353 36,350 37,351 38,349 39,352 40,346 41,347 42,349 43,351 44,348 45,350 46,349 47,347 48,350 49,346 50,348 51,348 52,346 53,348 54,347 55,349 56,350 57,351 58,351 59,351 60,353 61,351 62,349 63,350 64,349 65,351 66,350 67,346 68,348 69,347 70,348 71,350 72,350 73,349 74,349 75,348 76,346 77,348 78,353 79,347 80,344 81,351 82,346 83,344 84,341 85,348 86,349 87,348 88,349 89,346 90,345 91,346 92,344 93,343 94,340 95,343 96,345 97,344 98,341 99,346" stroke="#23a50d" stroke-width="2.7"/><polyline transform="translate(2884.0,874.9) scale(2.4503,0.5)" points="0,353 1,346 2,342 3,337 4,330 5,324 6,322 7,321 8,319 9,314 10,312 11,307 12,310 13,307 14,304 15,304 16,300 17,298 18,295 19,296 20,293 21,296 22,296 23,295 24,290 25,291 26,290 27,287 28,283 29,279 30,282 31,282 32,281 33,283 34,281 35,282 36,285 37,285 38,282 39,283 40,280 41,279 42,282 43,279 44,280 45,278 46,279 47,278 48,280 49,284 50,277 51,274 52,274 53,276 54,276 55,276 56,276 57,275 58,277 59,273 60,271 61,272 62,270 63,273 64,274 65,271 66,277 67,272 68,271 69,270 70,265 71,266 72,263 73,260 74,268 75,265 76,266 77,262 78,265 79,262 80,260 81,261 82,258 83,262 84,255 85,259 86,265 87,262 88,258 89,259 90,260 91,262 92,256 93,259 94,255 95,257 96,258 97,258 98,261 99,262" stroke="#5f3c82" stroke-width="2.7"/><polyline transform="translate(2884.0,874.9) scale(2.4503,0.5)" points="0,352 1,346 2,342 3,338 4,332 5,329 6,328 7,325 8,322 9,321 10,317 11,318 12,316 13,313 14,312 15,311 16,310 17,309 18,306 19,303 20,299 21,298 22,295 23,293 24,293 25,294 26,292 27,285 28,285 29,278 30,277 31,274 32,273 33,277 34,277 35,278 36,278 37,274 38,276 39,269 40,272 41,269 42,273 43,272 44,274 45,271 46,268 47,272 48,269 49,267 50,260 51,268 52,268 53,267 54,266 55,263 56,259 57,273 58,265 59,262 60,264 61,265 62,264 63,259 64,261 65,266 66,257 67,254 68,257 69,256 70,260 71,256 72,253 73,259 74,254 75,255 76,254 77,254 78,256 79,259 80,259 81,258 82,262 83,257 84,260 85,251 86,253 87,250 88,251 89,247 90,255 91,255 92,245 93,248 94,243 95,239 96,245 97,245 98,243 99,245" stroke="#e6a500" stroke-width="2.7"/><polyline transform="translate(2884.0,874.9) scale(2.4503,0.5)" points="0,354 1,346 2,340 3,334 4,326 5,323 6,317 7,313 8,309 9,305 10,304 11,302 12,301 13,299 14,294 15,286 16,289 17,289 18,290 19,287 20,283 21,279 22,276 23,279 24,279 25,277 26,279 27,274 28,273 29,270 30,269 31,268 32,269 33,275 34,277 35,273 36,273 37,276 38,272 39,267 40,259 41,255 42,253 43,247 44,251 45,250 46,253 47,244 48,251 49,249 50,248 51,243 52,235 53,235 54,234 55,236 56,235 57,242 58,242 59,241 60,244 61,241 62,243 63,240 64,238 65,235 66,235 67,232 68,228 69,222 70,226 71,225 72,226 73,223 74,225 75,221 76,220 77,225 78,215 79,218 80,214 81,210 82,220 83,213 84,216 85,212 86,211 87,212 88,216 89,219 90,212 91,210 92,208 93,206 94,203 95,202 96,208 97,213 98,207 99,192" stroke="#a50f2d" stroke-width="2.7"/><polyline transform="translate(2884.0,874.9) scale(2.4503,0.5)" points="0,354 1,346 2,342 3,335 4,325 5,319 6,314 7,310 8,299 9,296 10,290 11,283 12,281 13,264 14,261 15,262 16,255 17,248 18,244 19,236 20,241 21,229 22,222 23,222 24,224 25,224 26,215 27,203 28,204 29,193 30,190 31,192 32,180 33,173 34,175 35,167 36,164 37,151 38,151 39,147 40,140 41,135 42,127 43,130 44,125 45,125 46,123 47,119 48,123 49,116 50,116 51,116 52,110 53,114 54,114 55,108 56,95 57,102 58,86 59,83 60,86 61,87 62,87 63,83 64,86 65,86 66,90 67,90 68,81 69,84 70,83 71,75 72,76 73,79 74,82 75,72 76,68 77,65 78,58 79,62 80,68 81,62 82,64 83,75 84,60 85,53 86,58 87,51 88,55 89,61 90,68 91,55 92,55 93,52 94,49 95,46 96,48 97,52 98,56 99,60" stroke="#0a28ff" stroke-width="2.7"/></g><rect x="2882.8" y="874.9" width="243.8" height="187.7" fill="none" stroke="#111" stroke-width="1.4"/><path d="M2882.8,1062.6v6M2931.6,1062.6v6M2980.3,1062.6v6M3029.1,1062.6v6M3077.8,1062.6v6M3126.6,1062.6v6M2882.8,1060.6h-6M2882.8,1020.7h-6M2882.8,980.7h-6M2882.8,940.8h-6M2882.8,900.9h-6" stroke="#111" stroke-width="1.4" fill="none"/><g fill="#111"><text x="2882.8" y="1090.5" font-size="17.7" text-anchor="middle" textLength="27.4" lengthAdjust="spacingAndGlyphs">0.0</text><text x="2931.6" y="1090.5" font-size="17.7" text-anchor="middle" textLength="27.4" lengthAdjust="spacingAndGlyphs">0.2</text><text x="2980.3" y="1090.5" font-size="17.7" text-anchor="middle" textLength="27.4" lengthAdjust="spacingAndGlyphs">0.4</text><text x="3029.1" y="1090.5" font-size="17.7" text-anchor="middle" textLength="27.4" lengthAdjust="spacingAndGlyphs">0.6</text><text x="3077.8" y="1090.5" font-size="17.7" text-anchor="middle" textLength="27.4" lengthAdjust="spacingAndGlyphs">0.8</text><text x="3126.6" y="1090.5" font-size="17.7" text-anchor="middle" textLength="27.4" lengthAdjust="spacingAndGlyphs">1.0</text><text x="2869.4" y="1067.3" font-size="17.7" text-anchor="end" textLength="11.0" lengthAdjust="spacingAndGlyphs">0</text><text x="2869.4" y="1027.4" font-size="17.7" text-anchor="end" textLength="32.9" lengthAdjust="spacingAndGlyphs">100</text><text x="2869.4" y="987.4" font-size="17.7" text-anchor="end" textLength="32.9" lengthAdjust="spacingAndGlyphs">200</text><text x="2869.4" y="947.5" font-size="17.7" text-anchor="end" textLength="32.9" lengthAdjust="spacingAndGlyphs">300</text><text x="2869.4" y="907.6" font-size="17.7" text-anchor="end" textLength="32.9" lengthAdjust="spacingAndGlyphs">400</text><text x="3004.7" y="864.1" font-size="22.4" text-anchor="middle" textLength="123.1" lengthAdjust="spacingAndGlyphs">Walker Run</text><text x="3126.6" y="1111.9" font-size="17.7" text-anchor="end" textLength="32.6" lengthAdjust="spacingAndGlyphs">1e6</text></g><path d="M2303.7,1153.5H2334.1" stroke="#0a28ff" stroke-width="2.7" fill="none"/><g fill="#111"><text x="2341.3" y="1160.3" font-size="18.5" text-anchor="start" textLength="108.1" lengthAdjust="spacingAndGlyphs">DreamerPro</text></g><path d="M2471.5,1153.5H2501.9" stroke="#23a50d" stroke-width="2.7" fill="none"/><g fill="#111"><text x="2509.7" y="1160.3" font-size="18.5" text-anchor="start" textLength="79.4" lengthAdjust="spacingAndGlyphs">Dreamer</text></g><path d="M2611.1,1153.5H2640.9" stroke="#a50f2d" stroke-width="2.7" fill="none"/><g fill="#111"><text x="2648.7" y="1160.3" font-size="18.5" text-anchor="start" textLength="88.8" lengthAdjust="spacingAndGlyphs">Dreaming</text></g><path d="M2759.3,1153.5H2789.7" stroke="#e6a500" stroke-width="2.7" fill="none"/><g fill="#111"><text x="2796.8" y="1160.3" font-size="18.5" text-anchor="start" textLength="34.6" lengthAdjust="spacingAndGlyphs">TPC</text></g><path d="M2853.1,1153.5H2883.5" stroke="#5f3c82" stroke-width="2.7" fill="none"/><g fill="#111"><text x="2890.7" y="1160.3" font-size="18.5" text-anchor="start" textLength="133.6" lengthAdjust="spacingAndGlyphs">TPC-Batch-300</text></g></svg>
<svg style="left:0;top:0" width="3200" height="2161" viewBox="0 0 3200 2161"><polygon transform="translate(1195.0,1317) scale(11.0550,0.5)" points="0,309 1,308 2,307 3,305 4,304 5,295 6,286 7,276 8,271 9,266 10,256 11,246 12,236 13,226 14,211 15,213 16,204 17,196 18,158 19,153 19,238 18,240 17,241 16,246 15,261 14,246 13,256 12,264 11,271 10,279 9,286 8,291 7,296 6,302 5,307 4,307 3,308 2,308 1,309 0,309" fill="#e6a500" fill-opacity="0.1"/><polygon transform="translate(1195.0,1317) scale(11.0550,0.5)" points="0,302 1,258 2,120 3,87 4,74 5,55 6,38 7,50 8,37 9,34 10,22 11,31 12,32 13,24 14,25 15,27 16,24 17,27 18,27 19,25 19,39 18,39 17,40 16,37 15,41 14,37 13,35 12,46 11,43 10,34 9,47 8,51 7,64 6,52 5,68 4,90 3,102 2,133 1,271 0,316" fill="#a50f2d" fill-opacity="0.1"/><polygon transform="translate(1195.0,1317) scale(11.0550,0.5)" points="0,273 1,114 2,96 3,58 4,48 5,46 6,50 7,39 8,38 9,51 10,35 11,29 12,24 13,33 14,32 15,23 16,19 17,25 18,35 18,51 17,39 16,32 15,38 14,47 13,49 12,38 11,43 10,52 9,65 8,51 7,56 6,66 5,61 4,60 3,72 2,114 1,130 0,291" fill="#0a28ff" fill-opacity="0.1"/><g><path d="M1183.9,1326.5H1405" stroke="#23a50d" stroke-width="2.7" stroke-dasharray="9.5,4.2" fill="none"/><path d="M1183.9,1335.3H1405" stroke="#aaaaaa" stroke-width="2.7" stroke-dasharray="9.5,4.2" fill="none"/><path d="M1183.9,1338.4H1405" stroke="#222" stroke-width="2.7" stroke-dasharray="9.5,4.2" fill="none"/><polyline transform="translate(1195.0,1317) scale(11.0550,0.5)" points="0,309 1,309 2,309 3,308 4,307 5,303 6,294 7,286 8,279 9,276 10,271 11,256 12,252 13,241 14,230 15,235 16,223 17,217 18,198 19,197" stroke="#e6a500" stroke-width="2.7"/><polyline transform="translate(1195.0,1317) scale(11.0550,0.5)" points="0,309 1,264 2,127 3,95 4,82 5,62 6,44 7,57 8,44 9,39 10,29 11,37 12,39 13,29 14,32 15,34 16,29 17,34 18,34 19,33" stroke="#a50f2d" stroke-width="2.7"/><polyline transform="translate(1195.0,1317) scale(11.0550,0.5)" points="0,281 1,122 2,105 3,64 4,54 5,53 6,57 7,47 8,44 9,58 10,44 11,37 12,32 13,42 14,38 15,29 16,25 17,33 18,42" stroke="#0a28ff" stroke-width="2.7"/></g><rect x="1183.9" y="1317" width="221.1" height="161.6" fill="none" stroke="#111" stroke-width="1.4"/><path d="M1183.9,1478.6v6M1239.2,1478.6v6M1294.5,1478.6v6M1349.7,1478.6v6M1405.0,1478.6v6M1183.9,1471.5h-6M1183.9,1408.5h-6M1183.9,1345.4h-6" stroke="#111" stroke-width="1.4" fill="none"/><g fill="#111"><text x="1183.9" y="1506.5" font-size="17.7" text-anchor="middle" textLength="27.4" lengthAdjust="spacingAndGlyphs">0.0</text><text x="1239.2" y="1506.5" font-size="17.7" text-anchor="middle" textLength="27.4" lengthAdjust="spacingAndGlyphs">0.5</text><text x="1294.5" y="1506.5" font-size="17.7" text-anchor="middle" textLength="27.4" lengthAdjust="spacingAndGlyphs">1.0</text><text x="1349.7" y="1506.5" font-size="17.7" text-anchor="middle" textLength="27.4" lengthAdjust="spacingAndGlyphs">1.5</text><text x="1405.0" y="1506.5" font-size="17.7" text-anchor="middle" textLength="27.4" lengthAdjust="spacingAndGlyphs">2.0</text><text x="1170.5" y="1478.2" font-size="17.7" text-anchor="end" textLength="11.0" lengthAdjust="spacingAndGlyphs">0</text><text x="1170.5" y="1415.2" font-size="17.7" text-anchor="end" textLength="32.9" lengthAdjust="spacingAndGlyphs">500</text><text x="1170.5" y="1352.1" font-size="17.7" text-anchor="end" textLength="43.9" lengthAdjust="spacingAndGlyphs">1000</text><text x="1294.5" y="1306.2" font-size="22.4" text-anchor="middle" textLength="118.0" lengthAdjust="spacingAndGlyphs">Bank Heist</text><text x="1405.0" y="1527.9" font-size="17.7" text-anchor="end" textLength="32.6" lengthAdjust="spacingAndGlyphs">1e7</text></g><polygon transform="translate(1516.3,1317) scale(4.4100,0.5)" points="0,296 1,273 2,228 3,219 4,179 5,185 6,151 7,151 8,140 9,165 10,133 11,139 12,137 13,132 14,145 15,130 16,135 17,144 18,138 19,126 20,110 21,96 22,143 23,104 24,133 25,128 26,122 27,125 28,119 29,113 30,105 31,107 32,105 33,108 34,112 35,101 36,101 37,110 38,116 39,105 40,98 41,99 42,103 43,98 44,91 45,99 46,109 47,94 48,95 48,126 47,135 46,144 45,137 44,136 43,139 42,146 41,144 40,139 39,144 38,152 37,153 36,140 35,142 34,146 33,148 32,150 31,154 30,155 29,156 28,168 27,161 26,164 25,165 24,173 23,153 22,193 21,154 20,164 19,171 18,181 17,193 16,185 15,197 14,196 13,197 12,203 11,203 10,208 9,233 8,203 7,197 6,210 5,229 4,223 3,254 2,260 1,295 0,313" fill="#e6a500" fill-opacity="0.1"/><polygon transform="translate(1516.3,1317) scale(4.4100,0.5)" points="0,289 1,210 2,144 3,127 4,114 5,112 6,106 7,107 8,116 9,78 10,112 11,91 12,77 13,88 14,100 15,81 16,66 17,74 18,76 19,71 20,68 21,68 22,83 23,59 24,69 25,74 26,83 27,83 28,71 29,66 30,88 31,80 32,73 33,70 34,69 35,76 36,79 37,78 38,74 39,75 40,78 41,78 42,80 43,71 44,65 45,60 46,66 47,70 48,76 48,105 47,99 46,92 45,90 44,98 43,105 42,105 41,105 40,103 39,101 38,103 37,110 36,111 35,108 34,99 33,97 32,97 31,106 30,117 29,91 28,108 27,113 26,112 25,110 24,95 23,93 22,114 21,97 20,100 19,101 18,104 17,107 16,105 15,115 14,126 13,122 12,112 11,128 10,138 9,108 8,143 7,139 6,132 5,135 4,140 3,150 2,164 1,226 0,304" fill="#a50f2d" fill-opacity="0.1"/><polygon transform="translate(1516.3,1317) scale(4.4100,0.5)" points="0,277 1,175 2,138 3,126 4,112 5,122 6,133 7,122 8,115 9,114 10,108 11,106 12,81 13,87 14,93 15,94 16,88 17,89 18,87 19,82 20,79 21,74 22,75 23,78 24,73 25,76 26,75 27,68 28,78 29,72 30,53 31,73 32,75 33,70 34,72 35,67 36,75 37,66 38,72 39,62 40,76 41,83 42,70 43,52 44,61 45,74 46,63 47,67 48,81 48,101 47,89 46,81 45,94 44,83 43,74 42,92 41,100 40,97 39,81 38,89 37,88 36,95 35,90 34,90 33,95 32,94 31,92 30,72 29,92 28,97 27,92 26,94 25,97 24,93 23,102 22,93 21,91 20,101 19,105 18,109 17,106 16,109 15,113 14,114 13,109 12,104 11,125 10,130 9,134 8,132 7,143 6,151 5,139 4,128 3,140 2,154 1,186 0,289" fill="#0a28ff" fill-opacity="0.1"/><g><path d="M1511.9,1325.1H1732.4" stroke="#23a50d" stroke-width="2.7" stroke-dasharray="9.5,4.2" fill="none"/><path d="M1511.9,1328.2H1732.4" stroke="#aaaaaa" stroke-width="2.7" stroke-dasharray="9.5,4.2" fill="none"/><path d="M1511.9,1341.4H1732.4" stroke="#222" stroke-width="2.7" stroke-dasharray="9.5,4.2" fill="none"/><polyline transform="translate(1516.3,1317) scale(4.4100,0.5)" points="0,305 1,284 2,246 3,240 4,203 5,207 6,183 7,175 8,171 9,199 10,166 11,175 12,171 13,166 14,173 15,162 16,164 17,166 18,159 19,152 20,139 21,126 22,164 23,132 24,150 25,145 26,140 27,142 28,144 29,130 30,132 31,134 32,132 33,130 34,128 35,126 36,124 37,130 38,136 39,128 40,120 41,123 42,126 43,120 44,114 45,119 46,124 47,117 48,110" stroke="#e6a500" stroke-width="2.7"/><polyline transform="translate(1516.3,1317) scale(4.4100,0.5)" points="0,296 1,217 2,152 3,139 4,126 5,122 6,118 7,124 8,130 9,93 10,124 11,110 12,95 13,105 14,114 15,99 16,85 17,88 18,91 19,85 20,83 21,81 22,102 23,75 24,83 25,91 26,95 27,99 28,89 29,79 30,102 31,93 32,85 33,84 34,83 35,89 36,95 37,93 38,90 39,87 40,90 41,93 42,91 43,89 44,83 45,77 46,81 47,85 48,89" stroke="#a50f2d" stroke-width="2.7"/><polyline transform="translate(1516.3,1317) scale(4.4100,0.5)" points="0,284 1,181 2,146 3,134 4,122 5,132 6,142 7,133 8,124 9,124 10,120 11,116 12,91 13,98 14,103 15,102 16,97 17,97 18,97 19,93 20,90 21,82 22,84 23,91 24,85 25,85 26,85 27,80 28,87 29,83 30,64 31,84 32,85 33,82 34,80 35,79 36,83 37,77 38,81 39,70 40,85 41,92 42,81 43,63 44,71 45,83 46,71 47,78 48,90" stroke="#0a28ff" stroke-width="2.7"/></g><rect x="1511.9" y="1317" width="220.5" height="161.6" fill="none" stroke="#111" stroke-width="1.4"/><path d="M1511.9,1478.6v6M1556.0,1478.6v6M1600.1,1478.6v6M1644.2,1478.6v6M1688.3,1478.6v6M1732.4,1478.6v6M1511.9,1476.4h-6M1511.9,1425.6h-6M1511.9,1374.9h-6M1511.9,1324.1h-6" stroke="#111" stroke-width="1.4" fill="none"/><g fill="#111"><text x="1511.9" y="1506.5" font-size="17.7" text-anchor="middle" textLength="11.0" lengthAdjust="spacingAndGlyphs">0</text><text x="1556.0" y="1506.5" font-size="17.7" text-anchor="middle" textLength="11.0" lengthAdjust="spacingAndGlyphs">1</text><text x="1600.1" y="1506.5" font-size="17.7" text-anchor="middle" textLength="11.0" lengthAdjust="spacingAndGlyphs">2</text><text x="1644.2" y="1506.5" font-size="17.7" text-anchor="middle" textLength="11.0" lengthAdjust="spacingAndGlyphs">3</text><text x="1688.3" y="1506.5" font-size="17.7" text-anchor="middle" textLength="11.0" lengthAdjust="spacingAndGlyphs">4</text><text x="1732.4" y="1506.5" font-size="17.7" text-anchor="middle" textLength="11.0" lengthAdjust="spacingAndGlyphs">5</text><text x="1498.5" y="1483.1" font-size="17.7" text-anchor="end" textLength="11.0" lengthAdjust="spacingAndGlyphs">0</text><text x="1498.5" y="1432.3" font-size="17.7" text-anchor="end" textLength="54.9" lengthAdjust="spacingAndGlyphs">50000</text><text x="1498.5" y="1381.6" font-size="17.7" text-anchor="end" textLength="65.9" lengthAdjust="spacingAndGlyphs">100000</text><text x="1498.5" y="1330.8" font-size="17.7" text-anchor="end" textLength="65.9" lengthAdjust="spacingAndGlyphs">150000</text><text x="1622.2" y="1306.2" font-size="22.4" text-anchor="middle" textLength="154.3" lengthAdjust="spacingAndGlyphs">Crazy Climber</text><text x="1732.4" y="1527.9" font-size="17.7" text-anchor="end" textLength="32.6" lengthAdjust="spacingAndGlyphs">1e7</text></g><g><path d="M1839.9,1325.5H2060.3" stroke="#23a50d" stroke-width="2.7" stroke-dasharray="9.5,4.2" fill="none"/><path d="M1839.9,1458.0H2060.3" stroke="#aaaaaa" stroke-width="2.7" stroke-dasharray="9.5,4.2" fill="none"/><path d="M1839.9,1463.7H2060.3" stroke="#222" stroke-width="2.7" stroke-dasharray="9.5,4.2" fill="none"/><polyline transform="translate(1841.0,1317) scale(3.7169,0.5)" points="0,309 1,309 2,308 3,308 4,308 5,308 6,309 7,308 8,308 9,308 10,308 11,308 12,308 13,308 14,308 15,308 16,308 17,308 18,308 19,307 20,308 21,308 22,307 23,308 24,308 25,308 26,307 27,308 28,307 29,307 30,307 31,307 32,307 33,307 34,307 35,307 36,307 37,307 38,307 39,307 40,307 41,307 42,307 43,307 44,307 45,307 46,307 47,307 48,307 49,307 50,306 51,306 52,306 53,306 54,306 55,306 56,306 57,306 58,306 59,306" stroke="#e6a500" stroke-width="2.7"/><polyline transform="translate(1841.0,1317) scale(3.7169,0.5)" points="0,309 1,309 2,308 3,308 4,308 5,308 6,308 7,308 8,308 9,308 10,308 11,308 12,308 13,308 14,307 15,308 16,307 17,307 18,307 19,307 20,307 21,307 22,307 23,307 24,307 25,306 26,306 27,306 28,306 29,306 30,306 31,306 32,306 33,306 34,306 35,306 36,306 37,306 38,306 39,306 40,306 41,306 42,306 43,306 44,306 45,306 46,306 47,306 48,306 49,306 50,306 51,306 52,306 53,306 54,306 55,306 56,305 57,306 58,306 59,305" stroke="#a50f2d" stroke-width="2.7"/><polyline transform="translate(1841.0,1317) scale(2.2151,0.5)" points="0,309 1,309 2,309 3,308 4,308 5,308 6,308 7,308 8,308 9,307 10,307 11,307 12,307 13,307 14,306 15,306 16,307 17,306 18,306 19,307 20,306 21,306 22,306 23,306 24,306 25,306 26,306 27,306 28,305 29,305 30,305 31,306 32,305 33,305 34,304 35,304 36,304 37,304 38,304 39,304 40,304 41,304 42,304 43,303 44,303 45,303 46,303 47,303 48,303 49,303 50,303 51,302 52,303 53,303 54,302 55,302 56,302 57,302 58,302 59,303 60,302 61,301 62,302 63,300 64,301 65,302 66,300 67,302 68,301 69,301 70,300 71,301 72,300 73,300 74,300 75,300 76,301 77,301 78,299 79,299 80,300 81,299 82,298 83,298 84,299 85,298 86,296 87,298 88,299 89,297 90,298 91,298 92,298 93,297 94,296 95,297 96,297 97,298 98,299 99,298" stroke="#0a28ff" stroke-width="2.7"/></g><rect x="1839.9" y="1317" width="220.4" height="161.6" fill="none" stroke="#111" stroke-width="1.4"/><path d="M1839.9,1478.6v6M1884.0,1478.6v6M1928.1,1478.6v6M1972.1,1478.6v6M2016.2,1478.6v6M2060.3,1478.6v6M1839.9,1471.3h-6M1839.9,1433.2h-6M1839.9,1395.1h-6M1839.9,1357.1h-6M1839.9,1319.0h-6" stroke="#111" stroke-width="1.4" fill="none"/><g fill="#111"><text x="1839.9" y="1506.5" font-size="17.7" text-anchor="middle" textLength="27.4" lengthAdjust="spacingAndGlyphs">0.0</text><text x="1884.0" y="1506.5" font-size="17.7" text-anchor="middle" textLength="27.4" lengthAdjust="spacingAndGlyphs">0.2</text><text x="1928.1" y="1506.5" font-size="17.7" text-anchor="middle" textLength="27.4" lengthAdjust="spacingAndGlyphs">0.4</text><text x="1972.1" y="1506.5" font-size="17.7" text-anchor="middle" textLength="27.4" lengthAdjust="spacingAndGlyphs">0.6</text><text x="2016.2" y="1506.5" font-size="17.7" text-anchor="middle" textLength="27.4" lengthAdjust="spacingAndGlyphs">0.8</text><text x="2060.3" y="1506.5" font-size="17.7" text-anchor="middle" textLength="27.4" lengthAdjust="spacingAndGlyphs">1.0</text><text x="1826.5" y="1478.0" font-size="17.7" text-anchor="end" textLength="11.0" lengthAdjust="spacingAndGlyphs">0</text><text x="1826.5" y="1439.9" font-size="17.7" text-anchor="end" textLength="54.9" lengthAdjust="spacingAndGlyphs">50000</text><text x="1826.5" y="1401.8" font-size="17.7" text-anchor="end" textLength="65.9" lengthAdjust="spacingAndGlyphs">100000</text><text x="1826.5" y="1363.8" font-size="17.7" text-anchor="end" textLength="65.9" lengthAdjust="spacingAndGlyphs">150000</text><text x="1826.5" y="1325.7" font-size="17.7" text-anchor="end" textLength="65.9" lengthAdjust="spacingAndGlyphs">200000</text><text x="1950.1" y="1306.2" font-size="22.4" text-anchor="middle" textLength="76.5" lengthAdjust="spacingAndGlyphs">Asterix</text><text x="2060.3" y="1527.9" font-size="17.7" text-anchor="end" textLength="32.6" lengthAdjust="spacingAndGlyphs">1e8</text></g><polygon transform="translate(1195.0,1570.3) scale(11.0550,0.5)" points="0,251 1,134 2,121 3,107 4,71 5,35 6,31 7,26 8,26 9,26 10,24 11,22 12,18 13,14 14,18 15,22 16,22 17,22 18,19 19,17 19,285 18,285 17,285 16,285 15,285 14,286 13,286 12,286 11,286 10,287 9,287 8,287 7,287 6,288 5,289 4,296 3,292 2,278 1,224 0,260" fill="#e6a500" fill-opacity="0.12"/><polygon transform="translate(1195.0,1570.3) scale(11.0550,0.5)" points="0,220 1,77 2,84 3,76 4,92 5,78 6,78 7,66 8,68 9,70 10,64 11,58 12,65 13,61 14,64 15,62 16,56 17,62 18,64 18,77 17,80 16,74 15,78 14,82 13,79 12,83 11,78 10,87 9,91 8,93 7,97 6,111 5,125 4,131 3,111 2,116 1,125 0,286" fill="#0a28ff" fill-opacity="0.1"/><g><path d="M1183.9,1589.2H1405" stroke="#222" stroke-width="2.7" stroke-dasharray="9.5,4.2" fill="none"/><path d="M1183.9,1593.7H1405" stroke="#23a50d" stroke-width="2.7" stroke-dasharray="9.5,4.2" fill="none"/><polyline transform="translate(1195.0,1570.3) scale(11.0550,0.5)" points="0,256 1,179 2,201 3,207 4,188 5,168 6,159 7,158 8,158 9,156 10,155 11,151 12,153 13,149 14,150 15,152 16,154 17,155 18,152 19,149" stroke="#e6a500" stroke-width="2.7"/><polyline transform="translate(1195.0,1570.3) scale(11.0550,0.5)" points="0,256 1,107 2,66 3,54 4,52 5,50 6,51 7,50 8,49 9,45 10,48 11,48 12,49 13,49 14,48 15,46 16,50 17,44 18,48" stroke="#a50f2d" stroke-width="2.7"/><polyline transform="translate(1195.0,1570.3) scale(11.0550,0.5)" points="0,253 1,104 2,98 3,95 4,109 5,102 6,95 7,84 8,83 9,82 10,76 11,69 12,73 13,68 14,75 15,69 16,66 17,72 18,71" stroke="#0a28ff" stroke-width="2.7"/></g><rect x="1183.9" y="1570.3" width="221.1" height="161.2" fill="none" stroke="#111" stroke-width="1.4"/><path d="M1183.9,1731.5v6M1239.2,1731.5v6M1294.5,1731.5v6M1349.7,1731.5v6M1405.0,1731.5v6M1183.9,1695.9h-6M1183.9,1650.9h-6M1183.9,1605.9h-6" stroke="#111" stroke-width="1.4" fill="none"/><g fill="#111"><text x="1183.9" y="1759.4" font-size="17.7" text-anchor="middle" textLength="27.4" lengthAdjust="spacingAndGlyphs">0.0</text><text x="1239.2" y="1759.4" font-size="17.7" text-anchor="middle" textLength="27.4" lengthAdjust="spacingAndGlyphs">0.5</text><text x="1294.5" y="1759.4" font-size="17.7" text-anchor="middle" textLength="27.4" lengthAdjust="spacingAndGlyphs">1.0</text><text x="1349.7" y="1759.4" font-size="17.7" text-anchor="middle" textLength="27.4" lengthAdjust="spacingAndGlyphs">1.5</text><text x="1405.0" y="1759.4" font-size="17.7" text-anchor="middle" textLength="27.4" lengthAdjust="spacingAndGlyphs">2.0</text><text x="1170.5" y="1702.6" font-size="17.7" text-anchor="end" textLength="22.0" lengthAdjust="spacingAndGlyphs">10</text><text x="1170.5" y="1657.6" font-size="17.7" text-anchor="end" textLength="22.0" lengthAdjust="spacingAndGlyphs">20</text><text x="1170.5" y="1612.6" font-size="17.7" text-anchor="end" textLength="22.0" lengthAdjust="spacingAndGlyphs">30</text><text x="1294.5" y="1559.5" font-size="22.4" text-anchor="middle" textLength="90.8" lengthAdjust="spacingAndGlyphs">Freeway</text><text x="1405.0" y="1780.8" font-size="17.7" text-anchor="end" textLength="32.6" lengthAdjust="spacingAndGlyphs">1e7</text></g><polygon transform="translate(1516.3,1570.3) scale(4.4100,0.5)" points="0,305 1,274 2,230 3,194 4,161 5,135 6,127 7,107 8,91 9,79 10,78 11,91 12,103 13,88 14,84 15,64 16,109 17,61 18,75 19,79 20,55 21,58 22,44 23,76 24,59 25,69 26,52 27,51 28,65 29,74 30,73 31,62 32,80 33,96 34,76 35,82 36,79 37,81 38,75 39,87 40,106 41,97 42,94 43,129 44,120 45,107 46,102 47,94 48,102 48,208 47,207 46,214 45,199 44,212 43,221 42,189 41,192 40,205 39,177 38,173 37,182 36,173 35,154 34,164 33,170 32,164 31,134 30,156 29,142 28,135 27,122 26,134 25,140 24,131 23,145 22,120 21,123 20,119 19,148 18,134 17,138 16,164 15,130 14,144 13,148 12,161 11,147 10,125 9,123 8,115 7,125 6,139 5,148 4,171 3,203 2,238 1,280 0,310" fill="#a50f2d" fill-opacity="0.11"/><polygon transform="translate(1516.3,1570.3) scale(4.4100,0.5)" points="0,301 1,231 2,200 3,168 4,143 5,118 6,88 7,81 8,64 9,39 10,44 11,34 12,36 13,23 14,23 15,22 16,17 17,22 18,21 19,17 20,17 21,21 22,16 23,18 24,18 25,19 26,19 27,16 28,18 29,19 30,20 31,25 32,22 33,21 34,19 35,17 36,19 37,17 38,16 39,27 40,8 41,12 42,44 43,21 44,35 45,26 46,13 47,17 48,30 48,41 47,30 46,26 45,39 44,69 43,77 42,130 41,71 40,43 39,36 38,27 37,27 36,27 35,30 34,30 33,32 32,32 31,35 30,31 29,28 28,29 27,27 26,29 25,32 24,30 23,29 22,27 21,32 20,30 19,30 18,32 17,37 16,33 15,36 14,38 13,37 12,47 11,45 10,58 9,53 8,76 7,92 6,98 5,130 4,154 3,179 2,207 1,237 0,307" fill="#0a28ff" fill-opacity="0.1"/><g><path d="M1511.9,1589.9H1732.4" stroke="#222" stroke-width="2.7" stroke-dasharray="9.5,4.2" fill="none"/><path d="M1511.9,1591.2H1732.4" stroke="#23a50d" stroke-width="2.7" stroke-dasharray="9.5,4.2" fill="none"/><polyline transform="translate(1516.3,1570.3) scale(4.4100,0.5)" points="0,308 1,307 2,306 3,307 4,303 5,306 6,305 7,304 8,305 9,305 10,304 11,304 12,302 13,301 14,303 15,303 16,302 17,302 18,302 19,303 20,301 21,300 22,299 23,301 24,301 25,301 26,300 27,300 28,301 29,300 30,300 31,300 32,300 33,302 34,300 35,301 36,301 37,300 38,300 39,301 40,299 41,301 42,300 43,301 44,300 45,301 46,299 47,301 48,301" stroke="#e6a500" stroke-width="2.7"/><polyline transform="translate(1516.3,1570.3) scale(4.4100,0.5)" points="0,308 1,277 2,234 3,198 4,167 5,141 6,133 7,116 8,105 9,102 10,103 11,116 12,129 13,119 14,110 15,100 16,136 17,97 18,102 19,119 20,90 21,97 22,84 23,105 24,95 25,102 26,92 27,94 28,105 29,112 30,116 31,103 32,124 33,134 34,124 35,122 36,121 37,130 38,129 39,133 40,149 41,143 42,154 43,166 44,165 45,152 46,151 47,150 48,155" stroke="#a50f2d" stroke-width="2.7"/><polyline transform="translate(1516.3,1570.3) scale(4.4100,0.5)" points="0,304 1,234 2,204 3,173 4,149 5,124 6,92 7,88 8,69 9,47 10,52 11,40 12,41 13,29 14,30 15,28 16,25 17,29 18,26 19,23 20,25 21,26 22,22 23,23 24,25 25,24 26,24 27,23 28,23 29,24 30,26 31,29 32,27 33,26 34,24 35,23 36,23 37,22 38,22 39,31 40,22 41,41 42,88 43,47 44,50 45,33 46,20 47,24 48,36" stroke="#0a28ff" stroke-width="2.7"/></g><rect x="1511.9" y="1570.3" width="220.5" height="161.2" fill="none" stroke="#111" stroke-width="1.4"/><path d="M1511.9,1731.5v6M1556.0,1731.5v6M1600.1,1731.5v6M1644.2,1731.5v6M1688.3,1731.5v6M1732.4,1731.5v6M1511.9,1724.2h-6M1511.9,1663.0h-6M1511.9,1601.9h-6" stroke="#111" stroke-width="1.4" fill="none"/><g fill="#111"><text x="1511.9" y="1759.4" font-size="17.7" text-anchor="middle" textLength="11.0" lengthAdjust="spacingAndGlyphs">0</text><text x="1556.0" y="1759.4" font-size="17.7" text-anchor="middle" textLength="11.0" lengthAdjust="spacingAndGlyphs">1</text><text x="1600.1" y="1759.4" font-size="17.7" text-anchor="middle" textLength="11.0" lengthAdjust="spacingAndGlyphs">2</text><text x="1644.2" y="1759.4" font-size="17.7" text-anchor="middle" textLength="11.0" lengthAdjust="spacingAndGlyphs">3</text><text x="1688.3" y="1759.4" font-size="17.7" text-anchor="middle" textLength="11.0" lengthAdjust="spacingAndGlyphs">4</text><text x="1732.4" y="1759.4" font-size="17.7" text-anchor="middle" textLength="11.0" lengthAdjust="spacingAndGlyphs">5</text><text x="1498.5" y="1730.9" font-size="17.7" text-anchor="end" textLength="11.0" lengthAdjust="spacingAndGlyphs">0</text><text x="1498.5" y="1669.7" font-size="17.7" text-anchor="end" textLength="43.9" lengthAdjust="spacingAndGlyphs">1000</text><text x="1498.5" y="1608.6" font-size="17.7" text-anchor="end" textLength="43.9" lengthAdjust="spacingAndGlyphs">2000</text><text x="1622.2" y="1559.5" font-size="22.4" text-anchor="middle" textLength="77.4" lengthAdjust="spacingAndGlyphs">Enduro</text><text x="1732.4" y="1780.8" font-size="17.7" text-anchor="end" textLength="32.6" lengthAdjust="spacingAndGlyphs">1e7</text></g><polygon transform="translate(1841.0,1570.3) scale(2.2151,0.5)" points="0,260 2,277 4,280 6,273 8,283 10,281 12,299 14,279 16,286 18,275 20,275 22,274 24,277 26,275 28,270 30,251 32,252 34,251 36,248 38,242 40,238 42,252 44,253 46,237 48,238 50,247 52,242 54,244 56,242 58,244 60,245 62,247 64,240 66,242 68,246 70,251 72,242 74,234 76,240 78,248 80,250 82,241 84,240 86,239 88,239 90,246 92,230 94,246 96,246 98,235 99,237 99,250 98,250 96,263 94,265 92,248 90,261 88,254 86,254 84,255 82,258 80,268 78,263 76,257 74,254 72,258 70,267 68,267 66,257 64,253 62,261 60,265 58,263 56,257 54,258 52,260 50,264 48,252 46,250 44,266 42,265 40,254 38,261 36,264 34,267 32,268 30,271 28,287 26,294 24,292 22,290 20,291 18,293 16,303 14,295 12,318 10,297 8,300 6,290 4,297 2,294 0,274" fill="#e6a500" fill-opacity="0.1"/><polygon transform="translate(1841.0,1570.3) scale(2.2151,0.5)" points="0,262 2,244 4,206 6,183 8,215 10,217 12,219 14,209 16,200 18,188 20,220 22,215 24,214 26,219 28,209 30,203 32,204 34,201 36,198 38,196 40,193 42,205 44,193 46,203 48,191 50,204 52,201 54,193 56,183 58,186 60,184 62,184 64,176 66,170 68,171 70,171 72,173 74,182 76,185 78,187 80,184 82,181 84,181 86,177 88,184 90,193 92,184 94,192 96,180 98,178 99,173 99,234 98,251 96,245 94,248 92,249 90,236 88,235 86,237 84,234 82,235 80,243 78,238 76,238 74,227 72,222 70,212 68,217 66,222 64,233 62,221 60,225 58,229 56,224 54,234 52,241 50,249 48,242 46,241 44,233 42,246 40,237 38,236 36,237 34,238 32,247 30,252 28,254 26,271 24,267 22,263 20,269 18,246 16,251 14,262 12,275 10,265 8,267 6,226 4,241 2,272 0,280" fill="#a50f2d" fill-opacity="0.11"/><polygon transform="translate(1841.0,1570.3) scale(2.2151,0.5)" points="0,265 2,227 4,218 6,201 8,207 10,202 12,192 14,189 16,183 18,183 20,189 22,178 24,170 26,175 28,176 30,167 32,161 34,161 36,149 38,138 40,160 42,159 44,137 46,152 48,130 50,140 52,153 54,139 56,156 58,157 60,148 62,134 64,160 66,152 68,149 70,151 72,144 74,148 76,136 78,147 80,142 82,144 84,133 86,133 88,117 90,121 92,135 94,141 96,102 98,143 99,154 99,182 98,175 96,130 94,163 92,164 90,154 88,145 86,161 84,161 82,173 80,170 78,169 76,161 74,172 72,170 70,178 68,175 66,180 64,185 62,161 60,174 58,184 56,179 54,163 52,175 50,163 48,157 46,172 44,162 42,182 40,178 38,158 36,168 34,180 32,183 30,189 28,197 26,194 24,191 22,194 20,205 18,197 16,198 14,201 12,204 10,216 8,219 6,210 4,226 2,234 0,273" fill="#0a28ff" fill-opacity="0.1"/><g><path d="M1839.9,1577.1H2060.3" stroke="#23a50d" stroke-width="2.7" stroke-dasharray="9.5,4.2" fill="none"/><path d="M1839.9,1658.4H2060.3" stroke="#aaaaaa" stroke-width="2.7" stroke-dasharray="9.5,4.2" fill="none"/><path d="M1839.9,1675.0H2060.3" stroke="#222" stroke-width="2.7" stroke-dasharray="9.5,4.2" fill="none"/><polyline transform="translate(1841.0,1570.3) scale(2.2151,0.5)" points="0,267 1,281 2,286 3,290 4,289 5,283 6,283 7,287 8,290 9,284 10,290 11,295 12,308 13,304 14,287 15,287 16,294 17,288 18,283 19,287 20,281 21,276 22,282 23,285 24,284 25,286 26,285 27,291 28,279 29,267 30,261 31,259 32,261 33,262 34,258 35,260 36,258 37,255 38,252 39,247 40,246 41,254 42,258 43,263 44,260 45,251 46,244 47,248 48,246 49,256 50,256 51,251 52,251 53,246 54,251 55,251 56,250 57,256 58,254 59,257 60,255 61,253 62,254 63,244 64,247 65,253 66,250 67,250 68,256 69,258 70,258 71,255 72,251 73,248 74,244 75,251 76,249 77,247 78,256 79,263 80,258 81,249 82,250 83,250 84,248 85,244 86,245 87,246 88,246 89,251 90,253 91,251 92,240 93,252 94,255 95,256 96,254 97,247 98,243 99,243" stroke="#e6a500" stroke-width="2.7"/><polyline transform="translate(1841.0,1570.3) scale(2.2151,0.5)" points="0,271 1,270 2,258 3,241 4,222 5,200 6,201 7,223 8,240 9,242 10,241 11,238 12,243 13,243 14,240 15,236 16,228 17,217 18,218 19,236 20,241 21,243 22,241 23,235 24,239 25,242 26,247 27,247 28,236 29,227 30,226 31,225 32,226 33,219 34,220 35,216 36,218 37,222 38,217 39,217 40,216 41,221 42,225 43,215 44,211 45,216 46,223 47,220 48,217 49,224 50,225 51,224 52,219 53,214 54,211 55,207 56,207 57,209 58,208 59,214 60,206 61,205 62,203 63,202 64,205 65,204 66,197 67,198 68,190 69,189 70,193 71,190 72,199 73,202 74,205 75,208 76,210 77,209 78,217 79,210 80,212 81,216 82,204 83,207 84,207 85,209 86,208 87,209 88,213 89,211 90,214 91,213 92,215 93,219 94,221 95,218 96,210 97,213 98,215 99,208" stroke="#a50f2d" stroke-width="2.7"/><polyline transform="translate(1841.0,1570.3) scale(2.2151,0.5)" points="0,270 1,242 2,230 3,225 4,222 5,212 6,206 7,211 8,213 9,210 10,209 11,201 12,198 13,197 14,196 15,198 16,190 17,190 18,192 19,185 20,195 21,187 22,185 23,192 24,182 25,177 26,186 27,181 28,185 29,182 30,178 31,178 32,172 33,165 34,169 35,161 36,158 37,159 38,149 39,157 40,168 41,174 42,170 43,168 44,151 45,160 46,162 47,160 48,144 49,143 50,150 51,163 52,163 53,176 54,153 55,150 56,167 57,160 58,169 59,163 60,162 61,157 62,147 63,170 64,173 65,165 66,168 67,160 68,163 69,169 70,167 71,154 72,158 73,139 74,158 75,157 76,148 77,140 78,158 79,148 80,154 81,151 82,157 83,145 84,150 85,153 86,149 87,151 88,128 89,140 90,137 91,141 92,152 93,154 94,152 95,136 96,119 97,152 98,160 99,166" stroke="#0a28ff" stroke-width="2.7"/></g><rect x="1839.9" y="1570.3" width="220.4" height="161.2" fill="none" stroke="#111" stroke-width="1.4"/><path d="M1839.9,1731.5v6M1884.0,1731.5v6M1928.1,1731.5v6M1972.1,1731.5v6M2016.2,1731.5v6M2060.3,1731.5v6M1839.9,1725.7h-6M1839.9,1691.7h-6M1839.9,1657.7h-6M1839.9,1623.7h-6M1839.9,1589.7h-6" stroke="#111" stroke-width="1.4" fill="none"/><g fill="#111"><text x="1839.9" y="1759.4" font-size="17.7" text-anchor="middle" textLength="27.4" lengthAdjust="spacingAndGlyphs">0.0</text><text x="1884.0" y="1759.4" font-size="17.7" text-anchor="middle" textLength="27.4" lengthAdjust="spacingAndGlyphs">0.2</text><text x="1928.1" y="1759.4" font-size="17.7" text-anchor="middle" textLength="27.4" lengthAdjust="spacingAndGlyphs">0.4</text><text x="1972.1" y="1759.4" font-size="17.7" text-anchor="middle" textLength="27.4" lengthAdjust="spacingAndGlyphs">0.6</text><text x="2016.2" y="1759.4" font-size="17.7" text-anchor="middle" textLength="27.4" lengthAdjust="spacingAndGlyphs">0.8</text><text x="2060.3" y="1759.4" font-size="17.7" text-anchor="middle" textLength="27.4" lengthAdjust="spacingAndGlyphs">1.0</text><text x="1826.5" y="1732.4" font-size="17.7" text-anchor="end" textLength="28.2" lengthAdjust="spacingAndGlyphs">−20</text><text x="1826.5" y="1698.4" font-size="17.7" text-anchor="end" textLength="28.2" lengthAdjust="spacingAndGlyphs">−10</text><text x="1826.5" y="1664.4" font-size="17.7" text-anchor="end" textLength="11.0" lengthAdjust="spacingAndGlyphs">0</text><text x="1826.5" y="1630.4" font-size="17.7" text-anchor="end" textLength="22.0" lengthAdjust="spacingAndGlyphs">10</text><text x="1826.5" y="1596.4" font-size="17.7" text-anchor="end" textLength="22.0" lengthAdjust="spacingAndGlyphs">20</text><text x="1950.1" y="1559.5" font-size="22.4" text-anchor="middle" textLength="119.2" lengthAdjust="spacingAndGlyphs">Ice Hockey</text><text x="2060.3" y="1780.8" font-size="17.7" text-anchor="end" textLength="32.6" lengthAdjust="spacingAndGlyphs">1e8</text></g><polygon transform="translate(1195.0,1822.8) scale(11.0550,0.5)" points="0,297 1,270 2,224 3,199 4,158 5,152 6,116 7,99 8,102 9,72 10,67 11,59 12,57 13,46 14,48 15,47 16,46 17,48 18,47 19,50 19,74 18,67 17,74 16,74 15,70 14,74 13,78 12,92 11,111 10,125 9,141 8,165 7,167 6,189 5,213 4,216 3,274 2,298 1,308 0,306" fill="#e6a500" fill-opacity="0.1"/><polygon transform="translate(1195.0,1822.8) scale(11.0550,0.5)" points="0,270 1,191 2,123 3,89 4,62 5,49 6,53 7,49 8,48 9,45 10,45 11,42 12,41 13,41 14,41 15,41 16,41 17,39 18,34 18,44 17,49 16,52 15,51 14,53 13,52 12,53 11,56 10,59 9,59 8,63 7,68 6,73 5,75 4,93 3,112 2,139 1,202 0,277" fill="#a50f2d" fill-opacity="0.1"/><polygon transform="translate(1195.0,1822.8) scale(11.0550,0.5)" points="0,266 1,164 2,63 3,67 4,57 5,48 6,47 7,40 8,49 9,39 10,36 11,34 12,52 13,30 14,41 15,31 16,34 17,41 18,44 18,61 17,60 16,56 15,52 14,64 13,58 12,77 11,64 10,70 9,77 8,100 7,106 6,143 5,121 4,125 3,128 2,122 1,196 0,273" fill="#0a28ff" fill-opacity="0.1"/><g><path d="M1183.9,1830.4H1405" stroke="#222" stroke-width="2.7" stroke-dasharray="9.5,4.2" fill="none"/><path d="M1183.9,1840.2H1405" stroke="#23a50d" stroke-width="2.7" stroke-dasharray="9.5,4.2" fill="none"/><polyline transform="translate(1195.0,1822.8) scale(11.0550,0.5)" points="0,302 1,289 2,258 3,235 4,192 5,179 6,155 7,137 8,132 9,105 10,95 11,85 12,74 13,64 14,63 15,60 16,61 17,61 18,58 19,61" stroke="#e6a500" stroke-width="2.7"/><polyline transform="translate(1195.0,1822.8) scale(11.0550,0.5)" points="0,273 1,197 2,132 3,99 4,79 5,63 6,64 7,59 8,56 9,51 10,50 11,50 12,48 13,46 14,47 15,47 16,46 17,43 18,39" stroke="#a50f2d" stroke-width="2.7"/><polyline transform="translate(1195.0,1822.8) scale(11.0550,0.5)" points="0,269 1,182 2,99 3,99 4,86 5,82 6,92 7,69 8,72 9,57 10,52 11,50 12,63 13,42 14,51 15,41 16,46 17,50 18,54" stroke="#0a28ff" stroke-width="2.7"/></g><rect x="1183.9" y="1822.8" width="221.1" height="161.3" fill="none" stroke="#111" stroke-width="1.4"/><path d="M1183.9,1984.1v6M1239.2,1984.1v6M1294.5,1984.1v6M1349.7,1984.1v6M1405.0,1984.1v6M1183.9,1975.4h-6M1183.9,1939.3h-6M1183.9,1903.1h-6M1183.9,1866.9h-6M1183.9,1830.8h-6" stroke="#111" stroke-width="1.4" fill="none"/><g fill="#111"><text x="1183.9" y="2012.0" font-size="17.7" text-anchor="middle" textLength="27.4" lengthAdjust="spacingAndGlyphs">0.0</text><text x="1239.2" y="2012.0" font-size="17.7" text-anchor="middle" textLength="27.4" lengthAdjust="spacingAndGlyphs">0.5</text><text x="1294.5" y="2012.0" font-size="17.7" text-anchor="middle" textLength="27.4" lengthAdjust="spacingAndGlyphs">1.0</text><text x="1349.7" y="2012.0" font-size="17.7" text-anchor="middle" textLength="27.4" lengthAdjust="spacingAndGlyphs">1.5</text><text x="1405.0" y="2012.0" font-size="17.7" text-anchor="middle" textLength="27.4" lengthAdjust="spacingAndGlyphs">2.0</text><text x="1170.5" y="1982.1" font-size="17.7" text-anchor="end" textLength="28.2" lengthAdjust="spacingAndGlyphs">−20</text><text x="1170.5" y="1946.0" font-size="17.7" text-anchor="end" textLength="28.2" lengthAdjust="spacingAndGlyphs">−10</text><text x="1170.5" y="1909.8" font-size="17.7" text-anchor="end" textLength="11.0" lengthAdjust="spacingAndGlyphs">0</text><text x="1170.5" y="1873.6" font-size="17.7" text-anchor="end" textLength="22.0" lengthAdjust="spacingAndGlyphs">10</text><text x="1170.5" y="1837.5" font-size="17.7" text-anchor="end" textLength="22.0" lengthAdjust="spacingAndGlyphs">20</text><text x="1294.5" y="1812.0" font-size="22.4" text-anchor="middle" textLength="53.6" lengthAdjust="spacingAndGlyphs">Pong</text><text x="1405.0" y="2033.4" font-size="17.7" text-anchor="end" textLength="32.6" lengthAdjust="spacingAndGlyphs">1e7</text></g><polygon transform="translate(1516.3,1822.8) scale(4.4100,0.5)" points="0,295 1,276 2,266 3,262 4,243 5,244 6,234 7,229 8,240 9,223 10,230 11,219 12,215 13,202 14,186 15,200 16,196 17,208 18,192 19,202 20,197 21,193 22,199 23,193 24,190 25,185 26,178 27,171 28,166 29,183 30,175 31,154 32,169 33,178 34,170 35,176 36,165 37,158 38,160 39,156 40,174 41,167 42,162 43,146 44,150 45,149 46,160 47,160 48,174 48,206 47,183 46,192 45,183 44,181 43,179 42,193 41,199 40,200 39,188 38,188 37,191 36,193 35,205 34,200 33,203 32,198 31,185 30,208 29,215 28,196 27,204 26,208 25,212 24,219 23,226 22,226 21,226 20,225 19,231 18,229 17,250 16,251 15,244 14,238 13,251 12,266 11,252 10,260 9,254 8,266 7,250 6,258 5,262 4,263 3,276 2,277 1,286 0,304" fill="#e6a500" fill-opacity="0.1"/><polygon transform="translate(1516.3,1822.8) scale(4.4100,0.5)" points="0,301 1,275 2,255 3,252 4,250 5,260 6,270 7,272 8,260 9,259 10,231 11,250 12,260 13,249 14,246 15,246 16,248 17,236 18,242 19,231 20,225 21,238 22,232 23,221 24,223 25,221 26,230 27,223 28,218 29,218 30,227 31,213 32,205 33,220 34,212 35,211 36,208 37,206 38,198 39,210 40,207 41,221 42,202 43,206 44,219 45,226 46,213 47,207 48,218 48,250 47,238 46,237 45,261 44,244 43,231 42,237 41,250 40,233 39,234 38,229 37,233 36,243 35,235 34,245 33,251 32,236 31,237 30,252 29,248 28,246 27,249 26,257 25,250 24,252 23,248 22,259 21,262 20,258 19,258 18,266 17,262 16,278 15,273 14,268 13,275 12,288 11,275 10,260 9,284 8,283 7,294 6,290 5,278 4,265 3,265 2,266 1,286 0,309" fill="#a50f2d" fill-opacity="0.11"/><polygon transform="translate(1516.3,1822.8) scale(4.4100,0.5)" points="0,292 1,260 2,253 3,245 4,239 5,227 6,220 7,228 8,216 9,211 10,209 11,209 12,211 13,201 14,197 15,199 16,196 17,191 18,185 19,187 20,190 21,189 22,180 23,174 24,177 25,172 26,151 27,163 28,187 29,183 30,177 31,175 32,166 33,170 34,171 35,172 36,167 37,169 38,170 39,169 40,165 41,162 42,160 43,154 44,161 45,172 46,164 47,163 48,152 48,192 47,199 46,198 45,207 44,194 43,188 42,196 41,193 40,197 39,192 38,200 37,199 36,192 35,196 34,197 33,196 32,193 31,197 30,202 29,203 28,210 27,186 26,174 25,200 24,197 23,194 22,204 21,212 20,218 19,213 18,211 17,215 16,221 15,219 14,225 13,230 12,239 11,233 10,236 9,240 8,242 7,251 6,246 5,245 4,253 3,257 2,263 1,270 0,300" fill="#0a28ff" fill-opacity="0.1"/><g><path d="M1511.9,1830.3H1732.4" stroke="#222" stroke-width="2.7" stroke-dasharray="9.5,4.2" fill="none"/><path d="M1511.9,1859.7H1732.4" stroke="#23a50d" stroke-width="2.7" stroke-dasharray="9.5,4.2" fill="none"/><path d="M1511.9,1870.9H1732.4" stroke="#aaaaaa" stroke-width="2.7" stroke-dasharray="9.5,4.2" fill="none"/><polyline transform="translate(1516.3,1822.8) scale(4.4100,0.5)" points="0,299 1,281 2,272 3,269 4,254 5,254 6,248 7,238 8,251 9,241 10,243 11,235 12,238 13,223 14,211 15,220 16,223 17,226 18,211 19,214 20,211 21,208 22,213 23,211 24,202 25,199 26,196 27,188 28,180 29,201 30,193 31,172 32,181 33,189 34,184 35,192 36,178 37,176 38,174 39,172 40,187 41,181 42,175 43,163 44,165 45,165 46,178 47,171 48,189" stroke="#e6a500" stroke-width="2.7"/><polyline transform="translate(1516.3,1822.8) scale(4.4100,0.5)" points="0,306 1,281 2,261 3,258 4,257 5,269 6,281 7,285 8,272 9,273 10,245 11,263 12,272 13,261 14,258 15,258 16,263 17,251 18,255 19,246 20,241 21,250 22,246 23,232 24,240 25,237 26,245 27,235 28,230 29,231 30,238 31,225 32,222 33,235 34,226 35,223 36,224 37,220 38,214 39,223 40,219 41,235 42,219 43,219 44,232 45,241 46,225 47,220 48,235" stroke="#a50f2d" stroke-width="2.7"/><polyline transform="translate(1516.3,1822.8) scale(4.4100,0.5)" points="0,296 1,266 2,258 3,251 4,246 5,235 6,233 7,241 8,230 9,225 10,222 11,220 12,228 13,214 14,210 15,208 16,211 17,204 18,198 19,199 20,205 21,199 22,192 23,184 24,187 25,186 26,163 27,177 28,196 29,192 30,188 31,184 32,180 33,181 34,183 35,182 36,182 37,183 38,184 39,181 40,183 41,177 42,178 43,173 44,181 45,188 46,183 47,177 48,174" stroke="#0a28ff" stroke-width="2.7"/></g><rect x="1511.9" y="1822.8" width="220.5" height="161.3" fill="none" stroke="#111" stroke-width="1.4"/><path d="M1511.9,1984.1v6M1556.0,1984.1v6M1600.1,1984.1v6M1644.2,1984.1v6M1688.3,1984.1v6M1732.4,1984.1v6M1511.9,1927.0h-6M1511.9,1867.0h-6" stroke="#111" stroke-width="1.4" fill="none"/><g fill="#111"><text x="1511.9" y="2012.0" font-size="17.7" text-anchor="middle" textLength="11.0" lengthAdjust="spacingAndGlyphs">0</text><text x="1556.0" y="2012.0" font-size="17.7" text-anchor="middle" textLength="11.0" lengthAdjust="spacingAndGlyphs">1</text><text x="1600.1" y="2012.0" font-size="17.7" text-anchor="middle" textLength="11.0" lengthAdjust="spacingAndGlyphs">2</text><text x="1644.2" y="2012.0" font-size="17.7" text-anchor="middle" textLength="11.0" lengthAdjust="spacingAndGlyphs">3</text><text x="1688.3" y="2012.0" font-size="17.7" text-anchor="middle" textLength="11.0" lengthAdjust="spacingAndGlyphs">4</text><text x="1732.4" y="2012.0" font-size="17.7" text-anchor="middle" textLength="11.0" lengthAdjust="spacingAndGlyphs">5</text><text x="1498.5" y="1933.7" font-size="17.7" text-anchor="end" textLength="43.9" lengthAdjust="spacingAndGlyphs">2000</text><text x="1498.5" y="1873.7" font-size="17.7" text-anchor="end" textLength="43.9" lengthAdjust="spacingAndGlyphs">4000</text><text x="1622.2" y="1812.0" font-size="22.4" text-anchor="middle" textLength="123.6" lengthAdjust="spacingAndGlyphs">Ms Pacman</text><text x="1732.4" y="2033.4" font-size="17.7" text-anchor="end" textLength="32.6" lengthAdjust="spacingAndGlyphs">1e7</text></g><polygon transform="translate(1841.0,1822.8) scale(2.2151,0.5)" points="0,289 2,279 4,275 6,279 8,280 10,283 12,271 14,276 16,280 18,270 20,270 22,281 24,276 26,280 28,268 30,271 32,272 34,272 36,276 38,272 40,274 42,274 44,278 46,274 48,274 50,272 52,273 54,271 56,273 58,276 60,278 62,274 64,273 66,275 68,284 70,274 72,276 74,280 76,281 78,277 80,274 82,285 84,289 86,273 88,276 90,273 92,274 94,285 96,271 98,276 99,271 99,283 98,287 96,284 94,298 92,289 90,285 88,288 86,287 84,303 82,304 80,288 78,290 76,296 74,299 72,291 70,289 68,300 66,293 64,292 62,294 60,298 58,295 56,291 54,291 52,292 50,294 48,298 46,296 44,299 42,298 40,299 38,297 36,300 34,297 32,296 30,298 28,295 26,305 24,298 22,307 20,297 18,291 16,304 14,295 12,293 10,300 8,296 6,291 4,285 2,286 0,294" fill="#e6a500" fill-opacity="0.1"/><polygon transform="translate(1841.0,1822.8) scale(2.2151,0.5)" points="0,293 2,260 4,244 6,230 8,224 10,215 12,209 14,201 16,178 18,178 20,186 22,178 24,174 26,175 28,170 30,164 32,166 34,172 36,169 38,174 40,161 42,172 44,166 46,177 48,163 50,159 52,175 54,163 56,170 58,168 60,159 62,166 64,167 66,147 68,156 70,162 72,145 74,147 76,163 78,145 80,150 82,162 84,141 86,174 88,170 90,159 92,164 94,156 96,177 98,180 99,171 99,212 98,220 96,225 94,198 92,202 90,205 88,215 86,214 84,180 82,209 80,189 78,193 76,207 74,191 72,188 70,194 68,203 66,195 64,204 62,204 60,200 58,203 56,212 54,206 52,210 50,200 48,199 46,215 44,205 42,212 40,199 38,209 36,209 34,211 32,199 30,199 28,210 26,214 24,212 22,209 20,220 18,211 16,207 14,228 12,236 10,236 8,242 6,243 4,255 2,269 0,298" fill="#a50f2d" fill-opacity="0.11"/><polygon transform="translate(1841.0,1822.8) scale(2.2151,0.5)" points="0,293 2,251 4,233 6,209 8,202 10,194 12,180 14,185 16,178 18,169 20,170 22,156 24,138 26,151 28,130 30,145 32,112 34,115 36,106 38,97 40,101 42,94 44,88 46,90 48,84 50,83 52,90 54,78 56,75 58,86 60,73 62,73 64,77 66,69 68,65 70,58 72,65 74,50 76,52 78,64 80,54 82,58 84,47 86,50 88,49 90,53 92,42 94,55 96,61 98,50 99,54 99,107 98,100 96,99 94,96 92,83 90,96 88,86 86,89 84,90 82,102 80,102 78,112 76,94 74,95 72,109 70,100 68,113 66,111 64,117 62,115 60,109 58,127 56,120 54,118 52,133 50,126 48,124 46,133 44,131 42,138 40,138 38,144 36,153 34,153 32,154 30,182 28,166 26,190 24,177 22,193 20,207 18,208 16,208 14,218 12,211 10,220 8,222 6,226 4,247 2,260 0,299" fill="#0a28ff" fill-opacity="0.1"/><g><path d="M1839.9,1830.8H2060.3" stroke="#222" stroke-width="2.7" stroke-dasharray="9.5,4.2" fill="none"/><path d="M1839.9,1836.4H2060.3" stroke="#23a50d" stroke-width="2.7" stroke-dasharray="9.5,4.2" fill="none"/><polyline transform="translate(1841.0,1822.8) scale(2.2151,0.5)" points="0,292 1,293 2,283 3,275 4,281 5,280 6,285 7,279 8,289 9,285 10,290 11,290 12,281 13,282 14,286 15,287 16,290 17,284 18,282 19,291 20,283 21,284 22,292 23,288 24,288 25,291 26,295 27,288 28,281 29,291 30,287 31,285 32,284 33,290 34,286 35,290 36,290 37,287 38,286 39,282 40,288 41,289 42,286 43,291 44,288 45,289 46,287 47,285 48,287 49,281 50,281 51,289 52,282 53,286 54,281 55,281 56,281 57,286 58,286 59,291 60,290 61,283 62,285 63,282 64,282 65,275 66,283 67,285 68,292 69,286 70,282 71,281 72,284 73,293 74,288 75,282 76,289 77,286 78,284 79,285 80,281 81,285 82,295 83,294 84,297 85,280 86,281 87,288 88,281 89,282 90,279 91,280 92,282 93,276 94,291 95,285 96,279 97,275 98,281 99,276" stroke="#e6a500" stroke-width="2.7"/><polyline transform="translate(1841.0,1822.8) scale(2.2151,0.5)" points="0,295 1,278 2,265 3,258 4,250 5,243 6,237 7,226 8,232 9,217 10,224 11,217 12,224 13,215 14,216 15,208 16,192 17,197 18,198 19,208 20,200 21,189 22,193 23,191 24,193 25,197 26,194 27,194 28,187 29,196 30,182 31,191 32,183 33,185 34,191 35,187 36,188 37,193 38,195 39,184 40,184 41,179 42,192 43,188 44,184 45,188 46,192 47,183 48,179 49,187 50,177 51,176 52,191 53,181 54,185 55,192 56,190 57,188 58,186 59,186 60,182 61,188 62,184 63,185 64,183 65,179 66,172 67,172 68,181 69,179 70,178 71,176 72,164 73,157 74,170 75,184 76,188 77,177 78,169 79,173 80,171 81,176 82,185 83,178 84,163 85,185 86,191 87,194 88,188 89,196 90,180 91,181 92,185 93,170 94,173 95,183 96,198 97,191 98,198 99,195" stroke="#a50f2d" stroke-width="2.7"/><polyline transform="translate(1841.0,1822.8) scale(2.2151,0.5)" points="0,296 1,273 2,255 3,248 4,239 5,226 6,218 7,206 8,213 9,206 10,206 11,201 12,196 13,190 14,203 15,191 16,191 17,187 18,186 19,186 20,188 21,184 22,175 23,164 24,161 25,160 26,166 27,157 28,148 29,151 30,165 31,149 32,130 33,135 34,136 35,132 36,130 37,120 38,122 39,123 40,122 41,117 42,114 43,110 44,107 45,106 46,116 47,111 48,108 49,99 50,101 51,105 52,116 53,96 54,93 55,96 56,100 57,102 58,103 59,99 60,92 61,88 62,94 63,89 64,100 65,97 66,90 67,85 68,88 69,74 70,77 71,80 72,86 73,75 74,74 75,75 76,73 77,75 78,85 79,77 80,75 81,75 82,80 83,74 84,73 85,75 86,72 87,65 88,67 89,62 90,71 91,67 92,62 93,58 94,72 95,73 96,81 97,75 98,74 99,79" stroke="#0a28ff" stroke-width="2.7"/></g><rect x="1839.9" y="1822.8" width="220.4" height="161.3" fill="none" stroke="#111" stroke-width="1.4"/><path d="M1839.9,1984.1v6M1884.0,1984.1v6M1928.1,1984.1v6M1972.1,1984.1v6M2016.2,1984.1v6M2060.3,1984.1v6M1839.9,1977.0h-6M1839.9,1932.3h-6M1839.9,1887.7h-6M1839.9,1843.1h-6" stroke="#111" stroke-width="1.4" fill="none"/><g fill="#111"><text x="1839.9" y="2012.0" font-size="17.7" text-anchor="middle" textLength="27.4" lengthAdjust="spacingAndGlyphs">0.0</text><text x="1884.0" y="2012.0" font-size="17.7" text-anchor="middle" textLength="27.4" lengthAdjust="spacingAndGlyphs">0.2</text><text x="1928.1" y="2012.0" font-size="17.7" text-anchor="middle" textLength="27.4" lengthAdjust="spacingAndGlyphs">0.4</text><text x="1972.1" y="2012.0" font-size="17.7" text-anchor="middle" textLength="27.4" lengthAdjust="spacingAndGlyphs">0.6</text><text x="2016.2" y="2012.0" font-size="17.7" text-anchor="middle" textLength="27.4" lengthAdjust="spacingAndGlyphs">0.8</text><text x="2060.3" y="2012.0" font-size="17.7" text-anchor="middle" textLength="27.4" lengthAdjust="spacingAndGlyphs">1.0</text><text x="1826.5" y="1983.7" font-size="17.7" text-anchor="end" textLength="11.0" lengthAdjust="spacingAndGlyphs">0</text><text x="1826.5" y="1939.0" font-size="17.7" text-anchor="end" textLength="22.0" lengthAdjust="spacingAndGlyphs">20</text><text x="1826.5" y="1894.4" font-size="17.7" text-anchor="end" textLength="22.0" lengthAdjust="spacingAndGlyphs">40</text><text x="1826.5" y="1849.8" font-size="17.7" text-anchor="end" textLength="22.0" lengthAdjust="spacingAndGlyphs">60</text><text x="1950.1" y="1812.0" font-size="22.4" text-anchor="middle" textLength="103.5" lengthAdjust="spacingAndGlyphs">Robotank</text><text x="2060.3" y="2033.4" font-size="17.7" text-anchor="end" textLength="32.6" lengthAdjust="spacingAndGlyphs">1e8</text></g><path d="M1150.4,2075.3H1180.3" stroke="#0a28ff" stroke-width="2.7" fill="none"/><g fill="#111"><text x="1188.3" y="2082.1" font-size="18.5" text-anchor="start" textLength="108.1" lengthAdjust="spacingAndGlyphs">DreamerPro</text></g><path d="M1319.3,2075.3H1344.6" stroke="#23a50d" stroke-width="2.7" stroke-dasharray="9.5,4.2" fill="none"/><g fill="#111"><text x="1356.7" y="2082.1" font-size="18.5" text-anchor="start" textLength="79.4" lengthAdjust="spacingAndGlyphs">Dreamer</text></g><path d="M1458.3,2075.3H1488.1" stroke="#a50f2d" stroke-width="2.7" fill="none"/><g fill="#111"><text x="1495.7" y="2082.1" font-size="18.5" text-anchor="start" textLength="88.8" lengthAdjust="spacingAndGlyphs">Dreaming</text></g><path d="M1606.2,2075.3H1636.1" stroke="#e6a500" stroke-width="2.7" fill="none"/><g fill="#111"><text x="1644.9" y="2082.1" font-size="18.5" text-anchor="start" textLength="34.6" lengthAdjust="spacingAndGlyphs">TPC</text></g><path d="M1701,2075.3H1726.8" stroke="#222" stroke-width="2.7" stroke-dasharray="9.5,4.2" fill="none"/><g fill="#111"><text x="1738.1" y="2082.1" font-size="18.5" text-anchor="start" textLength="101.4" lengthAdjust="spacingAndGlyphs">IQN@200M</text></g><path d="M1863,2075.3H1888.3" stroke="#aaaaaa" stroke-width="2.7" stroke-dasharray="9.5,4.2" fill="none"/><g fill="#111"><text x="1899.5" y="2082.1" font-size="18.5" text-anchor="start" textLength="145.4" lengthAdjust="spacingAndGlyphs">Rainbow@200M</text></g></svg>
<svg style="left:0;top:0" width="3200" height="2161" viewBox="0 0 3200 2161"><polygon transform="translate(2239.6,1805.4) scale(2.4242,0.5)" points="0,334 2,318 4,320 6,306 8,298 10,296 12,287 14,296 16,290 18,292 20,290 22,286 24,281 26,284 28,280 30,283 32,281 34,278 36,269 38,273 40,267 42,263 44,267 46,258 48,263 50,257 52,261 54,253 56,260 58,243 60,245 62,224 64,224 66,215 68,225 70,217 72,202 74,199 76,192 78,194 80,183 82,169 84,162 86,191 88,162 90,149 92,122 94,132 96,123 98,137 99,149 99,185 98,181 96,165 94,177 92,165 90,190 88,205 86,228 84,199 82,211 80,221 78,231 76,233 74,230 72,245 70,248 68,263 66,245 64,254 62,260 60,280 58,274 56,293 54,287 52,287 50,288 48,296 46,288 44,290 42,289 40,289 38,296 36,291 34,303 32,301 30,305 28,299 26,304 24,302 22,303 20,308 18,309 16,305 14,307 12,304 10,307 8,310 6,318 4,331 2,327 0,343" fill="#d341e0" fill-opacity="0.1"/><polygon transform="translate(2239.6,1805.4) scale(2.4242,0.5)" points="0,318 2,310 4,299 6,301 8,294 10,290 12,285 14,288 16,286 18,282 20,275 22,271 24,261 26,254 28,261 30,264 32,264 34,256 36,255 38,241 40,250 42,254 44,242 46,225 48,223 50,221 52,214 54,204 56,213 58,210 60,205 62,190 64,191 66,174 68,182 70,170 72,168 74,164 76,156 78,144 80,140 82,140 84,130 86,101 88,101 90,123 92,96 94,93 96,87 98,89 99,77 99,126 98,150 96,139 94,152 92,145 90,179 88,156 86,165 84,174 82,196 80,187 78,192 76,215 74,216 72,229 70,226 68,224 66,230 64,241 62,249 60,260 58,263 56,262 54,253 52,269 50,269 48,271 46,262 44,289 42,302 40,284 38,284 36,292 34,293 32,298 30,295 28,286 26,284 24,290 22,297 20,297 18,304 16,304 14,311 12,304 10,305 8,308 6,315 4,310 2,322 0,326" fill="#8b5a0a" fill-opacity="0.1"/><polygon transform="translate(2239.6,1805.4) scale(2.4242,0.5)" points="0,315 2,307 4,295 6,291 8,295 10,292 12,288 14,292 16,284 18,281 20,284 22,280 24,275 26,269 28,274 30,272 32,262 34,253 36,255 38,240 40,226 42,228 44,218 46,207 48,198 50,186 52,190 54,180 56,176 58,152 60,139 62,141 64,148 66,116 68,111 70,111 72,108 74,97 76,92 78,86 80,63 82,50 84,62 86,61 88,31 90,52 92,29 94,15 96,24 98,20 99,20 99,74 98,82 96,85 94,84 92,100 90,109 88,107 86,129 84,122 82,114 80,136 78,147 76,155 74,157 72,163 70,164 68,165 66,170 64,193 62,193 60,186 58,202 56,211 54,214 52,221 50,226 48,235 46,240 44,255 42,261 40,258 38,265 36,278 34,282 32,287 30,295 28,300 26,293 24,294 22,300 20,302 18,303 16,302 14,309 12,305 10,307 8,308 6,304 4,306 2,318 0,326" fill="#0a28ff" fill-opacity="0.1"/><g><polyline transform="translate(2239.6,1805.4) scale(2.4242,0.5)" points="0,339 1,323 2,322 3,331 4,325 5,323 6,312 7,309 8,304 9,303 10,301 11,299 12,296 13,302 14,301 15,298 16,297 17,298 18,302 19,302 20,298 21,296 22,295 23,291 24,292 25,297 26,292 27,294 28,290 29,292 30,292 31,289 32,292 33,294 34,289 35,285 36,278 37,281 38,287 39,279 40,278 41,279 42,278 43,277 44,279 45,274 46,275 47,275 48,278 49,274 50,274 51,276 52,272 53,267 54,270 55,267 56,274 57,261 58,260 59,261 60,264 61,253 62,244 63,247 64,240 65,234 66,231 67,237 68,242 69,236 70,232 71,230 72,224 73,216 74,214 75,214 76,211 77,205 78,210 79,225 80,203 81,195 82,192 83,177 84,182 85,190 86,209 87,188 88,184 89,167 90,173 91,163 92,147 93,163 94,151 95,151 96,146 97,137 98,158 99,167" stroke="#d341e0" stroke-width="2.7"/><polyline transform="translate(2239.6,1805.4) scale(2.4242,0.5)" points="0,321 1,317 2,316 3,311 4,306 5,307 6,307 7,304 8,301 9,298 10,296 11,298 12,293 13,292 14,299 15,296 16,296 17,290 18,291 19,285 20,285 21,284 22,283 23,282 24,273 25,278 26,268 27,271 28,274 29,274 30,280 31,275 32,278 33,272 34,273 35,267 36,277 37,268 38,266 39,266 40,267 41,281 42,278 43,273 44,263 45,253 46,243 47,243 48,249 49,246 50,250 51,243 52,240 53,238 54,234 55,236 56,243 57,238 58,234 59,238 60,236 61,229 62,219 63,218 64,217 65,218 66,203 67,205 68,202 69,203 70,195 71,207 72,199 73,193 74,190 75,184 76,183 77,170 78,166 79,162 80,163 81,163 82,170 83,165 84,153 85,154 86,133 87,135 88,133 89,148 90,146 91,128 92,122 93,137 94,125 95,122 96,112 97,103 98,120 99,97" stroke="#8b5a0a" stroke-width="2.7"/><polyline transform="translate(2239.6,1805.4) scale(2.4242,0.5)" points="0,320 1,319 2,312 3,305 4,301 5,304 6,298 7,299 8,302 9,304 10,299 11,299 12,297 13,298 14,301 15,297 16,293 17,294 18,292 19,291 20,294 21,295 22,292 23,287 24,284 25,281 26,281 27,279 28,287 29,280 30,282 31,277 32,276 33,269 34,266 35,268 36,266 37,252 38,253 39,258 40,244 41,244 42,243 43,242 44,238 45,222 46,220 47,207 48,218 49,211 50,205 51,205 52,206 53,187 54,195 55,188 56,192 57,184 58,179 59,185 60,165 61,157 62,164 63,158 64,168 65,159 66,146 67,139 68,135 69,124 70,137 71,136 72,132 73,136 74,129 75,135 76,122 77,114 78,111 79,108 80,101 81,81 82,77 83,100 84,94 85,95 86,98 87,78 88,71 89,63 90,77 91,73 92,59 93,54 94,55 95,45 96,51 97,59 98,54 99,48" stroke="#0a28ff" stroke-width="2.7"/></g><rect x="2238.4" y="1805.4" width="241.2" height="178.9" fill="none" stroke="#111" stroke-width="1.4"/><path d="M2238.4,1984.3v6M2286.6,1984.3v6M2334.9,1984.3v6M2383.1,1984.3v6M2431.4,1984.3v6M2479.6,1984.3v6M2238.4,1942.4h-6M2238.4,1893.8h-6M2238.4,1845.1h-6" stroke="#111" stroke-width="1.4" fill="none"/><g fill="#111"><text x="2238.4" y="2012.2" font-size="17.7" text-anchor="middle" textLength="27.4" lengthAdjust="spacingAndGlyphs">0.0</text><text x="2286.6" y="2012.2" font-size="17.7" text-anchor="middle" textLength="27.4" lengthAdjust="spacingAndGlyphs">0.2</text><text x="2334.9" y="2012.2" font-size="17.7" text-anchor="middle" textLength="27.4" lengthAdjust="spacingAndGlyphs">0.4</text><text x="2383.1" y="2012.2" font-size="17.7" text-anchor="middle" textLength="27.4" lengthAdjust="spacingAndGlyphs">0.6</text><text x="2431.4" y="2012.2" font-size="17.7" text-anchor="middle" textLength="27.4" lengthAdjust="spacingAndGlyphs">0.8</text><text x="2479.6" y="2012.2" font-size="17.7" text-anchor="middle" textLength="27.4" lengthAdjust="spacingAndGlyphs">1.0</text><text x="2225.0" y="1949.1" font-size="17.7" text-anchor="end" textLength="32.9" lengthAdjust="spacingAndGlyphs">200</text><text x="2225.0" y="1900.5" font-size="17.7" text-anchor="end" textLength="32.9" lengthAdjust="spacingAndGlyphs">400</text><text x="2225.0" y="1851.8" font-size="17.7" text-anchor="end" textLength="32.9" lengthAdjust="spacingAndGlyphs">600</text><text x="2359.0" y="1794.6" font-size="22.4" text-anchor="middle" textLength="193.6" lengthAdjust="spacingAndGlyphs">Cartpole Swingup</text><text x="2479.6" y="2033.6" font-size="17.7" text-anchor="end" textLength="32.6" lengthAdjust="spacingAndGlyphs">1e6</text></g><polygon transform="translate(2563.7,1805.4) scale(2.4141,0.5)" points="0,338 2,333 4,328 6,316 8,311 10,296 12,286 14,278 16,280 18,278 20,253 22,250 24,247 26,221 28,232 30,217 32,208 34,204 36,191 38,204 40,192 42,183 44,159 46,174 48,136 50,131 52,119 54,133 56,143 58,116 60,111 62,123 64,106 66,106 68,120 70,106 72,105 74,88 76,94 78,114 80,102 82,82 84,82 86,95 88,76 90,65 92,70 94,44 96,72 98,85 99,53 99,238 98,283 96,261 94,244 92,246 90,272 88,279 86,257 84,263 82,271 80,273 78,292 76,284 74,270 72,282 70,286 68,273 66,286 64,280 62,286 60,298 58,297 56,312 54,296 52,280 50,294 48,274 46,289 44,317 42,318 40,319 38,318 36,296 34,316 32,316 30,327 28,333 26,326 24,320 22,316 20,322 18,331 16,327 14,324 12,333 10,331 8,335 6,340 4,344 2,344 0,342" fill="#d341e0" fill-opacity="0.09"/><polygon transform="translate(2563.7,1805.4) scale(2.4141,0.5)" points="0,337 2,331 4,317 6,289 8,268 10,247 12,231 14,208 16,189 18,166 20,165 22,158 24,137 26,145 28,144 30,121 32,82 34,93 36,107 38,95 40,92 42,72 44,74 46,64 48,72 50,87 52,66 54,82 56,45 58,70 60,49 62,28 64,56 66,67 68,31 70,42 72,59 74,25 76,60 78,42 80,29 82,41 84,58 86,23 88,39 90,56 92,27 94,11 96,21 98,30 99,17 99,152 98,176 96,164 94,151 92,180 90,185 88,181 86,180 84,197 82,185 80,187 78,209 76,206 74,214 72,207 70,197 68,193 66,200 64,204 62,215 60,236 58,241 56,248 54,245 52,228 50,271 48,245 46,283 44,290 42,263 40,265 38,279 36,283 34,289 32,289 30,291 28,297 26,284 24,282 22,268 20,290 18,299 16,293 14,307 12,326 10,314 8,333 6,334 4,344 2,348 0,342" fill="#8b5a0a" fill-opacity="0.09"/><polygon transform="translate(2563.7,1805.4) scale(2.4141,0.5)" points="0,338 2,336 4,331 6,323 8,306 10,301 12,291 14,281 16,270 18,257 20,244 22,228 24,206 26,204 28,188 30,169 32,173 34,153 36,149 38,144 40,135 42,106 44,109 46,105 48,96 50,107 52,92 54,76 56,77 58,52 60,56 62,44 64,59 66,47 68,36 70,52 72,33 74,54 76,51 78,35 80,34 82,33 84,32 86,36 88,19 90,24 92,28 94,14 96,16 98,16 99,14 99,121 98,110 96,132 94,134 92,128 90,127 88,123 86,133 84,139 82,132 80,126 78,141 76,151 74,137 72,159 70,151 68,149 66,155 64,162 62,159 60,156 58,172 56,178 54,180 52,189 50,211 48,215 46,191 44,198 42,203 40,210 38,216 36,234 34,229 32,251 30,250 28,255 26,265 24,271 22,282 20,295 18,300 16,306 14,315 12,322 10,325 8,328 6,340 4,345 2,344 0,341" fill="#0a28ff" fill-opacity="0.1"/><g><polyline transform="translate(2563.7,1805.4) scale(2.4141,0.5)" points="0,340 1,339 2,338 3,337 4,336 5,332 6,327 7,326 8,323 9,320 10,316 11,315 12,310 13,309 14,305 15,304 16,303 17,302 18,303 19,295 20,294 21,284 22,286 23,285 24,279 25,278 26,275 27,278 28,279 29,271 30,266 31,269 32,259 33,261 34,257 35,252 36,249 37,249 38,251 39,246 40,243 41,247 42,245 43,236 44,241 45,231 46,229 47,229 48,219 49,215 50,219 51,215 52,203 53,207 54,208 55,217 56,215 57,210 58,209 59,213 60,205 61,209 62,213 63,199 64,212 65,206 66,211 67,201 68,198 69,197 70,195 71,204 72,203 73,195 74,200 75,196 76,198 77,189 78,197 79,189 80,188 81,197 82,180 83,181 84,188 85,188 86,175 87,173 88,174 89,174 90,176 91,173 92,173 93,158 94,153 95,161 96,167 97,162 98,164 99,164" stroke="#d341e0" stroke-width="2.7"/><polyline transform="translate(2563.7,1805.4) scale(2.4141,0.5)" points="0,340 1,339 2,338 3,336 4,332 5,325 6,316 7,309 8,301 9,296 10,287 11,279 12,277 13,274 14,264 15,255 16,247 17,241 18,237 19,224 20,223 21,210 22,214 23,215 24,213 25,211 26,204 27,207 28,204 29,200 30,200 31,197 32,182 33,189 34,188 35,181 36,184 37,182 38,178 39,174 40,180 41,181 42,170 43,171 44,172 45,167 46,166 47,161 48,154 49,153 50,160 51,149 52,152 53,145 54,152 55,144 56,137 57,139 58,141 59,138 60,132 61,140 62,132 63,123 64,131 65,132 66,132 67,137 68,125 69,126 70,126 71,128 72,125 73,126 74,118 75,116 76,123 77,119 78,118 79,113 80,116 81,105 82,110 83,119 84,115 85,115 86,105 87,100 88,104 89,119 90,109 91,106 92,94 93,92 94,86 95,81 96,91 97,90 98,102 99,98" stroke="#8b5a0a" stroke-width="2.7"/><polyline transform="translate(2563.7,1805.4) scale(2.4141,0.5)" points="0,340 1,339 2,340 3,340 4,338 5,336 6,331 7,321 8,318 9,317 10,314 11,309 12,304 13,303 14,299 15,291 16,286 17,285 18,278 19,269 20,268 21,262 22,253 23,254 24,241 25,238 26,235 27,230 28,225 29,218 30,213 31,207 32,203 33,192 34,194 35,194 36,189 37,187 38,184 39,170 40,170 41,168 42,161 43,159 44,157 45,154 46,154 47,155 48,156 49,155 50,150 51,138 52,141 53,138 54,133 55,122 56,121 57,120 58,115 59,111 60,112 61,111 62,110 63,112 64,104 65,105 66,102 67,101 68,98 69,97 70,97 71,97 72,94 73,96 74,94 75,89 76,93 77,91 78,86 79,89 80,82 81,86 82,84 83,88 84,81 85,82 86,79 87,80 88,78 89,77 90,78 91,81 92,79 93,80 94,73 95,72 96,71 97,76 98,72 99,69" stroke="#0a28ff" stroke-width="2.7"/></g><rect x="2562.5" y="1805.4" width="240.2" height="178.9" fill="none" stroke="#111" stroke-width="1.4"/><path d="M2562.5,1984.3v6M2610.5,1984.3v6M2658.6,1984.3v6M2706.6,1984.3v6M2754.7,1984.3v6M2802.7,1984.3v6M2562.5,1975.3h-6M2562.5,1934.3h-6M2562.5,1893.4h-6M2562.5,1852.4h-6M2562.5,1811.5h-6" stroke="#111" stroke-width="1.4" fill="none"/><g fill="#111"><text x="2562.5" y="2012.2" font-size="17.7" text-anchor="middle" textLength="27.4" lengthAdjust="spacingAndGlyphs">0.0</text><text x="2610.5" y="2012.2" font-size="17.7" text-anchor="middle" textLength="27.4" lengthAdjust="spacingAndGlyphs">0.2</text><text x="2658.6" y="2012.2" font-size="17.7" text-anchor="middle" textLength="27.4" lengthAdjust="spacingAndGlyphs">0.4</text><text x="2706.6" y="2012.2" font-size="17.7" text-anchor="middle" textLength="27.4" lengthAdjust="spacingAndGlyphs">0.6</text><text x="2754.7" y="2012.2" font-size="17.7" text-anchor="middle" textLength="27.4" lengthAdjust="spacingAndGlyphs">0.8</text><text x="2802.7" y="2012.2" font-size="17.7" text-anchor="middle" textLength="27.4" lengthAdjust="spacingAndGlyphs">1.0</text><text x="2549.1" y="1982.0" font-size="17.7" text-anchor="end" textLength="11.0" lengthAdjust="spacingAndGlyphs">0</text><text x="2549.1" y="1941.0" font-size="17.7" text-anchor="end" textLength="32.9" lengthAdjust="spacingAndGlyphs">250</text><text x="2549.1" y="1900.1" font-size="17.7" text-anchor="end" textLength="32.9" lengthAdjust="spacingAndGlyphs">500</text><text x="2549.1" y="1859.1" font-size="17.7" text-anchor="end" textLength="32.9" lengthAdjust="spacingAndGlyphs">750</text><text x="2549.1" y="1818.2" font-size="17.7" text-anchor="end" textLength="43.9" lengthAdjust="spacingAndGlyphs">1000</text><text x="2682.6" y="1794.6" font-size="22.4" text-anchor="middle" textLength="122.1" lengthAdjust="spacingAndGlyphs">Finger Spin</text><text x="2802.7" y="2033.6" font-size="17.7" text-anchor="end" textLength="32.6" lengthAdjust="spacingAndGlyphs">1e6</text></g><polygon transform="translate(2887.6,1805.4) scale(2.4121,0.5)" points="0,338 2,329 4,323 6,314 8,306 10,301 12,293 14,287 16,277 18,275 20,268 22,264 24,257 26,257 28,257 30,256 32,254 34,254 36,251 38,246 40,246 42,241 44,237 46,241 48,236 50,227 52,232 54,222 56,220 58,211 60,214 62,214 64,216 66,214 68,206 70,212 72,203 74,204 76,203 78,201 80,193 82,201 84,196 86,183 88,167 90,168 92,180 94,183 96,177 98,175 99,179 99,195 98,192 96,194 94,199 92,195 90,182 88,180 86,194 84,210 82,216 80,205 78,213 76,218 74,218 72,214 70,222 68,219 66,225 64,225 62,223 60,224 58,220 56,231 54,232 52,242 50,236 48,245 46,249 44,245 42,250 40,253 38,253 36,259 34,261 32,261 30,261 28,263 26,264 24,264 22,269 20,273 18,280 16,283 14,292 12,298 10,306 8,310 6,317 4,326 2,333 0,341" fill="#d341e0" fill-opacity="0.1"/><polygon transform="translate(2887.6,1805.4) scale(2.4121,0.5)" points="0,337 2,322 4,310 6,301 8,287 10,276 12,274 14,263 16,260 18,257 20,249 22,250 24,244 26,234 28,237 30,231 32,230 34,229 36,216 38,218 40,214 42,209 44,202 46,199 48,196 50,192 52,188 54,183 56,177 58,174 60,175 62,161 64,159 66,153 68,153 70,148 72,150 74,154 76,140 78,139 80,135 82,128 84,124 86,117 88,120 90,113 92,99 94,110 96,92 98,78 99,88 99,136 98,136 96,150 94,154 92,149 90,162 88,160 86,160 84,168 82,172 80,175 78,176 76,180 74,191 72,191 70,191 68,198 66,189 64,193 62,197 60,209 58,213 56,214 54,213 52,218 50,215 48,223 46,227 44,226 42,230 40,237 38,240 36,238 34,250 32,245 30,250 28,253 26,250 24,261 22,265 20,262 18,268 16,269 14,272 12,284 10,283 8,295 6,306 4,314 2,326 0,340" fill="#8b5a0a" fill-opacity="0.1"/><polygon transform="translate(2887.6,1805.4) scale(2.4121,0.5)" points="0,336 2,321 4,305 6,292 8,280 10,264 12,256 14,247 16,229 18,220 20,208 22,205 24,190 26,181 28,176 30,157 32,157 34,137 36,121 38,115 40,108 42,105 44,105 46,90 48,87 50,79 52,79 54,68 56,62 58,51 60,42 62,50 64,60 66,53 68,45 70,51 72,44 74,29 76,31 78,34 80,20 82,41 84,35 86,34 88,36 90,23 92,22 94,16 96,21 98,32 99,29 99,95 98,93 96,81 94,78 92,88 90,83 88,95 86,95 84,88 82,98 80,94 78,99 76,97 74,107 72,104 70,119 68,112 66,123 64,118 62,122 60,122 58,126 56,125 54,138 52,135 50,140 48,142 46,148 44,163 42,158 40,152 38,165 36,168 34,187 32,199 30,205 28,210 26,213 24,229 22,239 20,238 18,243 16,256 14,270 12,274 10,283 8,297 6,302 4,315 2,326 0,340" fill="#0a28ff" fill-opacity="0.1"/><g><polyline transform="translate(2887.6,1805.4) scale(2.4121,0.5)" points="0,340 1,337 2,331 3,326 4,324 5,320 6,315 7,313 8,308 9,304 10,304 11,297 12,296 13,292 14,289 15,283 16,279 17,277 18,278 19,277 20,271 21,274 22,267 23,265 24,260 25,258 26,260 27,263 28,260 29,261 30,259 31,258 32,258 33,253 34,256 35,252 36,256 37,247 38,249 39,248 40,249 41,244 42,245 43,250 44,241 45,237 46,245 47,239 48,241 49,233 50,231 51,232 52,237 53,231 54,227 55,230 56,226 57,224 58,217 59,223 60,218 61,216 62,219 63,218 64,221 65,219 66,219 67,217 68,212 69,216 70,217 71,211 72,207 73,206 74,211 75,211 76,210 77,208 78,206 79,208 80,200 81,196 82,209 83,204 84,205 85,194 86,189 87,184 88,175 89,181 90,177 91,181 92,186 93,189 94,191 95,192 96,186 97,184 98,183 99,189" stroke="#d341e0" stroke-width="2.7"/><polyline transform="translate(2887.6,1805.4) scale(2.4121,0.5)" points="0,338 1,332 2,324 3,318 4,312 5,307 6,303 7,298 8,292 9,286 10,280 11,279 12,279 13,274 14,267 15,267 16,264 17,261 18,262 19,255 20,257 21,255 22,256 23,250 24,253 25,247 26,242 27,242 28,243 29,245 30,241 31,239 32,237 33,237 34,238 35,228 36,225 37,231 38,226 39,225 40,225 41,222 42,219 43,215 44,216 45,221 46,213 47,213 48,209 49,205 50,203 51,196 52,205 53,196 54,200 55,202 56,195 57,189 58,193 59,193 60,190 61,189 62,181 63,171 64,173 65,176 66,172 67,171 68,176 69,175 70,171 71,176 72,168 73,174 74,172 75,170 76,163 77,162 78,160 79,160 80,158 81,154 82,154 83,152 84,146 85,149 86,143 87,140 88,140 89,129 90,138 91,124 92,125 93,125 94,132 95,124 96,124 97,124 98,111 99,111" stroke="#8b5a0a" stroke-width="2.7"/><polyline transform="translate(2887.6,1805.4) scale(2.4121,0.5)" points="0,338 1,332 2,324 3,318 4,310 5,304 6,296 7,292 8,288 9,279 10,273 11,270 12,264 13,256 14,257 15,246 16,241 17,238 18,232 19,232 20,223 21,228 22,221 23,220 24,207 25,203 26,198 27,197 28,193 29,189 30,182 31,175 32,177 33,166 34,161 35,156 36,149 37,147 38,139 39,140 40,132 41,131 42,132 43,129 44,131 45,120 46,122 47,121 48,117 49,112 50,104 51,107 52,104 53,106 54,107 55,98 56,99 57,85 58,89 59,85 60,82 61,89 62,89 63,89 64,93 65,87 66,87 67,82 68,77 69,76 70,81 71,77 72,76 73,77 74,70 75,73 76,71 77,67 78,72 79,61 80,54 81,71 82,67 83,55 84,61 85,64 86,59 87,59 88,65 89,51 90,59 91,59 92,59 93,49 94,51 95,50 96,55 97,53 98,56 99,63" stroke="#0a28ff" stroke-width="2.7"/></g><rect x="2886.4" y="1805.4" width="240.0" height="178.9" fill="none" stroke="#111" stroke-width="1.4"/><path d="M2886.4,1984.3v6M2934.4,1984.3v6M2982.4,1984.3v6M3030.4,1984.3v6M3078.4,1984.3v6M3126.4,1984.3v6M2886.4,1982.8h-6M2886.4,1944.8h-6M2886.4,1906.8h-6M2886.4,1868.8h-6M2886.4,1830.8h-6" stroke="#111" stroke-width="1.4" fill="none"/><g fill="#111"><text x="2886.4" y="2012.2" font-size="17.7" text-anchor="middle" textLength="27.4" lengthAdjust="spacingAndGlyphs">0.0</text><text x="2934.4" y="2012.2" font-size="17.7" text-anchor="middle" textLength="27.4" lengthAdjust="spacingAndGlyphs">0.2</text><text x="2982.4" y="2012.2" font-size="17.7" text-anchor="middle" textLength="27.4" lengthAdjust="spacingAndGlyphs">0.4</text><text x="3030.4" y="2012.2" font-size="17.7" text-anchor="middle" textLength="27.4" lengthAdjust="spacingAndGlyphs">0.6</text><text x="3078.4" y="2012.2" font-size="17.7" text-anchor="middle" textLength="27.4" lengthAdjust="spacingAndGlyphs">0.8</text><text x="3126.4" y="2012.2" font-size="17.7" text-anchor="middle" textLength="27.4" lengthAdjust="spacingAndGlyphs">1.0</text><text x="2873.0" y="1989.5" font-size="17.7" text-anchor="end" textLength="11.0" lengthAdjust="spacingAndGlyphs">0</text><text x="2873.0" y="1951.5" font-size="17.7" text-anchor="end" textLength="32.9" lengthAdjust="spacingAndGlyphs">100</text><text x="2873.0" y="1913.5" font-size="17.7" text-anchor="end" textLength="32.9" lengthAdjust="spacingAndGlyphs">200</text><text x="2873.0" y="1875.5" font-size="17.7" text-anchor="end" textLength="32.9" lengthAdjust="spacingAndGlyphs">300</text><text x="2873.0" y="1837.5" font-size="17.7" text-anchor="end" textLength="32.9" lengthAdjust="spacingAndGlyphs">400</text><text x="3006.4" y="1794.6" font-size="22.4" text-anchor="middle" textLength="123.1" lengthAdjust="spacingAndGlyphs">Walker Run</text><text x="3126.4" y="2033.6" font-size="17.7" text-anchor="end" textLength="32.6" lengthAdjust="spacingAndGlyphs">1e6</text></g><path d="M2336.1,2074.8H2365.8" stroke="#0a28ff" stroke-width="2.7" fill="none"/><g fill="#111"><text x="2373.9" y="2081.6" font-size="18.5" text-anchor="start" textLength="108.1" lengthAdjust="spacingAndGlyphs">DreamerPro</text></g><path d="M2503.5,2074.8H2533.6" stroke="#d341e0" stroke-width="2.7" fill="none"/><g fill="#111"><text x="2541.3" y="2081.6" font-size="18.5" text-anchor="start" textLength="196.4" lengthAdjust="spacingAndGlyphs">DreamerPro-No-SwAV</text></g><path d="M2762.6,2074.8H2791.3" stroke="#8b5a0a" stroke-width="2.7" fill="none"/><g fill="#111"><text x="2799.0" y="2081.6" font-size="18.5" text-anchor="start" textLength="193.1" lengthAdjust="spacingAndGlyphs">DreamerPro-No-Temp</text></g></svg>
<div class="t" style="left:41.85px;top:1106.69px;font-size:43.00px;font-family:'Liberation Serif',serif;font-style:italic;transform:scaleX(0.8143);">p</div>
<div class="t" style="left:62.30px;top:1107.15px;font-size:44.00px;font-family:'Liberation Serif',serif;transform:scaleX(0.9291);">(</div>
<div class="t" style="left:74.70px;top:1106.69px;font-size:43.00px;font-family:'Liberation Serif',serif;font-style:italic;transform:scaleX(0.8554);">o</div>
<div class="t" style="left:92.54px;top:1124.88px;font-size:30.00px;font-family:'Liberation Serif',serif;transform:scaleX(1.1223);">1:</div>
<div class="t" style="left:115.85px;top:1124.88px;font-size:30.00px;font-family:'Liberation Serif',serif;font-style:italic;transform:scaleX(1.3520);">T</div>
<div class="abs" style="left:159px;top:1113px;width:2px;height:41px;background:#000"></div>
<div class="t" style="left:176.80px;top:1106.69px;font-size:43.00px;font-family:'Liberation Serif',serif;font-style:italic;transform:scaleX(0.9354);">a</div>
<div class="t" style="left:197.04px;top:1124.88px;font-size:30.00px;font-family:'Liberation Serif',serif;transform:scaleX(1.1223);">1:</div>
<div class="t" style="left:220.48px;top:1124.88px;font-size:30.00px;font-family:'Liberation Serif',serif;font-style:italic;transform:scaleX(1.2853);">T</div>
<div class="t" style="left:247.65px;top:1107.15px;font-size:44.00px;font-family:'Liberation Serif',serif;transform:scaleX(0.8849);">)</div>
<div class="abs" style="left:275.6px;top:1127.6px;width:27.6px;height:1.9px;background:#000"></div><div class="abs" style="left:275.6px;top:1138.2px;width:27.6px;height:1.9px;background:#000"></div>
<svg style="left:310px;top:1080px" width="110" height="120" viewBox="310 1080 110 120"><path d="M351.5,1094.5C350,1088 343.5,1088.5 342,1099L332.3,1166C330.5,1177.5 323.5,1178.8 321.5,1172.5" fill="none" stroke="#000" stroke-width="2.3"/><circle cx="350.7" cy="1094.6" r="2.7"/><circle cx="321.9" cy="1172" r="2.7"/><path d="M363.9,1105.3H411.5V1107.2C406.5,1107.6 405.3,1108.6 405.3,1112V1153.5C405.3,1157.2 406.5,1158.2 411.5,1158.6V1160.4H392.6V1158.6C397.6,1158.2 398.8,1157.2 398.8,1153.5V1108.4H376.6V1153.5C376.6,1157.2 377.8,1158.2 382.8,1158.6V1160.4H363.9V1158.6C368.9,1158.2 370.1,1157.2 370.1,1153.5V1112C370.1,1108.6 368.9,1107.6 363.9,1107.2Z"/></svg>
<div class="t" style="left:375.31px;top:1069.28px;font-size:30.00px;font-family:'Liberation Serif',serif;font-style:italic;transform:scaleX(1.2671);">T</div>
<div class="t" style="left:361.82px;top:1163.88px;font-size:30.00px;font-family:'Liberation Serif',serif;font-style:italic;transform:scaleX(1.1947);">t</div>
<div class="t" style="left:393.25px;top:1163.88px;font-size:30.00px;font-family:'Liberation Serif',serif;transform:scaleX(1.2309);">1</div>
<div class="abs" style="left:375.5px;top:1176.6px;width:17.5px;height:1.5px;background:#000"></div><div class="abs" style="left:375.5px;top:1183.4px;width:17.5px;height:1.5px;background:#000"></div>
<div class="t" style="left:421.41px;top:1106.69px;font-size:43.00px;font-family:'Liberation Serif',serif;font-style:italic;transform:scaleX(0.8363);">p</div>
<div class="t" style="left:443.69px;top:1107.15px;font-size:44.00px;font-family:'Liberation Serif',serif;transform:scaleX(0.8849);">(</div>
<div class="t" style="left:455.65px;top:1106.69px;font-size:43.00px;font-family:'Liberation Serif',serif;font-style:italic;transform:scaleX(0.8976);">o</div>
<div class="t" style="left:475.82px;top:1124.88px;font-size:30.00px;font-family:'Liberation Serif',serif;font-style:italic;transform:scaleX(1.0503);">t</div>
<div class="abs" style="left:505px;top:1113px;width:2px;height:41px;background:#000"></div>
<div class="t" style="left:522.12px;top:1106.69px;font-size:43.00px;font-family:'Liberation Serif',serif;font-style:italic;transform:scaleX(1.1069);">s</div>
<div class="t" style="left:541.61px;top:1126.38px;font-size:30.00px;font-family:'Liberation Serif',serif;transform:scaleX(1.4398);">≤</div>
<div class="t" style="left:564.94px;top:1124.88px;font-size:30.00px;font-family:'Liberation Serif',serif;font-style:italic;transform:scaleX(1.1816);">t</div>
<div class="t" style="left:580.37px;top:1106.69px;font-size:43.00px;font-family:'Liberation Serif',serif;transform:scaleX(0.8745);">,</div>
<div class="t" style="left:596.13px;top:1106.69px;font-size:43.00px;font-family:'Liberation Serif',serif;font-style:italic;transform:scaleX(0.9891);">a</div>
<div class="t" style="left:616.37px;top:1124.88px;font-size:30.00px;font-family:'Liberation Serif',serif;transform:scaleX(1.5616);">&lt;</div>
<div class="t" style="left:642.24px;top:1124.88px;font-size:30.00px;font-family:'Liberation Serif',serif;font-style:italic;transform:scaleX(1.1816);">t</div>
<div class="t" style="left:655.57px;top:1107.15px;font-size:44.00px;font-family:'Liberation Serif',serif;transform:scaleX(1.0087);">)</div>
<div class="t" style="left:679.82px;top:1106.69px;font-size:43.00px;font-family:'Liberation Serif',serif;font-style:italic;transform:scaleX(0.8408);">p</div>
<div class="t" style="left:700.81px;top:1107.15px;font-size:44.00px;font-family:'Liberation Serif',serif;transform:scaleX(0.8760);">(</div>
<div class="t" style="left:714.65px;top:1106.69px;font-size:43.00px;font-family:'Liberation Serif',serif;font-style:italic;transform:scaleX(1.0532);">s</div>
<div class="t" style="left:733.06px;top:1124.88px;font-size:30.00px;font-family:'Liberation Serif',serif;font-style:italic;transform:scaleX(1.0897);">t</div>
<div class="abs" style="left:760px;top:1113px;width:2px;height:41px;background:#000"></div>
<div class="t" style="left:779.43px;top:1106.69px;font-size:43.00px;font-family:'Liberation Serif',serif;font-style:italic;transform:scaleX(1.0867);">s</div>
<div class="t" style="left:797.61px;top:1124.88px;font-size:30.00px;font-family:'Liberation Serif',serif;transform:scaleX(1.5329);">&lt;</div>
<div class="t" style="left:822.78px;top:1124.88px;font-size:30.00px;font-family:'Liberation Serif',serif;font-style:italic;transform:scaleX(1.1553);">t</div>
<div class="t" style="left:837.37px;top:1106.69px;font-size:43.00px;font-family:'Liberation Serif',serif;transform:scaleX(0.8745);">,</div>
<div class="t" style="left:853.13px;top:1106.69px;font-size:43.00px;font-family:'Liberation Serif',serif;font-style:italic;transform:scaleX(0.9945);">a</div>
<div class="t" style="left:874.81px;top:1124.88px;font-size:30.00px;font-family:'Liberation Serif',serif;transform:scaleX(1.5329);">&lt;</div>
<div class="t" style="left:899.48px;top:1124.88px;font-size:30.00px;font-family:'Liberation Serif',serif;font-style:italic;transform:scaleX(1.1553);">t</div>
<div class="t" style="left:912.57px;top:1107.15px;font-size:44.00px;font-family:'Liberation Serif',serif;transform:scaleX(1.0087);">)</div>
<div class="t" style="left:940.70px;top:1106.69px;font-size:43.00px;font-family:'Liberation Serif',serif;transform:scaleX(1.0967);">d</div>
<div class="t" style="left:966.05px;top:1106.69px;font-size:43.00px;font-family:'Liberation Serif',serif;font-style:italic;transform:scaleX(1.0465);">s</div>
<div class="t" style="left:982.11px;top:1124.88px;font-size:30.00px;font-family:'Liberation Serif',serif;transform:scaleX(1.0949);">1:</div>
<div class="t" style="left:1004.94px;top:1124.88px;font-size:30.00px;font-family:'Liberation Serif',serif;font-style:italic;transform:scaleX(1.3035);">T</div>
<div class="abs" style="left:422.2px;top:1167.3px;width:240.5px;height:6.2px;background:#c00000"></div>
<div class="abs" style="left:679.2px;top:1167.3px;width:242.8px;height:6.2px;background:#00b050"></div>
<div class="t" style="left:444.04px;top:1182.82px;font-size:29.50px;color:#c00000;transform:scaleX(0.9918);-webkit-text-stroke:0.25px #c00000;">image decoder</div>
<div class="t" style="left:683.58px;top:1182.82px;font-size:29.50px;color:#00b050;transform:scaleX(1.0079);-webkit-text-stroke:0.25px #00b050;">forward dynamics</div>
<div class="t" style="left:337.07px;top:1268.22px;font-size:29.50px;color:#c00000;transform:scaleX(1.0081);-webkit-text-stroke:0.25px #c00000;">struggle with visual distractions</div>
<svg style="left:530px;top:1220px" width="24" height="44" viewBox="530 1220 24 44"><path d="M539.6,1222.7H544.6V1247H550.6L542.1,1262.2L533.6,1247H539.6Z" fill="#c00000"/></svg>
<svg style="left:0;top:1380px" width="1070" height="720" viewBox="0 1380 1070 720"><defs><marker id="ah" markerWidth="12" markerHeight="8" refX="11" refY="4" orient="auto" markerUnits="userSpaceOnUse"><path d="M0,0.3L11.5,4L0,7.7L1.3,4Z" fill="#000"/></marker><marker id="ac" markerWidth="12" markerHeight="8" refX="11" refY="4" orient="auto" markerUnits="userSpaceOnUse"><path d="M0,0.3L11.5,4L0,7.7L1.3,4Z" fill="#1aaeea"/></marker></defs><path d="M222.4,1514.9L331,1514.9" fill="none" stroke="#000" stroke-width="1.5" marker-end="url(#ah)"/><path d="M405.6,1514.9L446.3,1514.9" fill="none" stroke="#000" stroke-width="1.5" marker-end="url(#ah)"/><path d="M471.6,1514.9L771,1514.9" fill="none" stroke="#000" stroke-width="1.5" marker-end="url(#ah)"/><path d="M844.8,1514.9L972.8,1514.9L972.8,1560" fill="none" stroke="#000" stroke-width="1.5" marker-end="url(#ah)"/><path d="M185.1,1624L185.1,1552.3" fill="none" stroke="#000" stroke-width="1.5" marker-end="url(#ah)"/><path d="M222.4,1660.8L331,1660.8" fill="none" stroke="#000" stroke-width="1.5" marker-end="url(#ah)"/><path d="M405.6,1660.8L520,1660.8" fill="none" stroke="#000" stroke-width="1.5" marker-end="url(#ah)"/><path d="M545.3,1660.8L771,1660.8" fill="none" stroke="#000" stroke-width="1.5" marker-end="url(#ah)"/><path d="M844.8,1660.8L972.8,1660.8" fill="none" stroke="#000" stroke-width="1.5"/><path d="M972.8,1660.8L972.8,1616" fill="none" stroke="#000" stroke-width="1.5" marker-end="url(#ah)"/><path d="M972.8,1660.8L972.8,1706.3" fill="none" stroke="#000" stroke-width="1.5" marker-end="url(#ah)"/><path d="M222.4,1807.7L331,1807.7" fill="none" stroke="#000" stroke-width="1.5" marker-end="url(#ah)"/><path d="M405.6,1807.7L593.7,1807.7" fill="none" stroke="#000" stroke-width="1.5" marker-end="url(#ah)"/><path d="M619,1807.7L771,1807.7" fill="none" stroke="#000" stroke-width="1.5" marker-end="url(#ah)"/><path d="M844.8,1807.7L972.8,1807.7L972.8,1762.4" fill="none" stroke="#000" stroke-width="1.5" marker-end="url(#ah)"/><path d="M276.7,1733.6L276.7,1681" fill="none" stroke="#000" stroke-width="1.5" marker-end="url(#ah)"/><path d="M405.2,1963.8L606.4,1963.8L606.4,1821.5" fill="none" stroke="#1aaeea" stroke-width="1.7" marker-end="url(#ac)"/><path d="M459,1963.8L459,1529" fill="none" stroke="#1aaeea" stroke-width="1.7" marker-end="url(#ac)"/><path d="M532.7,1963.8L532.7,1675" fill="none" stroke="#1aaeea" stroke-width="1.7" marker-end="url(#ac)"/><path d="M869,1675L880.5,1648M881.5,1675L893,1648" stroke="#000" stroke-width="2.6" fill="none"/><path d="M773,1981L784.5,1953M785.5,1981L797,1953" stroke="#000" stroke-width="3" fill="none"/><rect x="148.3" y="1477.6" width="73.7" height="74" rx="9" fill="#c1ecd4" stroke="#000" stroke-width="1.6"/><rect x="331.5" y="1477.6" width="73.7" height="74" rx="9" fill="#c1ecd4" stroke="#000" stroke-width="1.6"/><rect x="771.6" y="1477.6" width="73.7" height="74" rx="9" fill="#c1ecd4" stroke="#000" stroke-width="1.6"/><rect x="331.5" y="1624" width="73.7" height="74" rx="9" fill="#ffc0c1" stroke="#000" stroke-width="1.6"/><rect x="771.6" y="1624" width="73.7" height="74" rx="9" fill="#ffc0c1" stroke="#000" stroke-width="1.6"/><rect x="331.5" y="1770.6" width="73.7" height="74" rx="9" fill="#c1ecd4" stroke="#000" stroke-width="1.6"/><rect x="771.6" y="1770.6" width="73.7" height="74" rx="9" fill="#c1ecd4" stroke="#000" stroke-width="1.6"/><rect x="917.8" y="1560.5" width="110" height="54.8" rx="7" fill="#e6e6e6" stroke="#000" stroke-width="1.6"/><rect x="917.8" y="1706.9" width="110" height="54.8" rx="7" fill="#e6e6e6" stroke="#000" stroke-width="1.6"/><circle cx="459" cy="1515.8000000000002" r="12.3" fill="#fff" stroke="#000" stroke-width="1.4"/><circle cx="459" cy="1515.8000000000002" r="2.6"/><circle cx="532.7" cy="1661.8" r="12.3" fill="#fff" stroke="#000" stroke-width="1.4"/><circle cx="532.7" cy="1661.8" r="2.6"/><circle cx="606.4" cy="1808.2" r="12.3" fill="#fff" stroke="#000" stroke-width="1.4"/><circle cx="606.4" cy="1808.2" r="2.6"/><rect x="257.8" y="1918.7" width="147.4" height="90.7" rx="10" fill="#fff" stroke="#1aaeea" stroke-width="1.7"/><rect x="268" y="1927.9" width="35.9" height="72.3" rx="4.5" fill="#c5eafb" stroke="#000" stroke-width="1.6"/><rect x="359.6" y="1927.9" width="35.4" height="72.3" rx="4.5" fill="#c5eafb" stroke="#000" stroke-width="1.6"/><circle cx="317.5" cy="1965.3" r="2.2"/><circle cx="331.5" cy="1965.3" r="2.2"/><circle cx="345.5" cy="1965.3" r="2.2"/></svg>
<div class="t" style="left:274.09px;top:1427.10px;font-size:40.00px;font-family:'Liberation Serif',serif;transform:scaleX(1.0497);">Projections</div>
<div class="t" style="left:702.30px;top:1427.10px;font-size:40.00px;font-family:'Liberation Serif',serif;transform:scaleX(1.0395);">Probabilities</div>
<div class="t" style="left:41.59px;top:1486.08px;font-size:30.00px;font-family:'Liberation Serif',serif;transform:scaleX(1.0535);">RSSM</div>
<div class="t" style="left:47.09px;top:1512.78px;font-size:30.00px;font-family:'Liberation Serif',serif;transform:scaleX(1.2031);">State</div>
<div class="t" style="left:637.80px;top:1474.58px;font-size:30.00px;font-family:'Liberation Serif',serif;transform:scaleX(1.0978);">Softmax</div>
<div class="t" style="left:637.80px;top:1767.18px;font-size:30.00px;font-family:'Liberation Serif',serif;transform:scaleX(1.0978);">Softmax</div>
<div class="t" style="left:548.00px;top:1591.98px;font-size:30.00px;font-family:'Liberation Serif',serif;transform:scaleX(1.0973);">Sinkhorn-Knopp</div>
<div class="t" style="left:577.74px;top:1621.88px;font-size:30.00px;font-family:'Liberation Serif',serif;transform:scaleX(1.1096);">(over batch)</div>
<div class="t" style="left:37.06px;top:1642.68px;font-size:30.00px;font-family:'Liberation Serif',serif;transform:scaleX(1.0783);">aug(</div>
<div class="t" style="left:94.09px;top:1642.68px;font-size:30.00px;font-family:'Liberation Serif',serif;font-style:italic;transform:scaleX(1.0217);">o</div>
<div class="t" style="left:108.99px;top:1655.21px;font-size:21.00px;font-family:'Liberation Serif',serif;font-style:italic;transform:scaleX(1.3128);">t</div>
<div class="t" style="left:119.81px;top:1642.68px;font-size:30.00px;font-family:'Liberation Serif',serif;transform:scaleX(1.2329);">)</div>
<div class="t" style="left:37.06px;top:1789.08px;font-size:30.00px;font-family:'Liberation Serif',serif;transform:scaleX(1.0783);">aug(</div>
<div class="t" style="left:94.09px;top:1789.08px;font-size:30.00px;font-family:'Liberation Serif',serif;font-style:italic;transform:scaleX(1.0217);">o</div>
<div class="t" style="left:108.99px;top:1801.61px;font-size:21.00px;font-family:'Liberation Serif',serif;font-style:italic;transform:scaleX(1.3128);">t</div>
<div class="t" style="left:119.81px;top:1789.08px;font-size:30.00px;font-family:'Liberation Serif',serif;transform:scaleX(1.2329);">)</div>
<div class="t" style="left:284.81px;top:1707.30px;font-size:21.50px;font-family:'Liberation Serif',serif;transform:scaleX(1.1064);">EMA</div>
<div class="t" style="left:101.21px;top:1945.58px;font-size:30.00px;font-family:'Liberation Serif',serif;transform:scaleX(1.1402);">Prototypes</div>
<div class="t" style="left:806.74px;top:1946.48px;font-size:30.00px;font-family:'Liberation Serif',serif;transform:scaleX(1.1324);">- Stop Gradient</div>
<div class="t" style="left:257.82px;top:1601.40px;font-size:45.50px;font-family:'Liberation Serif',serif;font-style:italic;transform:scaleX(1.3354);">f</div>
<div class="t" style="left:279.83px;top:1626.15px;font-size:28.00px;font-family:'Liberation Serif',serif;font-style:italic;transform:scaleX(1.2190);">θ</div>
<div class="abs" style="left:284.2px;top:1623.4px;width:12.4px;height:1.5px;background:#000"></div>
<div class="t" style="left:257.82px;top:1748.20px;font-size:45.50px;font-family:'Liberation Serif',serif;font-style:italic;transform:scaleX(1.3354);">f</div>
<div class="t" style="left:279.83px;top:1772.95px;font-size:28.00px;font-family:'Liberation Serif',serif;font-style:italic;transform:scaleX(1.2190);">θ</div>
<div class="t" style="left:164.75px;top:1471.04px;font-size:63.00px;font-family:'Liberation Serif',serif;font-style:italic;transform:scaleX(1.0535);">z</div>
<div class="t" style="left:191.19px;top:1494.42px;font-size:45.00px;font-family:'Liberation Serif',serif;font-style:italic;transform:scaleX(1.1000);">t</div>
<div class="t" style="left:344.85px;top:1471.04px;font-size:63.00px;font-family:'Liberation Serif',serif;font-style:italic;transform:scaleX(1.1000);">x</div>
<div class="t" style="left:377.19px;top:1494.42px;font-size:45.00px;font-family:'Liberation Serif',serif;font-style:italic;transform:scaleX(1.1000);">t</div>
<div class="t" style="left:782.15px;top:1471.04px;font-size:63.00px;font-family:'Liberation Serif',serif;font-style:italic;transform:scaleX(1.1000);">u</div>
<div class="t" style="left:817.94px;top:1494.42px;font-size:45.00px;font-family:'Liberation Serif',serif;font-style:italic;transform:scaleX(1.1000);">t</div>
<div class="t" style="left:351.43px;top:1621.04px;font-size:63.00px;font-family:'Liberation Serif',serif;font-style:italic;transform:scaleX(0.8240);">y</div>
<div class="t" style="left:375.59px;top:1644.42px;font-size:45.00px;font-family:'Liberation Serif',serif;font-style:italic;transform:scaleX(1.1000);">t</div>
<div class="t" style="left:778.76px;top:1621.04px;font-size:63.00px;font-family:'Liberation Serif',serif;font-style:italic;transform:scaleX(1.0911);">w</div>
<div class="t" style="left:822.94px;top:1644.42px;font-size:45.00px;font-family:'Liberation Serif',serif;font-style:italic;transform:scaleX(1.1000);">t</div>
<div class="abs" style="left:352.1px;top:1638.6px;width:23.2px;height:1.8px;background:#000"></div>
<div class="t" style="left:351.43px;top:1767.84px;font-size:63.00px;font-family:'Liberation Serif',serif;font-style:italic;transform:scaleX(0.8240);">y</div>
<div class="t" style="left:375.59px;top:1791.22px;font-size:45.00px;font-family:'Liberation Serif',serif;font-style:italic;transform:scaleX(1.1000);">t</div>
<div class="t" style="left:787.28px;top:1767.84px;font-size:63.00px;font-family:'Liberation Serif',serif;font-style:italic;transform:scaleX(1.0701);">v</div>
<div class="t" style="left:816.14px;top:1791.22px;font-size:45.00px;font-family:'Liberation Serif',serif;font-style:italic;transform:scaleX(1.1000);">t</div>
<div class="t" style="left:933.42px;top:1567.69px;font-size:35.00px;font-family:'Liberation Serif',serif;font-style:italic;transform:scaleX(1.0994);">J</div>
<div class="t" style="left:956.29px;top:1563.91px;font-size:21.00px;font-family:'Liberation Serif',serif;font-style:italic;transform:scaleX(1.3128);">t</div>
<div class="t" style="left:955.05px;top:1585.24px;font-size:23.00px;font-family:'Liberation Serif',serif;transform:scaleX(1.0842);">Temp</div>
<div class="t" style="left:933.42px;top:1713.69px;font-size:35.00px;font-family:'Liberation Serif',serif;font-style:italic;transform:scaleX(1.0994);">J</div>
<div class="t" style="left:956.29px;top:1709.91px;font-size:21.00px;font-family:'Liberation Serif',serif;font-style:italic;transform:scaleX(1.3128);">t</div>
<div class="t" style="left:953.90px;top:1731.24px;font-size:23.00px;font-family:'Liberation Serif',serif;transform:scaleX(1.0370);">SwAV</div>
<div class="t" style="left:275.89px;top:1951.91px;font-size:21.00px;font-family:'Liberation Serif',serif;font-style:italic;transform:scaleX(0.9468);">c</div>
<div class="t" style="left:284.38px;top:1960.78px;font-size:14.00px;font-family:'Liberation Serif',serif;transform:scaleX(1.1565);">1</div>
<div class="t" style="left:364.19px;top:1951.91px;font-size:21.00px;font-family:'Liberation Serif',serif;font-style:italic;transform:scaleX(0.9468);">c</div>
<div class="t" style="left:374.23px;top:1960.78px;font-size:14.00px;font-family:'Liberation Serif',serif;font-style:italic;transform:scaleX(1.4153);">K</div>
<svg width="0" height="0" style="left:0;top:0"><defs><filter id="bl1" x="-20%" y="-20%" width="140%" height="140%"><feGaussianBlur stdDeviation="1.2"/></filter><filter id="bl2" x="-20%" y="-20%" width="140%" height="140%"><feGaussianBlur stdDeviation="2.5"/></filter><filter id="bl3" x="-30%" y="-30%" width="160%" height="160%"><feGaussianBlur stdDeviation="5"/></filter><filter id="bl0" x="-20%" y="-20%" width="140%" height="140%"><feGaussianBlur stdDeviation="0.6"/></filter></defs></svg>
<svg style="left:1105.2px;top:394.9px;overflow:hidden" width="160.6" height="160.8" viewBox="0 0 100 100" preserveAspectRatio="none"><defs><linearGradient id="g1" x1="0" y1="0" x2="0" y2="1"><stop offset="0" stop-color="#3f6890"/><stop offset="0.45" stop-color="#35597f"/><stop offset="1" stop-color="#2b4a6d"/></linearGradient><linearGradient id="g2" x1="0" y1="0" x2="0" y2="1"><stop offset="0" stop-color="#10253a"/><stop offset="0.2" stop-color="#1a3a5c"/><stop offset="1" stop-color="#274d77"/></linearGradient></defs><rect x="0" y="0" width="100" height="100" fill="url(#g1)"/><rect x="0" y="66" width="100" height="34" fill="url(#g2)"/><path d="M0,100L14,78H36L28,100ZM58,100L54,78H76L90,100ZM36,78L40,70H54V78ZM76,78L70,70H88L100,78Z" fill="#3a6592" opacity="0.45"/><rect x="0" y="48.6" width="100" height="2.6" fill="#4277b3"/><rect x="31.6" y="47" width="13.5" height="6.3" fill="#e6a35c"/><polyline points="41,47.5 59.5,26.8" fill="none" stroke="#e6a35c" stroke-width="2.4" stroke-linecap="round" stroke-linejoin="round" style="vector-effect:none"/><path d="M28.5,81.8H64" stroke="#0b1420" stroke-width="1.6"/></svg>
<svg style="left:1270.6px;top:394.9px;overflow:hidden" width="160.6" height="160.8" viewBox="0 0 100 100" preserveAspectRatio="none"><defs><linearGradient id="g3" x1="0" y1="0" x2="0" y2="1"><stop offset="0" stop-color="#3f688f"/><stop offset="0.5" stop-color="#345a80"/><stop offset="1" stop-color="#27476a"/></linearGradient><linearGradient id="g4" x1="0" y1="0" x2="0" y2="1"><stop offset="0" stop-color="#0f2338"/><stop offset="0.25" stop-color="#1a3553"/><stop offset="1" stop-color="#213f60"/></linearGradient></defs><rect x="0" y="0" width="100" height="100" fill="url(#g3)"/><rect x="0" y="69" width="100" height="31" fill="url(#g4)"/><path d="M20.7,74.3H93" stroke="#0a1420" stroke-width="1.2"/><polyline points="28.9,49.1 68.4,50" fill="none" stroke="#e6a35c" stroke-width="3.4" stroke-linecap="butt" stroke-linejoin="round" style="vector-effect:none"/><polyline points="68.4,50 80,42.3" fill="none" stroke="#e6a35c" stroke-width="3.6" stroke-linecap="round" stroke-linejoin="round" style="vector-effect:none"/><polyline points="28.9,49.1 38.4,59.3 24.1,64.8 27.5,73.7" fill="none" stroke="#e6a35c" stroke-width="3" stroke-linecap="round" stroke-linejoin="round" style="vector-effect:none"/><polyline points="68.4,50 63.6,60 73.8,73.7" fill="none" stroke="#e6a35c" stroke-width="3" stroke-linecap="round" stroke-linejoin="round" style="vector-effect:none"/><polyline points="26,76 24.5,82" fill="none" stroke="#8aa0b8" stroke-width="2.2" stroke-linecap="round" stroke-linejoin="round" style="vector-effect:none" opacity="0.45"/><polyline points="73,76 69,82" fill="none" stroke="#8aa0b8" stroke-width="2.2" stroke-linecap="round" stroke-linejoin="round" style="vector-effect:none" opacity="0.45"/></svg>
<svg style="left:1436.6px;top:394.9px;overflow:hidden" width="160.6" height="160.8" viewBox="0 0 100 100" preserveAspectRatio="none"><defs><linearGradient id="g5" x1="0" y1="0" x2="0" y2="1"><stop offset="0" stop-color="#25405c"/><stop offset="1" stop-color="#1b2f47"/></linearGradient></defs><rect x="0" y="0" width="100" height="100" fill="url(#g5)"/><rect x="0" y="65.5" width="50" height="9.5" fill="#264f7b"/><rect x="50" y="65.5" width="50" height="9.5" fill="#4a74a4"/><rect x="0" y="75" width="50" height="15.7" fill="#4b719d"/><rect x="50" y="75" width="50" height="15.7" fill="#29527f"/><rect x="0" y="90.7" width="100" height="9.3" fill="#141f33"/><path d="M34.8,11V19Q34.8,24.5 41.5,24.5Q48.2,24.5 48.2,19V11" fill="none" stroke="#d99a52" stroke-width="2" stroke-linecap="round"/><path d="M42.1,25.5L54.2,55" stroke="#9aa3ab" stroke-width="0.9" stroke-dasharray="1.2,1.2"/><circle cx="54.7" cy="57.3" r="2.9" fill="#ea8c2e"/><path d="M38,76.1H55.8" stroke="#1a2c44" stroke-width="1.2"/></svg>
<svg style="left:1602.8px;top:394.9px;overflow:hidden" width="160.6" height="160.8" viewBox="0 0 100 100" preserveAspectRatio="none"><defs><linearGradient id="g6" x1="0" y1="0" x2="0" y2="1"><stop offset="0" stop-color="#294563"/><stop offset="1" stop-color="#1b2e46"/></linearGradient></defs><rect x="0" y="0" width="100" height="100" fill="url(#g6)"/><rect x="0" y="65.5" width="50" height="9.5" fill="#2c5785"/><rect x="50" y="65.5" width="50" height="9.5" fill="#456f9f"/><rect x="0" y="75" width="50" height="15.7" fill="#4b719d"/><rect x="50" y="75" width="50" height="15.7" fill="#244b77"/><rect x="0" y="90.7" width="100" height="9.3" fill="#121c2e"/><polyline points="27.5,40 45.7,33.4 56.6,17" fill="none" stroke="#e6a35c" stroke-width="6.2" stroke-linecap="round" stroke-linejoin="round" style="vector-effect:none"/><circle cx="26.4" cy="40.4" r="4.1" fill="#4a8fd8"/><polyline points="55.5,18.6 56.8,16.6" fill="none" stroke="#e07c22" stroke-width="6" stroke-linecap="round" stroke-linejoin="round" style="vector-effect:none"/><g transform="rotate(32 72.3 39.6)"><rect x="58.8" y="31.8" width="27" height="15.6" rx="5.5" fill="#e6a35c"/><path d="M60,36.8H85M60,42.3H85" stroke="#c98a45" stroke-width="0.8"/></g><circle cx="73.3" cy="41.9" r="2.1" fill="#4a8fd8"/><path d="M27,75.8H55M58,75.8H80" stroke="#1a2d47" stroke-width="3.6"/></svg>
<svg style="left:1768.8px;top:394.9px;overflow:hidden" width="160.6" height="160.8" viewBox="0 0 100 100" preserveAspectRatio="none"><defs><radialGradient id="g7" cx="0.75" cy="0.35" r="0.5"><stop offset="0" stop-color="#5b8abb"/><stop offset="1" stop-color="#456f9f"/></radialGradient><radialGradient id="g8" cx="0.3" cy="0.7" r="0.5"><stop offset="0" stop-color="#5a88b8"/><stop offset="1" stop-color="#446d9c"/></radialGradient><radialGradient id="g9" cx="0.45" cy="0.4" r="0.6"><stop offset="0" stop-color="#f39a9c"/><stop offset="0.6" stop-color="#e8646c"/><stop offset="1" stop-color="#d9545e"/></radialGradient></defs><rect x="0" y="0" width="100" height="100" fill="#3b6795"/><rect x="1.6" y="1.6" width="48.4" height="48.4" fill="#23476e"/><rect x="50" y="1.6" width="48.4" height="48.4" fill="url(#g7)"/><rect x="1.6" y="50" width="48.4" height="48.4" fill="url(#g8)"/><rect x="50" y="50" width="48.4" height="48.4" fill="#234a73"/><rect x="0.6" y="0.6" width="98.8" height="98.8" fill="none" stroke="#1d3d63" stroke-width="1.2"/><circle cx="27.4" cy="40.7" r="7.9" fill="url(#g9)"/><polyline points="26.8,73.6 46.1,68.6 50.2,50.6" fill="none" stroke="#f2c455" stroke-width="2.3" stroke-linecap="butt" stroke-linejoin="round" style="vector-effect:none"/><rect x="49" y="48.8" width="2.6" height="2.6" fill="#b8ecf5"/><rect x="25.4" y="72.3" width="1.8" height="2.6" fill="#d8342c"/></svg>
<svg style="left:1935.1px;top:394.9px;overflow:hidden" width="160.6" height="160.8" viewBox="0 0 100 100" preserveAspectRatio="none"><defs><linearGradient id="g10" x1="0" y1="0" x2="0" y2="1"><stop offset="0" stop-color="#294563"/><stop offset="1" stop-color="#1c3049"/></linearGradient><linearGradient id="g11" x1="0" y1="0" x2="0" y2="1"><stop offset="0" stop-color="#1f456f"/><stop offset="0.3" stop-color="#2a5685"/><stop offset="1" stop-color="#2f5f92"/></linearGradient></defs><rect x="0" y="0" width="100" height="100" fill="url(#g10)"/><rect x="0" y="59.3" width="100" height="40.7" fill="url(#g11)"/><path d="M0,72L12,62H34L22,100H0ZM62,62H84L100,74V100H78Z" fill="#3f70a3" opacity="0.35"/><path d="M15,80H48L50,84H80" stroke="#13243c" stroke-width="2.6" fill="none"/><path d="M18,88Q30,96 45,93M50,97L60,90" stroke="#9fb4c8" stroke-width="1" fill="none" opacity="0.45"/><polyline points="56.7,15 50.5,51.2" fill="none" stroke="#e6a35c" stroke-width="7.6" stroke-linecap="round" stroke-linejoin="round" style="vector-effect:none"/><polyline points="50.5,51.2 41,64.8 20.5,69.6 17.1,77.1" fill="none" stroke="#e6a35c" stroke-width="4.6" stroke-linecap="round" stroke-linejoin="round" style="vector-effect:none"/><polyline points="50.5,51.2 75.1,57.3 60.1,69.6 53.3,69.6 61.5,74.4" fill="none" stroke="#e6a35c" stroke-width="4.6" stroke-linecap="round" stroke-linejoin="round" style="vector-effect:none"/></svg>
<svg style="left:2170.6px;top:395.0px;overflow:hidden" width="161.2" height="160.6" viewBox="0 0 100 100" preserveAspectRatio="none"><defs><linearGradient id="g12" x1="0" y1="0" x2="0" y2="1"><stop offset="0" stop-color="#5d625f"/><stop offset="0.5" stop-color="#6f7370"/><stop offset="1" stop-color="#7b7d7a"/></linearGradient></defs><rect x="0" y="0" width="100" height="100" fill="url(#g12)"/><g filter="url(#bl1)"><path d="M3,0H17L8,12L3,10Z" fill="#f4f6f4"/><path d="M5,14L16,22V62L8,60Z" fill="#d6dbd6"/><path d="M16,25L30,30V70L16,64Z" fill="#aeb4ad"/><rect x="22" y="38" width="6" height="18" fill="#8fa090"/><path d="M30,0L100,0V30L60,55L30,30Z" fill="#5a5f5c"/><path d="M75,10L84,10L100,45V70Z" fill="#6d706c"/><path d="M76,14L82,12L88,40L83,52Z" fill="#b9bcb6"/><path d="M80,40L100,62V72L84,52Z" fill="#d8c69a"/><path d="M0,62L30,70L34,100H0Z" fill="#787468"/><path d="M30,80L100,68V100H30Z" fill="#9a9c98"/><path d="M45,52L52,46L58,50L60,82H46Z" fill="#1d2321"/><path d="M72,52L80,48L88,56L92,70L88,92H74Z" fill="#1c211f"/><path d="M60,55L74,50L76,80L62,78Z" fill="#d9dcd8"/><path d="M28,84H70L72,100H26Z" fill="#222624"/><path d="M30,78H62V84H30Z" fill="#e8eae6"/></g><path d="M32,0L29,70M45,0L42,60" stroke="#2a2e2c" stroke-width="1.3"/><path d="M12,91H88" stroke="#e6e8e4" stroke-width="2.2" stroke-dasharray="3,1.2,5,1,2,1.5"/><rect x="0" y="0" width="2.2" height="100" fill="#0a0c0b"/><rect x="44" y="47.3" width="12" height="6.2" fill="#e6a35c"/><polyline points="54,49 76,34.5" fill="none" stroke="#e6a35c" stroke-width="2.3" stroke-linecap="round" stroke-linejoin="round" style="vector-effect:none"/></svg>
<svg style="left:2337.0px;top:395.0px;overflow:hidden" width="161.2" height="160.6" viewBox="0 0 100 100" preserveAspectRatio="none"><rect x="0" y="0" width="100" height="100" fill="#3b3b3d"/><rect x="0" y="0" width="100" height="17" fill="#e9dfb5"/><rect x="0" y="0" width="11" height="16" fill="#d9a020"/><rect x="2" y="2" width="8" height="12" fill="#c8452a"/><rect x="41" y="0" width="56" height="16.5" fill="#c8202c"/><rect x="47" y="1" width="17" height="13" fill="#e6d6c0"/><rect x="70" y="5" width="26" height="9" fill="#a81824"/><rect x="22" y="0" width="6" height="8" fill="#e8c030"/><rect x="0" y="17" width="100" height="7.5" fill="#e6dab0"/><rect x="0" y="24.5" width="100" height="6" fill="#4a4238"/><path d="M0,62L55,57L60,100H0Z" fill="#2e5626"/><path d="M55,57L100,52V72L62,100H58Z" fill="#3c5a30"/><path d="M46,100Q58,78 100,65V73Q66,85 56,100Z" fill="#e6dcb4"/><path d="M56,100Q66,85 100,73V100Z" fill="#55524f"/><path d="M0,58L100,50V54L0,62Z" fill="#6a6a68"/><ellipse cx="50" cy="30.5" rx="10.5" ry="3.6" fill="#3d7fc4"/><ellipse cx="52" cy="31.8" rx="5" ry="2" fill="#e8e4e0"/><path d="M42,33.5H59" stroke="#222" stroke-width="1.2"/><path d="M29,0V50M97.5,0V62" stroke="#8c8468" stroke-width="1.4"/><path d="M30.5,60V98" stroke="#c49a58" stroke-width="1.8"/><path d="M48,66L80,38M50,70L52,100M62,56L64,90M74,47L75,80" stroke="#7a6a50" stroke-width="0.9" opacity="0.8"/><polyline points="31,53 68,48.5" fill="none" stroke="#e6a35c" stroke-width="3" stroke-linecap="butt" stroke-linejoin="round" style="vector-effect:none"/><polyline points="68,48.5 79,39.5" fill="none" stroke="#e6a35c" stroke-width="3.2" stroke-linecap="round" stroke-linejoin="round" style="vector-effect:none"/><polyline points="31,53 37,68 23,70 23,79" fill="none" stroke="#e6a35c" stroke-width="2.8" stroke-linecap="round" stroke-linejoin="round" style="vector-effect:none"/><polyline points="68,48.5 65,64 72,79" fill="none" stroke="#e6a35c" stroke-width="2.8" stroke-linecap="round" stroke-linejoin="round" style="vector-effect:none"/></svg>
<svg style="left:2503.0px;top:395.0px;overflow:hidden" width="161.2" height="160.6" viewBox="0 0 100 100" preserveAspectRatio="none"><defs><radialGradient id="g13" cx="0.5" cy="0.5" r="0.72"><stop offset="0" stop-color="#1593bd"/><stop offset="0.7" stop-color="#1287b0"/><stop offset="1" stop-color="#0c7298"/></radialGradient></defs><rect x="0" y="0" width="100" height="100" fill="url(#g13)"/><path d="M35,0V100M65,0V100M0,34H100M0,61H100" stroke="#2ea5cc" stroke-width="0.5" opacity="0.7"/><path d="M41,40C41,20 60,20 60,40C60,50 54,52 54,62H46C46,52 41,50 41,40Z" fill="none" stroke="#bfeaf5" stroke-width="1.5"/><path d="M46,66H54M46,69.5H54M46.5,73H53.5M48,76.5H52" stroke="#8ad4ea" stroke-width="1.6"/><rect x="47.5" y="38" width="5" height="2.6" fill="#e8f6fa"/><path d="M11,24H33M11,27H30M12,30H26" stroke="#9ad84a" stroke-width="1.6" stroke-dasharray="2.5,0.7"/><path d="M9.5,71.2H35" stroke="#d8d040" stroke-width="1.6"/><path d="M72.5,69V100" stroke="#c8d038" stroke-width="1.6"/><path d="M68,61H90V66H68Z" fill="none" stroke="#6ac0a0" stroke-width="0.6"/><path d="M69,62.5H89M69,64.5H84" stroke="#a8d848" stroke-width="0.8" stroke-dasharray="2,0.6"/><path d="M7,36V54" stroke="#8ac850" stroke-width="0.8" stroke-dasharray="1.5,1.5"/><path d="M53.8,41V47Q53.8,52.5 59.5,52.5Q65.3,52.5 65.3,47V42" fill="none" stroke="#d88a40" stroke-width="2.1" stroke-linecap="round"/><circle cx="42.8" cy="75" r="2.6" fill="#ea8a30"/></svg>
<svg style="left:2669.0px;top:395.0px;overflow:hidden" width="161.2" height="160.6" viewBox="0 0 100 100" preserveAspectRatio="none"><rect x="0" y="0" width="100" height="100" fill="#6e2b1d"/><g filter="url(#bl1)"><rect x="0" y="0" width="30" height="100" fill="#2b3163"/><rect x="6" y="6" width="26" height="28" fill="#d9cfd6"/><rect x="12" y="12" width="8" height="18" fill="#8a7a90"/><rect x="0" y="0" width="100" height="5" fill="#4a1d18"/><path d="M14,22L26,18L30,40V100H12Z" fill="#23264a"/><path d="M0,30L10,26L14,100H0Z" fill="#3448a0"/><path d="M34,0H62L60,30L64,70L60,92H30L28,40Z" fill="#a58aa2"/><path d="M44,0H58L56,40L46,45Z" fill="#b89cb2"/><path d="M30,84H60L62,100H36Z" fill="#1c1f38"/><path d="M32,82H58V86H32Z" fill="#e8e0ea"/><path d="M62,0H100V30L80,26L66,30Z" fill="#3a1c18"/><path d="M74,22Q80,16 88,24L86,34H74Z" fill="#1a1210"/><path d="M66,34H100V100H62Z" fill="#6a2a1a"/><path d="M84,28L100,24V40L90,40Z" fill="#8a5a40"/></g><polyline points="29,43 45,31 56,50" fill="none" stroke="#e6a35c" stroke-width="6" stroke-linecap="round" stroke-linejoin="round" style="vector-effect:none"/><g transform="rotate(14 73 39)"><rect x="65.5" y="25" width="15.5" height="28" rx="5.5" fill="#e6a35c"/><path d="M73.2,27V51" stroke="#c98a45" stroke-width="0.8"/></g><circle cx="73" cy="42" r="2.2" fill="#3a2a38"/><polyline points="56.5,50.5 57,51" fill="none" stroke="#e08a30" stroke-width="5.6" stroke-linecap="round" stroke-linejoin="round" style="vector-effect:none"/></svg>
<svg style="left:2834.2px;top:395.0px;overflow:hidden" width="161.2" height="160.6" viewBox="0 0 100 100" preserveAspectRatio="none"><rect x="0" y="0" width="100" height="100" fill="#a89d82"/><g filter="url(#bl0)"><rect x="0" y="0" width="35" height="60" fill="#cfc8ae"/><path d="M0,8H35M0,16H35M0,24H35M0,32H35M0,40H35M0,48H35M0,56H35" stroke="#b0a890" stroke-width="1.6"/><rect x="8" y="33" width="9" height="20" fill="#7a8c9c"/><circle cx="9" cy="11" r="7.5" fill="#6a7070"/><rect x="35" y="0" width="23" height="32" fill="#2a4822"/><rect x="50" y="0" width="11" height="30" fill="#6ab4e6"/><path d="M40,0H56L58,28H44Z" fill="#2c4a24"/><rect x="61" y="2" width="39" height="38" fill="#5c7184"/><path d="M70,18L80,12L92,18V40H70Z" fill="#3c4650"/><path d="M84,40L100,30V48H80Z" fill="#8a5a50"/><rect x="36" y="32" width="24" height="20" fill="#c4c2b8"/><rect x="80" y="45" width="20" height="4" fill="#8aa040"/><path d="M0,62Q40,66 70,50L72,54Q40,72 0,72Z" fill="#8a8068"/><path d="M36,100L100,64V100Z" fill="#9a9078"/><path d="M34,100L100,62" stroke="#7a7060" stroke-width="1.5"/><path d="M28,78Q30,62 44,59L58,58Q66,60 67,70L66,80Q50,92 34,92Q28,90 28,78Z" fill="#55524a"/><path d="M38,66L46,60H58L60,68Q48,72 40,72Z" fill="#2c3038"/><path d="M29,80H36" stroke="#c83028" stroke-width="2"/><circle cx="38" cy="88" r="3" fill="#1c1c1c"/><circle cx="62" cy="79" r="3" fill="#1c1c1c"/><rect x="88" y="48" width="1.6" height="7" fill="#2a2a30"/><rect x="93.5" y="50" width="1.6" height="7" fill="#3a3028"/><rect x="97" y="45" width="3" height="4" fill="#2c5cc8"/><rect x="18.5" y="88" width="3" height="8" fill="#55687a"/><rect x="80" y="89" width="3" height="8" fill="#4a6478"/></g><defs><radialGradient id="g14" cx="0.45" cy="0.4" r="0.6"><stop offset="0" stop-color="#f4a4a6"/><stop offset="0.6" stop-color="#e8707a"/><stop offset="1" stop-color="#d96068"/></radialGradient></defs><circle cx="29" cy="41" r="7.4" fill="url(#g14)"/><polyline points="46,73 63,64 50,52" fill="none" stroke="#f2c455" stroke-width="2.2" stroke-linecap="butt" stroke-linejoin="round" style="vector-effect:none"/><rect x="48.6" y="50" width="2.8" height="2.8" fill="#b8ecf5"/></svg>
<svg style="left:3000.0px;top:395.0px;overflow:hidden" width="161.2" height="160.6" viewBox="0 0 100 100" preserveAspectRatio="none"><rect x="0" y="0" width="100" height="100" fill="#8d8d8d"/><g filter="url(#bl0)"><path d="M0,0H45L40,20L30,40L8,26L0,22Z" fill="#b8ac94"/><path d="M4,4L20,2L30,12L22,24L8,18Z" fill="#cabfa8"/><path d="M44,0H100V68L82,62L70,40L50,36L40,22Z" fill="#3b3129"/><path d="M60,0L66,30M76,0L80,40M90,0L92,50" stroke="#5a4c40" stroke-width="2.5"/><path d="M80,60L100,66V80L84,70Z" fill="#a8a090"/><path d="M0,20Q20,40 24,70L44,100H52L30,66Q22,36 0,14Z" fill="#7d7d7d"/><path d="M2,24Q18,52 26,72L46,100" stroke="#f0f0f0" stroke-width="1.2" fill="none"/><path d="M14,26Q24,40 28,48" stroke="#e8e8e8" stroke-width="1" fill="none"/><path d="M80,70L100,78" stroke="#efefef" stroke-width="1.2" stroke-dasharray="6,3"/><path d="M24,62Q22,52 30,44L42,34L60,32L76,44L82,60L80,72L62,82L46,82Z" fill="#101010"/><path d="M28,56Q28,46 40,38L58,34L74,46L80,62L70,72L50,70L36,66Z" fill="#f2f2f4"/><path d="M36,44L46,38L62,40L66,48L50,50Z" fill="#20242c"/><path d="M30,60L44,64L60,70V76L40,74Z" fill="#c8ccd4"/><path d="M44,62Q50,58 54,66L56,80L46,80Z" fill="#0c0c0c"/></g><polyline points="64.5,17.5 47,48" fill="none" stroke="#e6a35c" stroke-width="6.4" stroke-linecap="round" stroke-linejoin="round" style="vector-effect:none"/><polyline points="47,48 20,73 20,80" fill="none" stroke="#e6a35c" stroke-width="4.2" stroke-linecap="square" stroke-linejoin="round" style="vector-effect:none"/><polyline points="47,48 72,57 64,77 60,76" fill="none" stroke="#e6a35c" stroke-width="4.2" stroke-linecap="round" stroke-linejoin="round" style="vector-effect:none"/></svg>
<svg width="0" height="0" style="left:0;top:0"><defs><linearGradient id="g15" x1="0" y1="0" x2="0" y2="1"><stop offset="0" stop-color="#2b4362"/><stop offset="0.65" stop-color="#1e3149"/><stop offset="1" stop-color="#1c2e45"/></linearGradient></defs></svg>
<svg style="left:2170.6px;top:1270.9px;overflow:hidden" width="90.1" height="89.5" viewBox="0 0 100 100" preserveAspectRatio="none"><rect x="0" y="0" width="100" height="100" fill="url(#g15)"/><rect x="0" y="65.5" width="50" height="9.5" fill="#264f7b"/><rect x="50" y="65.5" width="50" height="9.5" fill="#4a74a4"/><rect x="0" y="75" width="50" height="15.7" fill="#4b719d"/><rect x="50" y="75" width="50" height="15.7" fill="#29527f"/><rect x="0" y="90.7" width="100" height="9.3" fill="#141f33"/><path d="M22.8,30V37Q22.8,42.5 29.3,42.5Q35.8,42.5 35.8,37V30" fill="none" stroke="#dba055" stroke-width="2.2" stroke-linecap="round"/><path d="M29.3,43L25.2,70" stroke="#9aa3ab" stroke-width="0.9" stroke-dasharray="1.2,1.2"/><circle cx="25.2" cy="70" r="2.9" fill="#ea8c2e"/><path d="M17.2,76.5H33.2" stroke="#16263c" stroke-width="1.1"/></svg>
<svg style="left:2265.1px;top:1270.9px;overflow:hidden" width="90.1" height="89.5" viewBox="0 0 100 100" preserveAspectRatio="none"><rect x="0" y="0" width="100" height="100" fill="url(#g15)"/><rect x="0" y="65.5" width="50" height="9.5" fill="#264f7b"/><rect x="50" y="65.5" width="50" height="9.5" fill="#4a74a4"/><rect x="0" y="75" width="50" height="15.7" fill="#4b719d"/><rect x="50" y="75" width="50" height="15.7" fill="#29527f"/><rect x="0" y="90.7" width="100" height="9.3" fill="#141f33"/><path d="M34.8,30V37Q34.8,42.5 41.3,42.5Q47.8,42.5 47.8,37V30" fill="none" stroke="#dba055" stroke-width="2.2" stroke-linecap="round"/><path d="M41.3,43L44,70" stroke="#9aa3ab" stroke-width="0.9" stroke-dasharray="1.2,1.2"/><circle cx="44" cy="70" r="2.9" fill="#ea8c2e"/><path d="M36,76.5H52" stroke="#16263c" stroke-width="1.1"/></svg>
<svg style="left:2358.0px;top:1270.9px;overflow:hidden" width="90.1" height="89.5" viewBox="0 0 100 100" preserveAspectRatio="none"><rect x="0" y="0" width="100" height="100" fill="url(#g15)"/><rect x="0" y="65.5" width="50" height="9.5" fill="#264f7b"/><rect x="50" y="65.5" width="50" height="9.5" fill="#4a74a4"/><rect x="0" y="75" width="50" height="15.7" fill="#4b719d"/><rect x="50" y="75" width="50" height="15.7" fill="#29527f"/><rect x="0" y="90.7" width="100" height="9.3" fill="#141f33"/><path d="M45.0,25V32Q45.0,37.5 51.5,37.5Q58.0,37.5 58.0,32V25" fill="none" stroke="#dba055" stroke-width="2.2" stroke-linecap="round"/><path d="M51.5,38L63,64.6" stroke="#9aa3ab" stroke-width="0.9" stroke-dasharray="1.2,1.2"/><circle cx="63" cy="64.6" r="2.9" fill="#ea8c2e"/><path d="M55,76.5H71" stroke="#16263c" stroke-width="1.1"/></svg>
<svg style="left:2452.0px;top:1270.9px;overflow:hidden" width="90.1" height="89.5" viewBox="0 0 100 100" preserveAspectRatio="none"><rect x="0" y="0" width="100" height="100" fill="url(#g15)"/><rect x="0" y="65.5" width="50" height="9.5" fill="#264f7b"/><rect x="50" y="65.5" width="50" height="9.5" fill="#4a74a4"/><rect x="0" y="75" width="50" height="15.7" fill="#4b719d"/><rect x="50" y="75" width="50" height="15.7" fill="#29527f"/><rect x="0" y="90.7" width="100" height="9.3" fill="#141f33"/><path d="M46.8,21V28Q46.8,33.5 53.3,33.5Q59.8,33.5 59.8,28V21" fill="none" stroke="#dba055" stroke-width="2.2" stroke-linecap="round"/><path d="M53.3,34L79.4,53.6" stroke="#9aa3ab" stroke-width="0.9" stroke-dasharray="1.2,1.2"/><circle cx="79.4" cy="53.6" r="2.9" fill="#ea8c2e"/><path d="M71.4,76.5H87.4" stroke="#16263c" stroke-width="1.1"/></svg>
<svg style="left:2170.6px;top:1364.8px;overflow:hidden" width="90.1" height="89.5" viewBox="0 0 100 100" preserveAspectRatio="none"><rect x="0" y="0" width="100" height="100" fill="url(#g15)"/><rect x="0" y="65.5" width="50" height="9.5" fill="#264f7b"/><rect x="50" y="65.5" width="50" height="9.5" fill="#4a74a4"/><rect x="0" y="75" width="50" height="15.7" fill="#4b719d"/><rect x="50" y="75" width="50" height="15.7" fill="#29527f"/><rect x="0" y="90.7" width="100" height="9.3" fill="#141f33"/><path d="M25.5,18V25Q25.5,30.5 32,30.5Q38.5,30.5 38.5,25V18" fill="none" stroke="#dba055" stroke-width="2.2" stroke-linecap="round" filter="url(#bl1)" opacity="0.75"/><circle cx="22.5" cy="62" r="3.4" fill="#e08a35" filter="url(#bl1)" opacity="0.9"/></svg>
<svg style="left:2265.1px;top:1364.8px;overflow:hidden" width="90.1" height="89.5" viewBox="0 0 100 100" preserveAspectRatio="none"><rect x="0" y="0" width="100" height="100" fill="url(#g15)"/><rect x="0" y="65.5" width="50" height="9.5" fill="#264f7b"/><rect x="50" y="65.5" width="50" height="9.5" fill="#4a74a4"/><rect x="0" y="75" width="50" height="15.7" fill="#4b719d"/><rect x="50" y="75" width="50" height="15.7" fill="#29527f"/><rect x="0" y="90.7" width="100" height="9.3" fill="#141f33"/><path d="M36.5,22V29Q36.5,34.5 43,34.5Q49.5,34.5 49.5,29V22" fill="none" stroke="#dba055" stroke-width="2.2" stroke-linecap="round" filter="url(#bl1)" opacity="0.75"/><circle cx="45" cy="64" r="3.4" fill="#e08a35" filter="url(#bl1)" opacity="0.9"/></svg>
<svg style="left:2358.0px;top:1364.8px;overflow:hidden" width="90.1" height="89.5" viewBox="0 0 100 100" preserveAspectRatio="none"><rect x="0" y="0" width="100" height="100" fill="url(#g15)"/><rect x="0" y="65.5" width="50" height="9.5" fill="#264f7b"/><rect x="50" y="65.5" width="50" height="9.5" fill="#4a74a4"/><rect x="0" y="75" width="50" height="15.7" fill="#4b719d"/><rect x="50" y="75" width="50" height="15.7" fill="#29527f"/><rect x="0" y="90.7" width="100" height="9.3" fill="#141f33"/><path d="M45.5,20V27Q45.5,32.5 52,32.5Q58.5,32.5 58.5,27V20" fill="none" stroke="#dba055" stroke-width="2.2" stroke-linecap="round" filter="url(#bl1)" opacity="0.75"/><circle cx="63.6" cy="61" r="3.4" fill="#e08a35" filter="url(#bl1)" opacity="0.9"/></svg>
<svg style="left:2452.0px;top:1364.8px;overflow:hidden" width="90.1" height="89.5" viewBox="0 0 100 100" preserveAspectRatio="none"><rect x="0" y="0" width="100" height="100" fill="url(#g15)"/><rect x="0" y="65.5" width="50" height="9.5" fill="#264f7b"/><rect x="50" y="65.5" width="50" height="9.5" fill="#4a74a4"/><rect x="0" y="75" width="50" height="15.7" fill="#4b719d"/><rect x="50" y="75" width="50" height="15.7" fill="#29527f"/><rect x="0" y="90.7" width="100" height="9.3" fill="#141f33"/><path d="M47.5,19V26Q47.5,31.5 54,31.5Q60.5,31.5 60.5,26V19" fill="none" stroke="#dba055" stroke-width="2.2" stroke-linecap="round" filter="url(#bl1)" opacity="0.75"/><circle cx="78.6" cy="53" r="3.4" fill="#e08a35" filter="url(#bl1)" opacity="0.9"/></svg>
<svg style="left:2170.6px;top:1459.0px;overflow:hidden" width="90.1" height="89.5" viewBox="0 0 100 100" preserveAspectRatio="none"><rect x="0" y="0" width="100" height="100" fill="url(#g15)"/><rect x="0" y="65.5" width="50" height="9.5" fill="#264f7b"/><rect x="50" y="65.5" width="50" height="9.5" fill="#4a74a4"/><rect x="0" y="75" width="50" height="15.7" fill="#4b719d"/><rect x="50" y="75" width="50" height="15.7" fill="#29527f"/><rect x="0" y="90.7" width="100" height="9.3" fill="#141f33"/><ellipse cx="45" cy="28" rx="11" ry="6" fill="#a8743a" filter="url(#bl2)" opacity="0.55"/></svg>
<svg style="left:2265.1px;top:1459.0px;overflow:hidden" width="90.1" height="89.5" viewBox="0 0 100 100" preserveAspectRatio="none"><rect x="0" y="0" width="100" height="100" fill="url(#g15)"/><rect x="0" y="65.5" width="50" height="9.5" fill="#264f7b"/><rect x="50" y="65.5" width="50" height="9.5" fill="#4a74a4"/><rect x="0" y="75" width="50" height="15.7" fill="#4b719d"/><rect x="50" y="75" width="50" height="15.7" fill="#29527f"/><rect x="0" y="90.7" width="100" height="9.3" fill="#141f33"/><ellipse cx="42" cy="29" rx="11" ry="6" fill="#a8743a" filter="url(#bl2)" opacity="0.55"/><circle cx="54" cy="70" r="4" fill="#a8703a" filter="url(#bl2)" opacity="0.4"/></svg>
<svg style="left:2358.0px;top:1459.0px;overflow:hidden" width="90.1" height="89.5" viewBox="0 0 100 100" preserveAspectRatio="none"><rect x="0" y="0" width="100" height="100" fill="url(#g15)"/><rect x="0" y="65.5" width="50" height="9.5" fill="#264f7b"/><rect x="50" y="65.5" width="50" height="9.5" fill="#4a74a4"/><rect x="0" y="75" width="50" height="15.7" fill="#4b719d"/><rect x="50" y="75" width="50" height="15.7" fill="#29527f"/><rect x="0" y="90.7" width="100" height="9.3" fill="#141f33"/><path d="M45.5,22V29Q45.5,34.5 52,34.5Q58.5,34.5 58.5,29V22" fill="none" stroke="#dba055" stroke-width="2.2" stroke-linecap="round" filter="url(#bl1)" opacity="0.6"/><circle cx="62" cy="58" r="4" fill="#a8703a" filter="url(#bl2)" opacity="0.5"/></svg>
<svg style="left:2452.0px;top:1459.0px;overflow:hidden" width="90.1" height="89.5" viewBox="0 0 100 100" preserveAspectRatio="none"><rect x="0" y="0" width="100" height="100" fill="url(#g15)"/><rect x="0" y="65.5" width="50" height="9.5" fill="#264f7b"/><rect x="50" y="65.5" width="50" height="9.5" fill="#4a74a4"/><rect x="0" y="75" width="50" height="15.7" fill="#4b719d"/><rect x="50" y="75" width="50" height="15.7" fill="#29527f"/><rect x="0" y="90.7" width="100" height="9.3" fill="#141f33"/><path d="M45.5,18V25Q45.5,30.5 52,30.5Q58.5,30.5 58.5,25V18" fill="none" stroke="#dba055" stroke-width="2.2" stroke-linecap="round" filter="url(#bl1)" opacity="0.6"/><circle cx="70" cy="55" r="4" fill="#a8703a" filter="url(#bl2)" opacity="0.5"/></svg>
<svg style="left:2170.6px;top:1552.0px;overflow:hidden" width="90.1" height="89.5" viewBox="0 0 100 100" preserveAspectRatio="none"><rect x="0" y="0" width="100" height="100" fill="url(#g15)"/><rect x="0" y="65.5" width="50" height="9.5" fill="#264f7b"/><rect x="50" y="65.5" width="50" height="9.5" fill="#4a74a4"/><rect x="0" y="75" width="50" height="15.7" fill="#4b719d"/><rect x="50" y="75" width="50" height="15.7" fill="#29527f"/><rect x="0" y="90.7" width="100" height="9.3" fill="#141f33"/><ellipse cx="35" cy="32" rx="11" ry="6" fill="#a8743a" filter="url(#bl2)" opacity="0.55"/></svg>
<svg style="left:2265.1px;top:1552.0px;overflow:hidden" width="90.1" height="89.5" viewBox="0 0 100 100" preserveAspectRatio="none"><rect x="0" y="0" width="100" height="100" fill="url(#g15)"/><rect x="0" y="65.5" width="50" height="9.5" fill="#264f7b"/><rect x="50" y="65.5" width="50" height="9.5" fill="#4a74a4"/><rect x="0" y="75" width="50" height="15.7" fill="#4b719d"/><rect x="50" y="75" width="50" height="15.7" fill="#29527f"/><rect x="0" y="90.7" width="100" height="9.3" fill="#141f33"/><path d="M36.5,26V33Q36.5,38.5 43,38.5Q49.5,38.5 49.5,33V26" fill="none" stroke="#dba055" stroke-width="2.2" stroke-linecap="round" filter="url(#bl1)" opacity="0.6"/><circle cx="35" cy="60" r="4" fill="#a8703a" filter="url(#bl2)" opacity="0.5"/></svg>
<svg style="left:2358.0px;top:1552.0px;overflow:hidden" width="90.1" height="89.5" viewBox="0 0 100 100" preserveAspectRatio="none"><rect x="0" y="0" width="100" height="100" fill="url(#g15)"/><rect x="0" y="65.5" width="50" height="9.5" fill="#264f7b"/><rect x="50" y="65.5" width="50" height="9.5" fill="#4a74a4"/><rect x="0" y="75" width="50" height="15.7" fill="#4b719d"/><rect x="50" y="75" width="50" height="15.7" fill="#29527f"/><rect x="0" y="90.7" width="100" height="9.3" fill="#141f33"/><path d="M44.5,22V29Q44.5,34.5 51,34.5Q57.5,34.5 57.5,29V22" fill="none" stroke="#dba055" stroke-width="2.2" stroke-linecap="round" filter="url(#bl1)" opacity="0.6"/><circle cx="45" cy="60" r="4" fill="#a8703a" filter="url(#bl2)" opacity="0.5"/></svg>
<svg style="left:2452.0px;top:1552.0px;overflow:hidden" width="90.1" height="89.5" viewBox="0 0 100 100" preserveAspectRatio="none"><rect x="0" y="0" width="100" height="100" fill="url(#g15)"/><rect x="0" y="65.5" width="50" height="9.5" fill="#264f7b"/><rect x="50" y="65.5" width="50" height="9.5" fill="#4a74a4"/><rect x="0" y="75" width="50" height="15.7" fill="#4b719d"/><rect x="50" y="75" width="50" height="15.7" fill="#29527f"/><rect x="0" y="90.7" width="100" height="9.3" fill="#141f33"/><path d="M46.5,18V25Q46.5,30.5 53,30.5Q59.5,30.5 59.5,25V18" fill="none" stroke="#dba055" stroke-width="2.2" stroke-linecap="round" filter="url(#bl1)" opacity="0.6"/><circle cx="60" cy="60" r="4" fill="#a8703a" filter="url(#bl2)" opacity="0.5"/></svg>
<svg style="left:2789.9px;top:1270.9px;overflow:hidden" width="90.1" height="89.5" viewBox="0 0 100 100" preserveAspectRatio="none"><g filter="url(#bl0)"><rect x="-30" y="-30" width="160" height="160" fill="#1b1b21"/><rect x="0" y="0" width="100" height="28" fill="#2a2724"/><path d="M0,6L100,2M0,14L100,8M0,22L100,14" stroke="#3a3630" stroke-width="1.2"/><rect x="0" y="28" width="100" height="24" fill="#cfd6e6"/><rect x="20" y="36" width="60" height="8" fill="#7a90c0"/><rect x="0" y="52" width="100" height="10" fill="#3a3a42"/><rect x="10" y="24" width="4" height="40" fill="#17171b"/><rect x="30" y="26" width="3" height="34" fill="#1a1a1e"/><rect x="88" y="0" width="7" height="80" fill="#4a4640"/><rect x="0" y="24" width="8" height="34" fill="#222226"/><path d="M0,100L40,62H60L100,100Z" fill="#24242b"/></g><g><polyline points="34,20 52,52" fill="none" stroke="#e8aa66" stroke-width="6.75" stroke-linecap="round" stroke-linejoin="round" style="vector-effect:none"/><polyline points="52,52 50,72 40,88" fill="none" stroke="#e8aa66" stroke-width="4.14" stroke-linecap="round" stroke-linejoin="round" style="vector-effect:none"/><polyline points="52,52 72,40 68,55 58,68" fill="none" stroke="#e8aa66" stroke-width="4.14" stroke-linecap="round" stroke-linejoin="round" style="vector-effect:none"/></g></svg>
<svg style="left:2789.9px;top:1364.8px;overflow:hidden" width="90.1" height="89.5" viewBox="0 0 100 100" preserveAspectRatio="none"><g filter="url(#bl2)"><rect x="-30" y="-30" width="160" height="160" fill="#17171b"/><ellipse cx="50" cy="10" rx="70" ry="12" fill="#2b2621"/><ellipse cx="18" cy="36" rx="20" ry="8" fill="#eef2fa"/><ellipse cx="64" cy="36" rx="14" ry="7" fill="#dfe6f4"/><ellipse cx="40" cy="36" rx="8" ry="7" fill="#9aa6c4"/><ellipse cx="90" cy="36" rx="10" ry="7" fill="#c8d0e0"/><ellipse cx="50" cy="80" rx="60" ry="22" fill="#1b1b20"/><ellipse cx="12" cy="40" rx="3" ry="22" fill="#121214"/><ellipse cx="88" cy="40" rx="4" ry="30" fill="#2e2b28"/></g><g filter="url(#bl1)" opacity="0.9"><polyline points="34,20 52,52" fill="none" stroke="#dba56a" stroke-width="7.125" stroke-linecap="round" stroke-linejoin="round" style="vector-effect:none"/><polyline points="52,52 50,72 40,88" fill="none" stroke="#dba56a" stroke-width="4.369999999999999" stroke-linecap="round" stroke-linejoin="round" style="vector-effect:none"/><polyline points="52,52 72,40 68,55 58,68" fill="none" stroke="#dba56a" stroke-width="4.369999999999999" stroke-linecap="round" stroke-linejoin="round" style="vector-effect:none"/></g></svg>
<svg style="left:2789.9px;top:1459.0px;overflow:hidden" width="90.1" height="89.5" viewBox="0 0 100 100" preserveAspectRatio="none"><g filter="url(#bl2)"><rect x="-30" y="-30" width="160" height="160" fill="#332a22"/><ellipse cx="50" cy="8" rx="70" ry="14" fill="#241c16"/><ellipse cx="50" cy="32" rx="52" ry="7" fill="#f2f4f6"/><ellipse cx="50" cy="24" rx="40" ry="5" fill="#8a8e96"/><ellipse cx="50" cy="62" rx="60" ry="12" fill="#3d332a"/><ellipse cx="50" cy="95" rx="70" ry="14" fill="#15120f"/></g><g filter="url(#bl2)" opacity="0.85"><polyline points="28,47 72,44" fill="none" stroke="#d8a060" stroke-width="5.0" stroke-linecap="round" stroke-linejoin="round" style="vector-effect:none"/><polyline points="48,46 44,62 34,72" fill="none" stroke="#d8a060" stroke-width="5.0" stroke-linecap="round" stroke-linejoin="round" style="vector-effect:none"/></g></svg>
<svg style="left:2789.9px;top:1552.0px;overflow:hidden" width="90.1" height="89.5" viewBox="0 0 100 100" preserveAspectRatio="none"><g filter="url(#bl3)"><rect x="-30" y="-30" width="160" height="160" fill="#1d1d21"/><ellipse cx="32" cy="40" rx="18" ry="14" fill="#aeb8cc"/><ellipse cx="60" cy="30" rx="16" ry="10" fill="#7c7c80"/><ellipse cx="80" cy="55" rx="14" ry="14" fill="#5c5c60"/><ellipse cx="20" cy="75" rx="16" ry="10" fill="#8a8a8a"/><ellipse cx="50" cy="4" rx="70" ry="10" fill="#0e0e10"/><ellipse cx="50" cy="96" rx="70" ry="10" fill="#0c0c0e"/><ellipse cx="60" cy="80" rx="14" ry="8" fill="#55555a"/></g><g filter="url(#bl3)" opacity="0.75"><ellipse cx="58" cy="46" rx="16" ry="7" fill="#d6a060"/><ellipse cx="42" cy="70" rx="12" ry="9" fill="#d6a060"/></g></svg>
<svg style="left:2884.1px;top:1270.9px;overflow:hidden" width="90.1" height="89.5" viewBox="0 0 100 100" preserveAspectRatio="none"><g filter="url(#bl0)"><rect x="-30" y="-30" width="160" height="160" fill="#2a2c30"/><rect x="-30" y="-30" width="160" height="80" fill="#e4e8ec"/><path d="M0,30Q30,20 60,34T100,30V55H0Z" fill="#aab2ba"/><path d="M20,62L30,40L44,36L60,30L80,40L100,50V70H20Z" fill="#4c4a30"/><path d="M50,46L62,30L72,44Z" fill="#7a6428"/><rect x="0" y="52" width="8" height="22" fill="#2c3c6c"/><rect x="82" y="52" width="18" height="36" fill="#d9dde1"/><rect x="84" y="58" width="12" height="10" fill="#3a3e44"/><path d="M0,76Q50,70 100,84V100H0Z" fill="#25272b"/><path d="M14,92Q40,82 78,88L76,94H16Z" fill="#5a5446"/></g><g><polyline points="53,17 43,58" fill="none" stroke="#e8aa66" stroke-width="6.75" stroke-linecap="round" stroke-linejoin="round" style="vector-effect:none"/><polyline points="43,58 28,55 33,72" fill="none" stroke="#e8aa66" stroke-width="4.14" stroke-linecap="round" stroke-linejoin="round" style="vector-effect:none"/><polyline points="43,58 68,85 80,82" fill="none" stroke="#e8aa66" stroke-width="4.14" stroke-linecap="round" stroke-linejoin="round" style="vector-effect:none"/></g></svg>
<svg style="left:2884.1px;top:1364.8px;overflow:hidden" width="90.1" height="89.5" viewBox="0 0 100 100" preserveAspectRatio="none"><g filter="url(#bl2)"><rect x="-30" y="-30" width="160" height="160" fill="#1f2123"/><ellipse cx="50" cy="12" rx="70" ry="30" fill="#dfe2e5"/><ellipse cx="15" cy="48" rx="18" ry="10" fill="#2a2c2e"/><ellipse cx="85" cy="50" rx="18" ry="12" fill="#33363a"/><ellipse cx="50" cy="90" rx="30" ry="10" fill="#565a5d"/><ellipse cx="10" cy="95" rx="20" ry="10" fill="#101112"/><ellipse cx="90" cy="95" rx="20" ry="10" fill="#101112"/></g><g filter="url(#bl1)" opacity="0.9"><polyline points="53,17 43,58" fill="none" stroke="#dba56a" stroke-width="7.125" stroke-linecap="round" stroke-linejoin="round" style="vector-effect:none"/><polyline points="43,58 28,55 33,72" fill="none" stroke="#dba56a" stroke-width="4.369999999999999" stroke-linecap="round" stroke-linejoin="round" style="vector-effect:none"/><polyline points="43,58 68,85 80,82" fill="none" stroke="#dba56a" stroke-width="4.369999999999999" stroke-linecap="round" stroke-linejoin="round" style="vector-effect:none"/></g></svg>
<svg style="left:2884.1px;top:1459.0px;overflow:hidden" width="90.1" height="89.5" viewBox="0 0 100 100" preserveAspectRatio="none"><g filter="url(#bl2)"><rect x="-30" y="-30" width="160" height="160" fill="#2a2c2c"/><ellipse cx="28" cy="22" rx="36" ry="28" fill="#e9edf1"/><ellipse cx="85" cy="18" rx="22" ry="20" fill="#c5c9cd"/><ellipse cx="66" cy="46" rx="15" ry="14" fill="#141414"/><ellipse cx="84" cy="66" rx="12" ry="8" fill="#e0e0e0"/><ellipse cx="30" cy="60" rx="30" ry="10" fill="#6a6c66"/><ellipse cx="50" cy="92" rx="70" ry="14" fill="#1d1f1f"/></g><g filter="url(#bl2)" opacity="0.85"><polyline points="48,30 58,50 70,66" fill="none" stroke="#d8a060" stroke-width="6.0" stroke-linecap="round" stroke-linejoin="round" style="vector-effect:none"/><polyline points="58,50 40,58" fill="none" stroke="#d8a060" stroke-width="5.0" stroke-linecap="round" stroke-linejoin="round" style="vector-effect:none"/></g></svg>
<svg style="left:2884.1px;top:1552.0px;overflow:hidden" width="90.1" height="89.5" viewBox="0 0 100 100" preserveAspectRatio="none"><g filter="url(#bl3)"><rect x="-30" y="-30" width="160" height="160" fill="#4b4b45"/><ellipse cx="28" cy="24" rx="26" ry="22" fill="#f4f4f4"/><ellipse cx="82" cy="14" rx="26" ry="22" fill="#2a2a28"/><ellipse cx="10" cy="70" rx="14" ry="20" fill="#b0b0aa"/><ellipse cx="60" cy="80" rx="40" ry="16" fill="#55544c"/><ellipse cx="50" cy="98" rx="70" ry="8" fill="#1c1c1a"/><ellipse cx="90" cy="60" rx="14" ry="20" fill="#35352f"/></g><g filter="url(#bl3)" opacity="0.75"><ellipse cx="50" cy="50" rx="14" ry="16" fill="#d6a060"/></g></svg>
<svg style="left:2977.0px;top:1270.9px;overflow:hidden" width="90.1" height="89.5" viewBox="0 0 100 100" preserveAspectRatio="none"><g filter="url(#bl0)"><rect x="-30" y="-30" width="160" height="160" fill="#8b8982"/><rect x="-30" y="-30" width="160" height="44" fill="#1a1a1c"/><rect x="16" y="0" width="4" height="12" fill="#c82030"/><rect x="21" y="0" width="4" height="12" fill="#30a040"/><rect x="26" y="2" width="5" height="10" fill="#2a50b0"/><rect x="40" y="6" width="10" height="5" fill="#9aa0a8"/><path d="M0,30L10,24L20,60L0,70Z" fill="#4a4a46"/><path d="M86,70L100,60V100H80Z" fill="#2c2c2a"/><path d="M0,86L30,100H0Z" fill="#55544e"/><path d="M30,58L36,46H52L56,58L54,76H32Z" fill="#d6cf1e"/><path d="M38,24L44,22L48,40L38,44Z" fill="#141414"/><circle cx="40" cy="58" r="4" fill="#2a4a9a"/><rect x="34" y="70" width="5" height="4" fill="#c82828"/><rect x="47" y="70" width="5" height="4" fill="#c82828"/></g><g><polyline points="68,22 47,60" fill="none" stroke="#e8aa66" stroke-width="6.75" stroke-linecap="round" stroke-linejoin="round" style="vector-effect:none"/><polyline points="47,60 42,75 13,63" fill="none" stroke="#e8aa66" stroke-width="4.14" stroke-linecap="round" stroke-linejoin="round" style="vector-effect:none"/><polyline points="47,60 70,68 60,82 55,80" fill="none" stroke="#e8aa66" stroke-width="4.14" stroke-linecap="round" stroke-linejoin="round" style="vector-effect:none"/></g></svg>
<svg style="left:2977.0px;top:1364.8px;overflow:hidden" width="90.1" height="89.5" viewBox="0 0 100 100" preserveAspectRatio="none"><g filter="url(#bl2)"><rect x="-30" y="-30" width="160" height="160" fill="#3d3d3b"/><ellipse cx="50" cy="22" rx="32" ry="16" fill="#6e6e6c"/><ellipse cx="25" cy="75" rx="26" ry="20" fill="#4a5032"/><ellipse cx="50" cy="60" rx="25" ry="20" fill="#504e46"/><ellipse cx="95" cy="10" rx="22" ry="22" fill="#0c0c0c"/><ellipse cx="95" cy="92" rx="20" ry="20" fill="#0e0e0e"/><ellipse cx="5" cy="5" rx="18" ry="18" fill="#151515"/></g><g filter="url(#bl1)" opacity="0.9"><polyline points="68,22 47,60" fill="none" stroke="#dba56a" stroke-width="7.125" stroke-linecap="round" stroke-linejoin="round" style="vector-effect:none"/><polyline points="47,60 42,75 13,63" fill="none" stroke="#dba56a" stroke-width="4.369999999999999" stroke-linecap="round" stroke-linejoin="round" style="vector-effect:none"/><polyline points="47,60 70,68 60,82 55,80" fill="none" stroke="#dba56a" stroke-width="4.369999999999999" stroke-linecap="round" stroke-linejoin="round" style="vector-effect:none"/></g></svg>
<svg style="left:2977.0px;top:1459.0px;overflow:hidden" width="90.1" height="89.5" viewBox="0 0 100 100" preserveAspectRatio="none"><g filter="url(#bl2)"><rect x="-30" y="-30" width="160" height="160" fill="#403c3a"/><ellipse cx="22" cy="22" rx="22" ry="14" fill="#8c8c8a"/><ellipse cx="70" cy="20" rx="30" ry="14" fill="#5a5856"/><ellipse cx="62" cy="70" rx="24" ry="16" fill="#4d5272"/><ellipse cx="20" cy="80" rx="20" ry="16" fill="#2c2a28"/><ellipse cx="95" cy="50" rx="10" ry="40" fill="#2a2826"/><ellipse cx="50" cy="4" rx="70" ry="8" fill="#1a1a1a"/></g><g filter="url(#bl2)" opacity="0.85"><polyline points="12,64 58,50" fill="none" stroke="#d8a060" stroke-width="5.5" stroke-linecap="round" stroke-linejoin="round" style="vector-effect:none"/><polyline points="58,50 52,30" fill="none" stroke="#d8a060" stroke-width="5.0" stroke-linecap="round" stroke-linejoin="round" style="vector-effect:none"/></g></svg>
<svg style="left:2977.0px;top:1552.0px;overflow:hidden" width="90.1" height="89.5" viewBox="0 0 100 100" preserveAspectRatio="none"><g filter="url(#bl3)"><rect x="-30" y="-30" width="160" height="160" fill="#6c6c6a"/><ellipse cx="50" cy="6" rx="70" ry="12" fill="#2a2a2a"/><ellipse cx="20" cy="40" rx="16" ry="14" fill="#b4b4b0"/><ellipse cx="82" cy="36" rx="16" ry="16" fill="#9a9a98"/><ellipse cx="20" cy="80" rx="18" ry="14" fill="#3c3c3a"/><ellipse cx="85" cy="84" rx="18" ry="14" fill="#c0c0bc"/><ellipse cx="55" cy="25" rx="14" ry="8" fill="#d0d0cc"/><ellipse cx="50" cy="98" rx="70" ry="6" fill="#2c2c2a"/></g><g filter="url(#bl3)" opacity="0.75"><ellipse cx="48" cy="50" rx="18" ry="12" fill="#d6a060"/></g></svg>
<svg style="left:3071.0px;top:1270.9px;overflow:hidden" width="90.1" height="89.5" viewBox="0 0 100 100" preserveAspectRatio="none"><g filter="url(#bl0)"><rect x="-30" y="-30" width="160" height="160" fill="#4a4a42"/><rect x="-30" y="-30" width="160" height="86" fill="#a4bcd6"/><path d="M20,8Q34,0 48,10Q60,4 70,16Q86,10 100,24V50H60Q40,40 30,30Z" fill="#eef0f2"/><path d="M0,12L14,16L26,36L34,58H0Z" fill="#3c372c"/><path d="M60,50H100V60H60Z" fill="#6a7a58"/><rect x="22" y="46" width="24" height="22" fill="#22242a"/><path d="M0,60H100V100H0Z" fill="#4c4c44"/><path d="M0,64H100" stroke="#6a6a5e" stroke-width="3" stroke-dasharray="2,3"/><path d="M0,78H100M0,90H100" stroke="#3c3c36" stroke-width="3" stroke-dasharray="3,4"/></g><g><polyline points="53,17 52,52" fill="none" stroke="#e8aa66" stroke-width="6.75" stroke-linecap="round" stroke-linejoin="round" style="vector-effect:none"/><polyline points="52,52 28,78 27,85" fill="none" stroke="#e8aa66" stroke-width="4.14" stroke-linecap="round" stroke-linejoin="round" style="vector-effect:none"/><polyline points="52,52 75,46 65,63 58,63" fill="none" stroke="#e8aa66" stroke-width="4.14" stroke-linecap="round" stroke-linejoin="round" style="vector-effect:none"/></g></svg>
<svg style="left:3071.0px;top:1364.8px;overflow:hidden" width="90.1" height="89.5" viewBox="0 0 100 100" preserveAspectRatio="none"><g filter="url(#bl2)"><rect x="-30" y="-30" width="160" height="160" fill="#2b2925"/><ellipse cx="68" cy="18" rx="38" ry="26" fill="#e9ebef"/><ellipse cx="12" cy="22" rx="20" ry="24" fill="#171715"/><ellipse cx="50" cy="56" rx="60" ry="8" fill="#5c5f58"/><ellipse cx="50" cy="90" rx="70" ry="18" fill="#24231f"/></g><g filter="url(#bl1)" opacity="0.9"><polyline points="53,17 52,52" fill="none" stroke="#dba56a" stroke-width="7.125" stroke-linecap="round" stroke-linejoin="round" style="vector-effect:none"/><polyline points="52,52 28,78 27,85" fill="none" stroke="#dba56a" stroke-width="4.369999999999999" stroke-linecap="round" stroke-linejoin="round" style="vector-effect:none"/><polyline points="52,52 75,46 65,63 58,63" fill="none" stroke="#dba56a" stroke-width="4.369999999999999" stroke-linecap="round" stroke-linejoin="round" style="vector-effect:none"/></g></svg>
<svg style="left:3071.0px;top:1459.0px;overflow:hidden" width="90.1" height="89.5" viewBox="0 0 100 100" preserveAspectRatio="none"><g filter="url(#bl2)"><rect x="-30" y="-30" width="160" height="160" fill="#2a2420"/><ellipse cx="68" cy="20" rx="34" ry="26" fill="#cdd1d9"/><ellipse cx="20" cy="30" rx="20" ry="22" fill="#1a1816"/><ellipse cx="45" cy="50" rx="20" ry="12" fill="#55504a"/><ellipse cx="50" cy="90" rx="70" ry="20" fill="#211c18"/><ellipse cx="10" cy="60" rx="14" ry="14" fill="#181614"/></g><g filter="url(#bl2)" opacity="0.85"><polyline points="30,72 64,46" fill="none" stroke="#d8a060" stroke-width="5.5" stroke-linecap="round" stroke-linejoin="round" style="vector-effect:none"/><polyline points="44,50 62,72" fill="none" stroke="#d8a060" stroke-width="5.0" stroke-linecap="round" stroke-linejoin="round" style="vector-effect:none"/><polyline points="52,40 54,56" fill="none" stroke="#d8a060" stroke-width="5.0" stroke-linecap="round" stroke-linejoin="round" style="vector-effect:none"/></g></svg>
<svg style="left:3071.0px;top:1552.0px;overflow:hidden" width="90.1" height="89.5" viewBox="0 0 100 100" preserveAspectRatio="none"><g filter="url(#bl3)"><rect x="-30" y="-30" width="160" height="160" fill="#b9bdc1"/><ellipse cx="30" cy="14" rx="30" ry="14" fill="#f0f2f4"/><ellipse cx="80" cy="20" rx="20" ry="16" fill="#e4e6e8"/><ellipse cx="85" cy="60" rx="16" ry="20" fill="#dcdcd8"/><ellipse cx="15" cy="60" rx="14" ry="20" fill="#c8c8c4"/><ellipse cx="20" cy="94" rx="30" ry="12" fill="#3a3a34"/><ellipse cx="70" cy="96" rx="40" ry="10" fill="#4a4a44"/><ellipse cx="50" cy="50" rx="20" ry="30" fill="#9a9a92"/></g><g filter="url(#bl3)" opacity="0.75"><ellipse cx="52" cy="48" rx="10" ry="20" fill="#d6a060"/><ellipse cx="46" cy="66" rx="12" ry="8" fill="#d6a060"/></g></svg>
<div class="t" style="left:2628.17px;top:1299.04px;font-size:31.00px;font-family:'Liberation Serif',serif;transform:scaleX(1.0946);">Input</div>
<div class="t" style="left:2569.60px;top:1394.84px;font-size:31.00px;font-family:'Liberation Serif',serif;transform:scaleX(1.0850);">D</div>
<div class="t" style="left:2593.89px;top:1400.28px;font-size:24.50px;font-family:'Liberation Serif',serif;transform:scaleX(1.0850);">REAMER</div>
<div class="t" style="left:2704.66px;top:1394.84px;font-size:31.00px;font-family:'Liberation Serif',serif;transform:scaleX(1.0850);">P</div>
<div class="t" style="left:2723.37px;top:1400.28px;font-size:24.50px;font-family:'Liberation Serif',serif;transform:scaleX(1.0850);">RO</div>
<div class="t" style="left:2598.40px;top:1489.24px;font-size:31.00px;font-family:'Liberation Serif',serif;transform:scaleX(1.0733);">D</div>
<div class="t" style="left:2622.43px;top:1494.68px;font-size:24.50px;font-family:'Liberation Serif',serif;transform:scaleX(1.0733);">REAMER</div>
<div class="t" style="left:2631.00px;top:1582.74px;font-size:31.00px;font-family:'Liberation Serif',serif;transform:scaleX(1.2440);">TPC</div>
<svg style="left:148.3px;top:1624.3px;overflow:hidden" width="73.9" height="73.4" viewBox="0 0 100 100" preserveAspectRatio="none"><rect x="0" y="0" width="100" height="100" fill="#43212a"/><rect x="0" y="0" width="100" height="34" fill="#c9cdd1"/><g filter="url(#bl1)"><path d="M0,10L8,4L16,20L24,8L34,30L44,14L52,40L46,70L0,80Z" fill="#7a6424"/><path d="M4,30L14,16L22,50L10,70Z" fill="#8a7a3a"/><path d="M28,24L38,18L44,50L32,56Z" fill="#a87418"/><path d="M60,20L100,16V50L62,52Z" fill="#33333b"/><path d="M64,30L98,26V40L66,44Z" fill="#55606a"/><path d="M36,56Q60,44 100,50V100H0V86L36,82Z" fill="#4a1f27"/><path d="M24,58H30V78H24Z" fill="#9aa0a0"/><path d="M0,80H40V100H0Z" fill="#2c1a1c"/></g><polyline points="62,7 60,52" fill="none" stroke="#ecb370" stroke-width="7.5" stroke-linecap="round" stroke-linejoin="round" style="vector-effect:none"/><polyline points="60,52 88,50 82,76 90,72" fill="none" stroke="#ecb370" stroke-width="4.6" stroke-linecap="round" stroke-linejoin="round" style="vector-effect:none"/><polyline points="60,52 58,72 38,86 50,87" fill="none" stroke="#ecb370" stroke-width="4.6" stroke-linecap="round" stroke-linejoin="round" style="vector-effect:none"/></svg>
<svg style="left:148.3px;top:1771.0px;overflow:hidden" width="73.9" height="73.6" viewBox="0 0 100 100" preserveAspectRatio="none"><rect x="0" y="0" width="100" height="100" fill="#43212a"/><rect x="0" y="0" width="100" height="42" fill="#c6cad2"/><g filter="url(#bl1)"><path d="M0,30L8,22L14,36L22,26L30,44L26,66L0,70Z" fill="#7a6424"/><path d="M4,40L12,30L18,56L8,64Z" fill="#a87418"/><path d="M38,32L86,30L90,60L40,62Z" fill="#34343c"/><path d="M44,38L84,36V52L46,56Z" fill="#4a525a"/><path d="M88,30L100,32V64L90,62Z" fill="#b4b8bc"/><path d="M12,70Q40,54 100,62V100H0V80Z" fill="#4a1f27"/><path d="M0,66H8V86H0Z" fill="#8a9090"/></g><path d="M70,42l6,-2l-2,5l4,1l-5,3l-1,4" stroke="#e8e8e8" stroke-width="1.6" fill="none"/><polyline points="37,20 35,62" fill="none" stroke="#ecb370" stroke-width="7.5" stroke-linecap="round" stroke-linejoin="round" style="vector-effect:none"/><polyline points="35,62 63,60 56,88 65,85" fill="none" stroke="#ecb370" stroke-width="4.6" stroke-linecap="round" stroke-linejoin="round" style="vector-effect:none"/><polyline points="35,62 33,85 12,98" fill="none" stroke="#ecb370" stroke-width="4.6" stroke-linecap="round" stroke-linejoin="round" style="vector-effect:none"/></svg>
</body></html>
